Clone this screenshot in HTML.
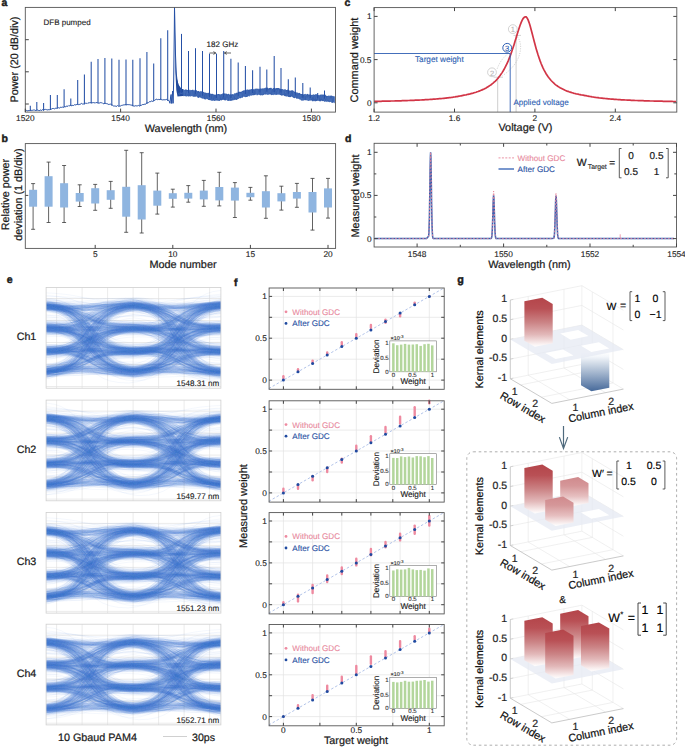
<!DOCTYPE html>
<html><head><meta charset="utf-8"><style>
html,body{margin:0;padding:0;background:#fff;}
svg{display:block;font-family:"Liberation Sans", sans-serif;text-rendering:geometricPrecision;}
</style></head><body>
<svg width="685" height="747" viewBox="0 0 685 747">
<rect width="685" height="747" fill="#fff"/>
<text x="1.5" y="6.3" font-size="10.5" text-anchor="start" fill="#1a1a1a" stroke="#1a1a1a" stroke-width="0.45" font-weight="bold">a</text>
<polyline points="25.6,110.7 26.4,110.4 27.2,111 28,110.3 28.8,110.7 29.6,110.5 30.4,110.1 31.2,110.6 32,110 32.8,110.4 33.6,110 34.4,110 35.2,110.3 36,110.7 36.8,109.9 37.6,110 38.4,110.4 39.2,110.7 40,110.2 40.8,110 41.6,110.6 42.4,109.5 43.2,110.4 44,109.7 44.8,109.5 45.6,109.4 46.4,109.6 47.2,110.1 48,109.4 48.8,109.8 49.6,109.7 50.4,109.3 51.2,109.3 52,108.6 52.8,108.5 53.6,108.5 54.4,108.9 55.2,108.4 56,108.1 56.8,108.3 57.6,108 58.4,107.7 59.2,108.1 60,107.8 60.8,107.1 61.6,107.4 62.4,107.1 63.2,107.4 64,107.1 64.8,106.4 65.6,107 66.4,106 67.2,106.1 68,106.4 68.8,105.5 69.6,105.8 70.4,105.1 71.2,105.7 72,105.6 72.8,105.3 73.6,105.5 74.4,104.7 75.2,105 76,104.7 76.8,104.5 77.6,104.3 78.4,104.6 79.2,104.6 80,104 80.8,104.1 81.6,103.4 82.4,104 83.2,103.9 84,104.2 84.8,103.9 85.6,103.2 86.4,103.3 87.2,103.5 88,102.7 88.8,103.1 89.6,102.7 90.4,102.6 91.2,102.5 92,103.2 92.8,102.5 93.6,102.6 94.4,102.7 95.2,103.2 96,102.3 96.8,102.7 97.6,102.8 98.4,103.1 99.2,103 100,103 100.8,102.5 101.6,102.8 102.4,102.9 103.2,103.7 104,103.9 104.8,103.2 105.6,103.4 106.4,103.6 107.2,103.7 108,104.2 108.8,104.5 109.6,104.3 110.4,104.1 111.2,104.8 112,104.9 112.8,105.4 113.6,106 114.4,106 115.2,106 116,106.3 116.8,106.3 117.6,105.5 118.4,106.3 119.2,106.1 120,106.1 120.8,105.9 121.6,105.4 122.4,105.3 123.2,104.8 124,105.3 124.8,104.6 125.6,104.5 126.4,104.6 127.2,104.5 128,104.8 128.8,104.6 129.6,104.7 130.4,104.9 131.2,105 132,105.4 132.8,105.2 133.6,106.2 134.4,106.1 135.2,105.7 136,105.9 136.8,105.9 137.6,105.8 138.4,105.4 139.2,106 140,106 140.8,105.3 141.6,105.2 142.4,104.6 143.2,104.5 144,104.6 144.8,104.1 145.6,104.3 146.4,103.2 147.2,102.6 148,103.2 148.8,102.3 149.6,101.6 150.4,101.8 151.2,100.9 152,101.2 152.8,101.4 153.6,101 154.4,100.5 155.2,99.8 156,99.6 156.8,99.1 157.6,99.7 158.4,99.4 159.2,99.7 160,99.2 160.8,99.1 161.6,99.7 162.4,99.9 163.2,99.8 164,99.7 164.8,99.8 165.6,99.7 166.4,99.3 167.2,100.1 168,100.3 168.8,100.4 169.2,101 170,103.3 170.6,97 171.1,94.5 171.7,103.5 172.6,91 173.1,103.3 173.7,80 174.3,30 174.5,7.6 174.8,20 175.5,55 176.3,74 177,80 178,85 179,88 180,90.5" fill="none" stroke="#2550a6" stroke-width="1" stroke-linejoin="round"/>
<polygon points="178,87.9 178.8,88.3 179.6,89.3 180.4,89.5 181.2,89.7 182,89 182.8,89.1 183.6,89.6 184.4,89.9 185.2,89.7 186,89.1 186.8,90.1 187.6,90 188.4,89.4 189.2,89.6 190,90.4 190.8,89.8 191.6,90.2 192.4,89.5 193.2,90.5 194,89.6 194.8,90.7 195.6,90.1 196.4,90 197.2,91.2 198,90.9 198.8,91 199.6,91.7 200.4,91.2 201.2,91.3 202,91.6 202.8,91.6 203.6,92.1 204.4,92.5 205.2,92.5 206,92.8 206.8,93 207.6,93.1 208.4,92.8 209.2,93.1 210,94 210.8,93.6 211.6,94.1 212.4,93.7 213.2,94.1 214,94.7 214.8,94.4 215.6,94.8 216.4,94.3 217.2,94.2 218,94 218.8,94 219.6,94.2 220.4,94.5 221.2,94 222,94.3 222.8,93.3 223.6,93.2 224.4,93.2 225.2,94 226,93.2 226.8,94 227.6,94.3 228.4,93.7 229.2,94 230,94.9 230.8,94 231.6,94.6 232.4,94.1 233.2,94.5 234,94 234.8,93.1 235.6,93.5 236.4,92.6 237.2,93.2 238,92.1 238.8,91.7 239.6,91.8 240.4,91.7 241.2,91.9 242,90.8 242.8,91 243.6,90.2 244.4,90.6 245.2,89.8 246,90.3 246.8,89.6 247.6,89.4 248.4,89.8 249.2,89.8 250,89.3 250.8,89.5 251.6,88.9 252.4,88.7 253.2,88.9 254,89.4 254.8,88.9 255.6,88.7 256.4,88.5 257.2,89 258,88.3 258.8,89.2 259.6,89 260.4,88.5 261.2,88.4 262,88.7 262.8,88.2 263.6,88.6 264.4,88.2 265.2,87.7 266,87.7 266.8,87.8 267.6,87.6 268.4,88.6 269.2,87.9 270,88 270.8,87.8 271.6,88 272.4,88.9 273.2,88 274,88.1 274.8,87.8 275.6,88.4 276.4,88.1 277.2,87.9 278,88 278.8,88 279.6,88.4 280.4,88.8 281.2,89.1 282,89.2 282.8,89 283.6,89.8 284.4,89.6 285.2,89 286,90.1 286.8,90.1 287.6,89.5 288.4,90.1 289.2,90.6 290,90.4 290.8,90.7 291.6,90.3 292.4,90.3 293.2,90.6 294,91.4 294.8,91.7 295.6,91.8 296.4,92.5 297.2,92.4 298,92.8 298.8,93.2 299.6,92.7 300.4,93.7 301.2,94 302,94 302.8,94 303.6,94.4 304.4,94.3 305.2,93.7 306,94.5 306.8,94.3 307.6,93.7 308.4,94.5 309.2,94.5 310,94.4 310.8,94.4 311.6,94.9 312.4,95 313.2,93.9 314,94.9 314.8,94.5 315.6,94.2 316.4,94.2 317.2,94.2 318,95.2 318.8,95 319.6,95.2 320.4,94.4 321.2,94.7 322,94.2 322.8,94.7 323.6,94.5 324.4,94.8 325.2,94.5 326,95.6 326.8,95.9 327.6,95.9 328.4,95.4 329.2,96.3 330,95.6 330.8,95.7 331.6,95.6 332.4,95.9 333.2,96 334,96.4 334.8,96.3 334.8,103.4 334,102.4 333.2,102.4 332.4,103.1 331.6,102.8 330.8,101.8 330,102.1 329.2,102.2 328.4,101.8 327.6,101.6 326.8,102 326,101.2 325.2,101.8 324.4,101.8 323.6,101.1 322.8,101 322,101.2 321.2,100.6 320.4,101.6 319.6,101.3 318.8,101.1 318,100.6 317.2,101 316.4,101.1 315.6,101.5 314.8,100.7 314,101.5 313.2,100.8 312.4,101.4 311.6,100.5 310.8,100.3 310,100.7 309.2,100.5 308.4,100.9 307.6,100.4 306.8,100 306,100.3 305.2,100.3 304.4,100 303.6,100.6 302.8,100.7 302,100.3 301.2,100.7 300.4,99.5 299.6,99.3 298.8,99 298,98.5 297.2,98.8 296.4,98.8 295.6,97.6 294.8,98.2 294,97.9 293.2,97.8 292.4,97 291.6,96.4 290.8,97.1 290,97.2 289.2,97 288.4,96.9 287.6,96.3 286.8,96.6 286,96.2 285.2,96.3 284.4,96 283.6,95.2 282.8,95.3 282,95.8 281.2,95.4 280.4,95.1 279.6,94.7 278.8,94.4 278,94.8 277.2,94.6 276.4,94.9 275.6,94.8 274.8,94.7 274,94.6 273.2,95.3 272.4,94.8 271.6,95.2 270.8,94.6 270,94.6 269.2,94.3 268.4,94.7 267.6,94.9 266.8,94.1 266,94.9 265.2,94.2 264.4,94.5 263.6,94.9 262.8,95.2 262,95.4 261.2,94.9 260.4,95.4 259.6,94.9 258.8,94.6 258,95.1 257.2,95.2 256.4,94.6 255.6,94.7 254.8,94.9 254,95.2 253.2,95.3 252.4,95.3 251.6,95.4 250.8,95.6 250,95.6 249.2,96.6 248.4,96 247.6,96.8 246.8,96.9 246,96.9 245.2,97.2 244.4,96.7 243.6,96.5 242.8,97.6 242,98.1 241.2,97.6 240.4,98.6 239.6,98 238.8,99 238,98.7 237.2,99.8 236.4,100.1 235.6,99.8 234.8,99.8 234,100.3 233.2,100 232.4,100.6 231.6,100.7 230.8,100.7 230,101.1 229.2,100.5 228.4,101 227.6,100.9 226.8,99.7 226,100.3 225.2,100.5 224.4,100.3 223.6,99.8 222.8,100.1 222,99.8 221.2,100.8 220.4,100.1 219.6,100.9 218.8,101 218,100.5 217.2,100.8 216.4,100.6 215.6,100.6 214.8,101 214,100.8 213.2,100.5 212.4,100.7 211.6,100.8 210.8,100.3 210,100.2 209.2,99.9 208.4,100.1 207.6,99.2 206.8,98.8 206,99.2 205.2,99.5 204.4,99.3 203.6,98.6 202.8,98.9 202,98.1 201.2,98.2 200.4,97.6 199.6,97.3 198.8,97.9 198,97.8 197.2,97.3 196.4,96.3 195.6,96.8 194.8,96.7 194,96.8 193.2,96.8 192.4,95.9 191.6,95.9 190.8,96.8 190,96.1 189.2,96.5 188.4,96.5 187.6,96.1 186.8,96.4 186,96.2 185.2,96.3 184.4,95.9 183.6,96.3 182.8,95.5 182,95.4 181.2,95.4 180.4,95.9 179.6,95.1 178.8,95.2 178,94.6" fill="#2652a6" opacity="0.92"/>
<polygon points="174.6,10 175.3,48 176.1,70 177,79 178.5,84.5 181,88.2 183,89.5 183,96 177.5,96.5 176.3,90 175.4,72" fill="#214a9c"/>
<polyline points="178,94.4 178.4,94 178.9,92.8 179.3,94.9 179.8,95.2 180.2,92.5 180.7,93.8 181.1,89.1 181.6,94.1 182,92.2 182.5,94.4 182.9,93.7 183.4,91.1 183.8,89.4 184.3,95.8 184.7,90 185.2,92.6 185.6,91.7 186.1,91.4 186.5,94.6 187,96.3 187.4,91.2 187.9,94 188.3,91.5 188.8,93.4 189.2,92.2 189.7,90.6 190.1,90.6 190.6,91 191,96 191.5,93.1 191.9,91.1 192.4,96.1 192.8,96.8 193.3,92.9 193.7,90.6 194.2,91.1 194.6,90.3 195.1,92.2 195.5,90.5 196,91.7 196.4,92 196.9,94.3 197.3,96.7 197.8,95.8 198.2,93.5 198.7,93.6 199.1,94.5 199.6,93.6 200,93.4 200.5,91.5 200.9,93.2 201.4,98.3 201.8,92.3 202.3,95.1 202.7,96.2 203.2,97.9 203.6,93.4 204.1,93.9 204.5,93.8 205,95 205.4,95.5 205.9,99.3 206.3,98.6 206.8,98.9 207.2,92.9 207.7,93 208.1,98 208.6,99.4 209,96.5 209.5,97.4 209.9,93.3 210.4,96.2 210.8,100.1 211.3,99.5 211.7,99.8 212.2,100.7 212.6,95.6 213.1,94.7 213.5,95.1 214,97.7 214.4,98.8 214.9,100.7 215.3,99.1 215.8,98.5 216.2,99.3 216.7,97.1 217.1,97.7 217.6,94 218,99.3 218.5,95.3 218.9,100.3 219.4,98.3 219.8,95.8 220.3,94.5 220.7,95.3 221.2,98.1 221.6,98.5 222.1,94.2 222.5,93.9 223,97.2 223.4,97.5 223.9,96.1 224.3,94.9 224.8,97.6 225.2,93.3 225.7,95.4 226.1,96.6 226.6,100.2 227,98 227.5,99.8 227.9,97 228.4,95.3 228.8,95.5 229.3,100.7 229.7,98.9 230.2,96.1 230.6,94.1 231.1,97.6 231.5,99 232,97.2 232.4,95.9 232.9,98.7 233.3,100.4 233.8,95.2 234.2,93.7 234.7,95.7 235.1,96.2 235.6,97.9 236,94.3 236.5,98.4 236.9,97.8 237.4,96 237.8,93.7 238.3,99 238.7,94.2 239.2,97.7 239.6,93.3 240.1,93.1 240.5,96.8 241,93.3 241.4,97.9 241.9,94.4 242.3,92 242.8,92.1 243.2,93.4 243.7,95 244.1,96.9 244.6,91 245,92.7 245.5,91.4 245.9,96.8 246.4,90.7 246.8,90 247.3,90 247.7,92.4 248.2,95.9 248.6,95.8 249.1,94.6 249.5,96.5 250,95.9 250.4,91.5 250.9,90.4 251.3,95.8 251.8,94.3 252.2,89.1 252.7,93.6 253.1,91.5 253.6,91.4 254,91 254.5,89.8 254.9,88.5 255.4,90.5 255.8,91 256.3,95.3 256.7,89.3 257.2,95.3 257.6,89.8 258.1,90.9 258.5,94.2 259,94.2 259.4,91.3 259.9,88.5 260.3,91.6 260.8,90.8 261.2,94.7 261.7,89.5 262.1,90.7 262.6,94.5 263,88.2 263.5,90.9 263.9,93.8 264.4,93.4 264.8,88.2 265.3,88.1 265.7,88.3 266.2,94.4 266.6,89.6 267.1,93.1 267.5,94.2 268,90.2 268.4,89.7 268.9,94.7 269.3,92.2 269.8,89.7 270.2,93 270.7,90.1 271.1,89.8 271.6,87.9 272,93.3 272.5,94.5 272.9,92.5 273.4,94.7 273.8,88.1 274.3,89.7 274.7,91.4 275.2,94.9 275.6,94.9 276.1,90.8 276.5,89.9 277,91.2 277.4,91.7 277.9,94.8 278.3,89.5 278.8,93.9 279.2,93.5 279.7,94.1 280.1,93.8 280.6,92.7 281,90.8 281.5,90.8 281.9,91.2 282.4,94.3 282.8,89.3 283.3,90.2 283.7,94.3 284.2,90.7 284.6,89.5 285.1,89.3 285.5,93.2 286,91.6 286.4,96.4 286.9,95.8 287.3,96.6 287.8,91.5 288.2,90.2 288.7,90.4 289.1,93.4 289.6,95 290,93.2 290.5,91.7 290.9,93.1 291.4,94.6 291.8,95.1 292.3,95.7 292.7,96.6 293.2,95.4 293.6,91.7 294.1,97 294.5,93.2 295,95.3 295.4,94.1 295.9,96.9 296.3,93.1 296.8,93.6 297.2,93.8 297.7,93.3 298.1,98.7 298.6,96.6 299,95 299.5,95.6 299.9,100.1 300.4,96.7 300.8,94.9 301.3,99.2 301.7,98.2 302.2,100.7 302.6,94.4 303.1,97.1 303.5,99.6 304,99.7 304.4,100.3 304.9,94 305.3,95.9 305.8,94.6 306.2,95.2 306.7,100.8 307.1,98 307.6,100.6 308,96.6 308.5,100.1 308.9,97.1 309.4,95.8 309.8,99.6 310.3,100.8 310.7,94.8 311.2,98.3 311.6,98.5 312.1,95.6 312.5,96.7 313,95.1 313.4,95.6 313.9,95.9 314.3,98.4 314.8,98.8 315.2,95.6 315.7,94.2 316.1,96.5 316.6,99.1 317,95.5 317.5,96.5 317.9,95.7 318.4,100 318.8,98.2 319.3,94.7 319.7,95 320.2,97.2 320.6,98.3 321.1,98.9 321.5,95 322,95.5 322.4,99.4 322.9,97.3 323.3,96.5 323.8,96.7 324.2,101.4 324.7,96.9 325.1,98.8 325.6,97.3 326,97.8 326.5,101.1 326.9,102.1 327.4,97.7 327.8,96.5 328.3,100.4 328.7,96.7 329.2,95.3 329.6,101.8 330.1,98.5 330.5,101.4 331,98.5 331.4,102 331.9,99 332.3,96.9 332.8,95.9 333.2,99.8 333.7,100.6 334.1,102.6 334.6,96.7 335,100.6 335.5,98.9" fill="none" stroke="#5a85c8" stroke-width="0.35" opacity="0.7"/>
<path d="M30.3,111.1 L30.3,105.8" fill="none" stroke="#2550a6" stroke-width="1.05"/>
<path d="M36.8,110.8 L36.8,102" fill="none" stroke="#2550a6" stroke-width="1.05"/>
<path d="M43.6,110.5 L43.6,103" fill="none" stroke="#2550a6" stroke-width="1.05"/>
<path d="M50.4,109.9 L50.4,94.9" fill="none" stroke="#2550a6" stroke-width="1.05"/>
<path d="M57.3,108.6 L57.3,95.1" fill="none" stroke="#2550a6" stroke-width="1.05"/>
<path d="M64.1,107.3 L64.1,89.2" fill="none" stroke="#2550a6" stroke-width="1.05"/>
<path d="M70.8,106.1 L70.8,98.4" fill="none" stroke="#2550a6" stroke-width="1.05"/>
<path d="M77.7,104.8 L77.7,80" fill="none" stroke="#2550a6" stroke-width="1.05"/>
<path d="M84.4,104.1 L84.4,74.6" fill="none" stroke="#2550a6" stroke-width="1.05"/>
<path d="M91.2,103.5 L91.2,61.8" fill="none" stroke="#2550a6" stroke-width="1.05"/>
<path d="M98,103.2 L98,59" fill="none" stroke="#2550a6" stroke-width="1.05"/>
<path d="M104.9,104.1 L104.9,58" fill="none" stroke="#2550a6" stroke-width="1.05"/>
<path d="M111.8,105.5 L111.8,58.5" fill="none" stroke="#2550a6" stroke-width="1.05"/>
<path d="M119,106.3 L119,59.8" fill="none" stroke="#2550a6" stroke-width="1.05"/>
<path d="M126,105.4 L126,59.6" fill="none" stroke="#2550a6" stroke-width="1.05"/>
<path d="M132.8,106.2 L132.8,59.8" fill="none" stroke="#2550a6" stroke-width="1.05"/>
<path d="M140,106 L140,58.2" fill="none" stroke="#2550a6" stroke-width="1.05"/>
<path d="M146.9,103.8 L146.9,51.9" fill="none" stroke="#2550a6" stroke-width="1.05"/>
<path d="M153.7,101.1 L153.7,63.5" fill="none" stroke="#2550a6" stroke-width="1.05"/>
<path d="M160.8,99.9 L160.8,38.3" fill="none" stroke="#2550a6" stroke-width="1.05"/>
<path d="M167.7,100.8 L167.7,30.2" fill="none" stroke="#2550a6" stroke-width="1.05"/>
<path d="M181.5,92.9 L181.5,33.9" fill="none" stroke="#2550a6" stroke-width="1.05"/>
<path d="M188.5,93.4 L188.5,51" fill="none" stroke="#2550a6" stroke-width="1.05"/>
<path d="M195.5,94 L195.5,48.2" fill="none" stroke="#2550a6" stroke-width="1.05"/>
<path d="M202.5,95.7 L202.5,51" fill="none" stroke="#2550a6" stroke-width="1.05"/>
<path d="M209.5,97.3 L209.5,53.6" fill="none" stroke="#2550a6" stroke-width="1.05"/>
<path d="M216.5,97.9 L216.5,53.6" fill="none" stroke="#2550a6" stroke-width="1.05"/>
<path d="M223.7,97.4 L223.7,51" fill="none" stroke="#2550a6" stroke-width="1.05"/>
<path d="M230.9,98.1 L230.9,58.7" fill="none" stroke="#2550a6" stroke-width="1.05"/>
<path d="M238.2,96.2 L238.2,62.4" fill="none" stroke="#2550a6" stroke-width="1.05"/>
<path d="M245.4,94 L245.4,66" fill="none" stroke="#2550a6" stroke-width="1.05"/>
<path d="M252.6,92.9 L252.6,70.2" fill="none" stroke="#2550a6" stroke-width="1.05"/>
<path d="M260,92.3 L260,66.7" fill="none" stroke="#2550a6" stroke-width="1.05"/>
<path d="M266.8,91.8 L266.8,69.6" fill="none" stroke="#2550a6" stroke-width="1.05"/>
<path d="M274.2,92.1 L274.2,56.1" fill="none" stroke="#2550a6" stroke-width="1.05"/>
<path d="M281,92.5 L281,67.9" fill="none" stroke="#2550a6" stroke-width="1.05"/>
<path d="M288.3,93.7 L288.3,79.3" fill="none" stroke="#2550a6" stroke-width="1.05"/>
<path d="M295.3,95.4 L295.3,77.5" fill="none" stroke="#2550a6" stroke-width="1.05"/>
<path d="M302.8,97.7 L302.8,83" fill="none" stroke="#2550a6" stroke-width="1.05"/>
<path d="M310.2,98.1 L310.2,87.4" fill="none" stroke="#2550a6" stroke-width="1.05"/>
<path d="M317.7,98.3 L317.7,93" fill="none" stroke="#2550a6" stroke-width="1.05"/>
<path d="M324.5,98.7 L324.5,90.5" fill="none" stroke="#2550a6" stroke-width="1.05"/>
<rect x="25.3" y="7.4" width="310.2" height="104.7" fill="none" stroke="#555" stroke-width="0.9"/>
<line x1="25.3" y1="39.7" x2="28.8" y2="39.7" stroke="#444" stroke-width="1.0"/>
<line x1="25.3" y1="71.8" x2="28.8" y2="71.8" stroke="#444" stroke-width="1.0"/>
<line x1="25.3" y1="104" x2="28.8" y2="104" stroke="#444" stroke-width="1.0"/>
<line x1="25.3" y1="112.1" x2="25.3" y2="108.6" stroke="#444" stroke-width="1.0"/>
<text x="25.3" y="120.9" font-size="8.3" text-anchor="middle" fill="#1a1a1a" stroke="#1a1a1a" stroke-width="0.12">1520</text>
<line x1="120.6" y1="112.1" x2="120.6" y2="108.6" stroke="#444" stroke-width="1.0"/>
<text x="120.6" y="120.9" font-size="8.3" text-anchor="middle" fill="#1a1a1a" stroke="#1a1a1a" stroke-width="0.12">1540</text>
<line x1="216" y1="112.1" x2="216" y2="108.6" stroke="#444" stroke-width="1.0"/>
<text x="216" y="120.9" font-size="8.3" text-anchor="middle" fill="#1a1a1a" stroke="#1a1a1a" stroke-width="0.12">1560</text>
<line x1="311.4" y1="112.1" x2="311.4" y2="108.6" stroke="#444" stroke-width="1.0"/>
<text x="311.4" y="120.9" font-size="8.3" text-anchor="middle" fill="#1a1a1a" stroke="#1a1a1a" stroke-width="0.12">1580</text>
<text x="186" y="132" font-size="10.9" text-anchor="middle" fill="#1a1a1a" stroke="#1a1a1a" stroke-width="0.22">Wavelength (nm)</text>
<text x="17.8" y="59.5" font-size="10.8" text-anchor="middle" fill="#1a1a1a" stroke="#1a1a1a" stroke-width="0.22" transform="rotate(-90 17.8 59.5)">Power (20 dB/div)</text>
<text x="43.5" y="25.2" font-size="8" text-anchor="start" fill="#1a1a1a" stroke="#1a1a1a" stroke-width="0.12">DFB pumped</text>
<text x="206.6" y="46.8" font-size="8" text-anchor="start" fill="#1a1a1a" stroke="#1a1a1a" stroke-width="0.12">182 GHz</text>
<path d="M209.5,53 H215.6 M213.4,51.6 L215.8,53 L213.4,54.4" fill="none" stroke="#222" stroke-width="0.7"/>
<path d="M231,53 H224.6 M226.8,51.6 L224.4,53 L226.8,54.4" fill="none" stroke="#222" stroke-width="0.7"/>
<text x="1.5" y="142" font-size="10.5" text-anchor="start" fill="#1a1a1a" stroke="#1a1a1a" stroke-width="0.45" font-weight="bold">b</text>
<line x1="33.1" y1="183.6" x2="33.1" y2="229.3" stroke="#3a3a3a" stroke-width="0.8"/>
<line x1="31.1" y1="183.6" x2="35.1" y2="183.6" stroke="#3a3a3a" stroke-width="0.8"/>
<line x1="31.1" y1="229.3" x2="35.1" y2="229.3" stroke="#3a3a3a" stroke-width="0.8"/>
<rect x="29.1" y="189.8" width="8" height="16.9" fill="#8fb5e0"/>
<line x1="48.6" y1="162.1" x2="48.6" y2="222.5" stroke="#3a3a3a" stroke-width="0.8"/>
<line x1="46.6" y1="162.1" x2="50.6" y2="162.1" stroke="#3a3a3a" stroke-width="0.8"/>
<line x1="46.6" y1="222.5" x2="50.6" y2="222.5" stroke="#3a3a3a" stroke-width="0.8"/>
<rect x="44.6" y="176.2" width="8" height="30.5" fill="#8fb5e0"/>
<line x1="64.1" y1="165.5" x2="64.1" y2="222.5" stroke="#3a3a3a" stroke-width="0.8"/>
<line x1="62.1" y1="165.5" x2="66.1" y2="165.5" stroke="#3a3a3a" stroke-width="0.8"/>
<line x1="62.1" y1="222.5" x2="66.1" y2="222.5" stroke="#3a3a3a" stroke-width="0.8"/>
<rect x="60.1" y="183.2" width="8" height="24.3" fill="#8fb5e0"/>
<line x1="79.7" y1="184.8" x2="79.7" y2="206.5" stroke="#3a3a3a" stroke-width="0.8"/>
<line x1="77.7" y1="184.8" x2="81.7" y2="184.8" stroke="#3a3a3a" stroke-width="0.8"/>
<line x1="77.7" y1="206.5" x2="81.7" y2="206.5" stroke="#3a3a3a" stroke-width="0.8"/>
<rect x="75.7" y="193" width="8" height="8.6" fill="#8fb5e0"/>
<line x1="95.2" y1="184.4" x2="95.2" y2="210.3" stroke="#3a3a3a" stroke-width="0.8"/>
<line x1="93.2" y1="184.4" x2="97.2" y2="184.4" stroke="#3a3a3a" stroke-width="0.8"/>
<line x1="93.2" y1="210.3" x2="97.2" y2="210.3" stroke="#3a3a3a" stroke-width="0.8"/>
<rect x="91.2" y="188.2" width="8" height="15.3" fill="#8fb5e0"/>
<line x1="110.7" y1="181.4" x2="110.7" y2="208.3" stroke="#3a3a3a" stroke-width="0.8"/>
<line x1="108.7" y1="181.4" x2="112.7" y2="181.4" stroke="#3a3a3a" stroke-width="0.8"/>
<line x1="108.7" y1="208.3" x2="112.7" y2="208.3" stroke="#3a3a3a" stroke-width="0.8"/>
<rect x="106.7" y="190.2" width="8" height="9.6" fill="#8fb5e0"/>
<line x1="126.2" y1="150.3" x2="126.2" y2="232.3" stroke="#3a3a3a" stroke-width="0.8"/>
<line x1="124.2" y1="150.3" x2="128.2" y2="150.3" stroke="#3a3a3a" stroke-width="0.8"/>
<line x1="124.2" y1="232.3" x2="128.2" y2="232.3" stroke="#3a3a3a" stroke-width="0.8"/>
<rect x="122.2" y="186.8" width="8" height="29.9" fill="#8fb5e0"/>
<line x1="141.7" y1="152.7" x2="141.7" y2="233" stroke="#3a3a3a" stroke-width="0.8"/>
<line x1="139.7" y1="152.7" x2="143.7" y2="152.7" stroke="#3a3a3a" stroke-width="0.8"/>
<line x1="139.7" y1="233" x2="143.7" y2="233" stroke="#3a3a3a" stroke-width="0.8"/>
<rect x="137.7" y="185.2" width="8" height="34.3" fill="#8fb5e0"/>
<line x1="157.3" y1="173.1" x2="157.3" y2="214.1" stroke="#3a3a3a" stroke-width="0.8"/>
<line x1="155.3" y1="173.1" x2="159.3" y2="173.1" stroke="#3a3a3a" stroke-width="0.8"/>
<line x1="155.3" y1="214.1" x2="159.3" y2="214.1" stroke="#3a3a3a" stroke-width="0.8"/>
<rect x="153.3" y="190.6" width="8" height="15.1" fill="#8fb5e0"/>
<line x1="172.8" y1="189.2" x2="172.8" y2="207.1" stroke="#3a3a3a" stroke-width="0.8"/>
<line x1="170.8" y1="189.2" x2="174.8" y2="189.2" stroke="#3a3a3a" stroke-width="0.8"/>
<line x1="170.8" y1="207.1" x2="174.8" y2="207.1" stroke="#3a3a3a" stroke-width="0.8"/>
<rect x="168.8" y="193.2" width="8" height="5.6" fill="#8fb5e0"/>
<line x1="188.3" y1="185.6" x2="188.3" y2="202.2" stroke="#3a3a3a" stroke-width="0.8"/>
<line x1="186.3" y1="185.6" x2="190.3" y2="185.6" stroke="#3a3a3a" stroke-width="0.8"/>
<line x1="186.3" y1="202.2" x2="190.3" y2="202.2" stroke="#3a3a3a" stroke-width="0.8"/>
<rect x="184.3" y="192.8" width="8" height="5.8" fill="#8fb5e0"/>
<line x1="203.8" y1="180.4" x2="203.8" y2="206.3" stroke="#3a3a3a" stroke-width="0.8"/>
<line x1="201.8" y1="180.4" x2="205.8" y2="180.4" stroke="#3a3a3a" stroke-width="0.8"/>
<line x1="201.8" y1="206.3" x2="205.8" y2="206.3" stroke="#3a3a3a" stroke-width="0.8"/>
<rect x="199.8" y="190.6" width="8" height="8.8" fill="#8fb5e0"/>
<line x1="219.3" y1="172.3" x2="219.3" y2="205.9" stroke="#3a3a3a" stroke-width="0.8"/>
<line x1="217.3" y1="172.3" x2="221.3" y2="172.3" stroke="#3a3a3a" stroke-width="0.8"/>
<line x1="217.3" y1="205.9" x2="221.3" y2="205.9" stroke="#3a3a3a" stroke-width="0.8"/>
<rect x="215.3" y="187" width="8" height="13.4" fill="#8fb5e0"/>
<line x1="234.9" y1="182.6" x2="234.9" y2="217.5" stroke="#3a3a3a" stroke-width="0.8"/>
<line x1="232.9" y1="182.6" x2="236.9" y2="182.6" stroke="#3a3a3a" stroke-width="0.8"/>
<line x1="232.9" y1="217.5" x2="236.9" y2="217.5" stroke="#3a3a3a" stroke-width="0.8"/>
<rect x="230.9" y="187.6" width="8" height="13" fill="#8fb5e0"/>
<line x1="250.4" y1="187.4" x2="250.4" y2="200.2" stroke="#3a3a3a" stroke-width="0.8"/>
<line x1="248.4" y1="187.4" x2="252.4" y2="187.4" stroke="#3a3a3a" stroke-width="0.8"/>
<line x1="248.4" y1="200.2" x2="252.4" y2="200.2" stroke="#3a3a3a" stroke-width="0.8"/>
<rect x="246.4" y="192.8" width="8" height="4.4" fill="#8fb5e0"/>
<line x1="265.9" y1="175.8" x2="265.9" y2="218.3" stroke="#3a3a3a" stroke-width="0.8"/>
<line x1="263.9" y1="175.8" x2="267.9" y2="175.8" stroke="#3a3a3a" stroke-width="0.8"/>
<line x1="263.9" y1="218.3" x2="267.9" y2="218.3" stroke="#3a3a3a" stroke-width="0.8"/>
<rect x="261.9" y="191.2" width="8" height="16.3" fill="#8fb5e0"/>
<line x1="281.4" y1="186.2" x2="281.4" y2="210.1" stroke="#3a3a3a" stroke-width="0.8"/>
<line x1="279.4" y1="186.2" x2="283.4" y2="186.2" stroke="#3a3a3a" stroke-width="0.8"/>
<line x1="279.4" y1="210.1" x2="283.4" y2="210.1" stroke="#3a3a3a" stroke-width="0.8"/>
<rect x="277.4" y="193.2" width="8" height="8.2" fill="#8fb5e0"/>
<line x1="296.9" y1="183.4" x2="296.9" y2="207.3" stroke="#3a3a3a" stroke-width="0.8"/>
<line x1="294.9" y1="183.4" x2="298.9" y2="183.4" stroke="#3a3a3a" stroke-width="0.8"/>
<line x1="294.9" y1="207.3" x2="298.9" y2="207.3" stroke="#3a3a3a" stroke-width="0.8"/>
<rect x="292.9" y="192" width="8" height="6.6" fill="#8fb5e0"/>
<line x1="312.5" y1="178.4" x2="312.5" y2="230.1" stroke="#3a3a3a" stroke-width="0.8"/>
<line x1="310.5" y1="178.4" x2="314.5" y2="178.4" stroke="#3a3a3a" stroke-width="0.8"/>
<line x1="310.5" y1="230.1" x2="314.5" y2="230.1" stroke="#3a3a3a" stroke-width="0.8"/>
<rect x="308.5" y="192" width="8" height="20.5" fill="#8fb5e0"/>
<line x1="328" y1="178.4" x2="328" y2="218.1" stroke="#3a3a3a" stroke-width="0.8"/>
<line x1="326" y1="178.4" x2="330" y2="178.4" stroke="#3a3a3a" stroke-width="0.8"/>
<line x1="326" y1="218.1" x2="330" y2="218.1" stroke="#3a3a3a" stroke-width="0.8"/>
<rect x="324" y="188.4" width="8" height="19.1" fill="#8fb5e0"/>
<rect x="25.3" y="143.6" width="310.3" height="104.8" fill="none" stroke="#555" stroke-width="0.9"/>
<line x1="25.3" y1="195.4" x2="28.3" y2="195.4" stroke="#444" stroke-width="1.0"/>
<line x1="95.2" y1="248.4" x2="95.2" y2="244.9" stroke="#444" stroke-width="1.0"/>
<text x="95.2" y="257" font-size="8.3" text-anchor="middle" fill="#1a1a1a" stroke="#1a1a1a" stroke-width="0.12">5</text>
<line x1="172.8" y1="248.4" x2="172.8" y2="244.9" stroke="#444" stroke-width="1.0"/>
<text x="172.8" y="257" font-size="8.3" text-anchor="middle" fill="#1a1a1a" stroke="#1a1a1a" stroke-width="0.12">10</text>
<line x1="250.4" y1="248.4" x2="250.4" y2="244.9" stroke="#444" stroke-width="1.0"/>
<text x="250.4" y="257" font-size="8.3" text-anchor="middle" fill="#1a1a1a" stroke="#1a1a1a" stroke-width="0.12">15</text>
<line x1="328" y1="248.4" x2="328" y2="244.9" stroke="#444" stroke-width="1.0"/>
<text x="328" y="257" font-size="8.3" text-anchor="middle" fill="#1a1a1a" stroke="#1a1a1a" stroke-width="0.12">20</text>
<text x="183" y="267.8" font-size="10.9" text-anchor="middle" fill="#1a1a1a" stroke="#1a1a1a" stroke-width="0.22">Mode number</text>
<text x="8.9" y="194.5" font-size="10.8" text-anchor="middle" fill="#1a1a1a" stroke="#1a1a1a" stroke-width="0.22" transform="rotate(-90 8.9 194.5)">Relative power</text>
<text x="22" y="194.5" font-size="10.8" text-anchor="middle" fill="#1a1a1a" stroke="#1a1a1a" stroke-width="0.22" transform="rotate(-90 22 194.5)">deviation (1 dB/div)</text>
<text x="344.6" y="6.3" font-size="10.5" text-anchor="start" fill="#1a1a1a" stroke="#1a1a1a" stroke-width="0.45" font-weight="bold">c</text>
<line x1="497.7" y1="77.2" x2="497.7" y2="112.1" stroke="#c8c8c8" stroke-width="0.9"/>
<line x1="516.1" y1="35.4" x2="516.1" y2="112.1" stroke="#c8c8c8" stroke-width="0.9"/>
<line x1="493.5" y1="77.2" x2="503" y2="77.2" stroke="#c8c8c8" stroke-width="0.8"/>
<line x1="513.5" y1="35.4" x2="521" y2="35.4" stroke="#c8c8c8" stroke-width="0.8"/>
<path d="M517.4,37 C522.9,42.6 523.4,62 502.4,75.7 M497.2,68.7 C499.8,61.8 503.6,57 507.2,54.6" fill="none" stroke="#bdbdbd" stroke-width="0.7" stroke-dasharray="1.1,1.3"/>
<polyline points="374.1,101.4 375.1,101.4 376.1,101.3 377.1,101.3 378.1,101.3 379.1,101.3 380.1,101.3 381.1,101.3 382.1,101.2 383.1,101.2 384.1,101.2 385.1,101.2 386.1,101.1 387.1,101.1 388.1,101.1 389.1,101.1 390.1,101.1 391.1,101 392.1,101 393.1,101 394.1,101 395.1,100.9 396.1,100.9 397.1,100.9 398.1,100.8 399.1,100.8 400.1,100.8 401.1,100.8 402.1,100.7 403.1,100.7 404.1,100.7 405.1,100.6 406.1,100.6 407.1,100.6 408.1,100.5 409.1,100.5 410.1,100.4 411.1,100.4 412.1,100.4 413.1,100.3 414.1,100.3 415.1,100.2 416.1,100.2 417.1,100.2 418.1,100.1 419.1,100.1 420.1,100 421.1,100 422.1,99.9 423.1,99.9 424.1,99.8 425.1,99.7 426.1,99.7 427.1,99.6 428.1,99.6 429.1,99.5 430.1,99.4 431.1,99.4 432.1,99.3 433.1,99.2 434.1,99.2 435.1,99.1 436.1,99 437.1,98.9 438.1,98.8 439.1,98.7 440.1,98.7 441.1,98.6 442.1,98.5 443.1,98.4 444.1,98.3 445.1,98.2 446.1,98.1 447.1,97.9 448.1,97.8 449.1,97.7 450.1,97.6 451.1,97.5 452.1,97.3 453.1,97.2 454.1,97 455.1,96.9 456.1,96.7 457.1,96.6 458.1,96.4 459.1,96.2 460.1,96 461.1,95.8 462.1,95.6 463.1,95.4 464.1,95.2 465.1,95 466.1,94.8 467.1,94.5 468.1,94.3 469.1,94.1 470.1,93.9 471.1,93.6 472.1,93.3 473.1,93.1 474.1,92.8 475.1,92.5 476.1,92.2 477.1,91.8 478.1,91.5 479.1,91.1 480.1,90.7 481.1,90.3 482.1,89.9 483.1,89.4 484.1,89 485.1,88.4 486.1,87.9 487.1,87.3 488.1,86.7 489.1,86.1 490.1,85.4 491.1,84.7 492.1,83.9 493.1,83.1 494.1,82.2 495.1,81.3 496.1,80.3 497.1,79.2 498.1,78.1 499.1,76.8 500.1,75.5 501.1,74.1 502.1,72.6 503.1,71 504.1,69.3 505.1,67.4 506.1,65.4 507.1,63.3 508.1,61.1 509.1,58.6 510.1,56.1 511.1,53.4 512.1,50.5 513.1,47.5 514.1,44.4 515.1,41.1 516.1,37.9 517.1,34.6 518.1,31.3 519.1,28.2 520.1,25.3 521.1,22.6 522.1,20.4 523.1,18.6 524.1,17.4 525.1,16.8 526.1,16.9 527.1,18 528.1,19.9 529.1,22.6 530.1,25.8 531.1,29.4 532.1,33.2 533.1,37.1 534.1,41 535.1,44.8 536.1,48.4 537.1,51.8 538.1,55.1 539.1,58.1 540.1,60.9 541.1,63.5 542.1,65.8 543.1,68.1 544.1,70.1 545.1,71.9 546.1,73.7 547.1,75.2 548.1,76.7 549.1,78.1 550.1,79.3 551.1,80.5 552.1,81.5 553.1,82.5 554.1,83.4 555.1,84.3 556.1,85.1 557.1,85.8 558.1,86.5 559.1,87.1 560.1,87.8 561.1,88.3 562.1,88.8 563.1,89.3 564.1,89.8 565.1,90.3 566.1,90.7 567.1,91.1 568.1,91.4 569.1,91.8 570.1,92.1 571.1,92.4 572.1,92.7 573.1,93 574.1,93.3 575.1,93.5 576.1,93.8 577.1,94 578.1,94.2 579.1,94.5 580.1,94.7 581.1,94.9 582.1,95 583.1,95.2 584.1,95.4 585.1,95.6 586.1,95.7 587.1,96 588.1,96.1 589.1,96.3 590.1,96.5 591.1,96.7 592.1,96.9 593.1,97 594.1,97.2 595.1,97.3 596.1,97.5 597.1,97.6 598.1,97.7 599.1,97.9 600.1,98 601.1,98.1 602.1,98.2 603.1,98.3 604.1,98.4 605.1,98.5 606.1,98.6 607.1,98.7 608.1,98.8 609.1,98.9 610.1,99 611.1,99.1 612.1,99.2 613.1,99.2 614.1,99.3 615.1,99.4 616.1,99.4 617.1,99.5 618.1,99.6 619.1,99.6 620.1,99.7 621.1,99.8 622.1,99.8 623.1,99.9 624.1,99.9 625.1,100 626.1,100 627.1,100.1 628.1,100.1 629.1,100.2 630.1,100.2 631.1,100.3 632.1,100.3 633.1,100.4 634.1,100.4 635.1,100.5 636.1,100.5 637.1,100.5 638.1,100.6 639.1,100.6 640.1,100.6 641.1,100.7 642.1,100.7 643.1,100.7 644.1,100.8 645.1,100.8 646.1,100.8 647.1,100.9 648.1,100.9 649.1,100.9 650.1,101 651.1,101 652.1,101 653.1,101 654.1,101.1 655.1,101.1 656.1,101.1 657.1,101.1 658.1,101.2 659.1,101.2 660.1,101.2 661.1,101.2 662.1,101.2 663.1,101.3 664.1,101.3 665.1,101.3 666.1,101.3 667.1,101.3 668.1,101.4 669.1,101.4 670.1,101.4 671.1,101.4 672.1,101.4 673.1,101.5 674.1,101.5 675.1,101.5 676.1,101.5" fill="none" stroke="#d23546" stroke-width="1.7"/>
<path d="M374.1,53.5 H510.2 V112.1" fill="none" stroke="#2f5fb3" stroke-width="0.9"/>
<circle cx="492" cy="72.3" r="4.4" fill="#fff" stroke="#c8c8c8" stroke-width="0.8"/>
<text x="492.2" y="75.6" font-size="7.6" text-anchor="middle" fill="#b5b5b5" stroke="#b5b5b5" stroke-width="0.12">2</text>
<circle cx="512.8" cy="29.1" r="4.4" fill="#fff" stroke="#c8c8c8" stroke-width="0.8"/>
<text x="512.8" y="32.3" font-size="7.6" text-anchor="middle" fill="#b5b5b5" stroke="#b5b5b5" stroke-width="0.12">1</text>
<circle cx="507.2" cy="47.8" r="4.4" fill="#fff" stroke="#2f5fb3" stroke-width="1"/>
<text x="507.2" y="50.7" font-size="7.6" text-anchor="middle" fill="#2f5fb3" stroke="#2f5fb3" stroke-width="0.12">3</text>
<text x="415" y="62" font-size="8.2" text-anchor="start" fill="#2f5fb3" stroke="#2f5fb3" stroke-width="0.12">Target weight</text>
<text x="513.4" y="105.2" font-size="8.1" text-anchor="start" fill="#2f5fb3" stroke="#2f5fb3" stroke-width="0.12">Applied voltage</text>
<rect x="374.1" y="7.6" width="302.7" height="104.5" fill="none" stroke="#555" stroke-width="0.9"/>
<line x1="374.1" y1="16.4" x2="377.6" y2="16.4" stroke="#444" stroke-width="1.0"/>
<line x1="676.8" y1="16.4" x2="673.3" y2="16.4" stroke="#444" stroke-width="1.0"/>
<text x="371.5" y="19.3" font-size="8.3" text-anchor="end" fill="#1a1a1a" stroke="#1a1a1a" stroke-width="0.12">1</text>
<line x1="374.1" y1="59.6" x2="377.6" y2="59.6" stroke="#444" stroke-width="1.0"/>
<line x1="676.8" y1="59.6" x2="673.3" y2="59.6" stroke="#444" stroke-width="1.0"/>
<text x="371.5" y="62.5" font-size="8.3" text-anchor="end" fill="#1a1a1a" stroke="#1a1a1a" stroke-width="0.12">0.5</text>
<line x1="374.1" y1="102.8" x2="377.6" y2="102.8" stroke="#444" stroke-width="1.0"/>
<line x1="676.8" y1="102.8" x2="673.3" y2="102.8" stroke="#444" stroke-width="1.0"/>
<text x="371.5" y="105.7" font-size="8.3" text-anchor="end" fill="#1a1a1a" stroke="#1a1a1a" stroke-width="0.12">0</text>
<line x1="374.1" y1="112.1" x2="374.1" y2="108.6" stroke="#444" stroke-width="1.0"/>
<line x1="374.1" y1="7.6" x2="374.1" y2="11.1" stroke="#444" stroke-width="1.0"/>
<text x="374.1" y="121" font-size="8.3" text-anchor="middle" fill="#1a1a1a" stroke="#1a1a1a" stroke-width="0.12">1.2</text>
<line x1="454.5" y1="112.1" x2="454.5" y2="108.6" stroke="#444" stroke-width="1.0"/>
<line x1="454.5" y1="7.6" x2="454.5" y2="11.1" stroke="#444" stroke-width="1.0"/>
<text x="454.5" y="121" font-size="8.3" text-anchor="middle" fill="#1a1a1a" stroke="#1a1a1a" stroke-width="0.12">1.6</text>
<line x1="534.9" y1="112.1" x2="534.9" y2="108.6" stroke="#444" stroke-width="1.0"/>
<line x1="534.9" y1="7.6" x2="534.9" y2="11.1" stroke="#444" stroke-width="1.0"/>
<text x="534.9" y="121" font-size="8.3" text-anchor="middle" fill="#1a1a1a" stroke="#1a1a1a" stroke-width="0.12">2</text>
<line x1="615.3" y1="112.1" x2="615.3" y2="108.6" stroke="#444" stroke-width="1.0"/>
<line x1="615.3" y1="7.6" x2="615.3" y2="11.1" stroke="#444" stroke-width="1.0"/>
<text x="615.3" y="121" font-size="8.3" text-anchor="middle" fill="#1a1a1a" stroke="#1a1a1a" stroke-width="0.12">2.4</text>
<text x="525.4" y="131" font-size="10.9" text-anchor="middle" fill="#1a1a1a" stroke="#1a1a1a" stroke-width="0.22">Voltage (V)</text>
<text x="358.4" y="60" font-size="10.9" text-anchor="middle" fill="#1a1a1a" stroke="#1a1a1a" stroke-width="0.22" transform="rotate(-90 358.4 60)">Command weight</text>
<text x="345" y="142" font-size="10.5" text-anchor="start" fill="#1a1a1a" stroke="#1a1a1a" stroke-width="0.45" font-weight="bold">d</text>
<polyline points="374.6,238.6 376.6,238.6 378.6,238.6 380.6,238.6 382.6,238.6 384.6,238.6 386.6,238.6 388.6,238.6 390.6,238.6 392.6,238.6 394.6,238.6 396.6,238.6 398.6,238.6 400.6,238.6 402.6,238.6 404.6,238.6 406.6,238.6 408.6,238.6 410.6,238.6 412.6,238.6 414.6,238.6 416.6,238.6 418.6,238.6 420.6,238.6 422.6,238.6 424.6,238.6 426.6,238.6 428.6,236.3 428.9,233.2 429.1,227.4 429.4,217.7 429.6,203.8 429.9,186.8 430.1,169.8 430.4,157.1 430.6,152.3 430.9,157.1 431.1,169.8 431.4,186.8 431.6,203.8 431.9,217.7 432.1,227.4 432.4,233.2 432.6,236.3 432.9,237.7 433.1,238.3 433.4,238.5 433.6,238.6 433.9,238.6 434.1,238.6 434.4,238.6 434.6,238.6 436.6,238.6 438.6,238.6 440.6,238.6 442.6,238.6 444.6,238.6 446.6,238.6 448.6,238.6 450.6,238.6 452.6,238.6 454.6,238.6 456.6,238.6 458.6,238.6 460.6,238.6 462.6,238.6 464.6,238.6 466.6,238.6 468.6,238.6 470.6,238.6 472.6,238.6 474.6,238.6 476.6,238.6 478.6,238.6 480.6,238.6 482.6,238.6 484.6,238.6 486.6,238.6 488.6,238.6 490.6,238.6 490.9,238.6 491.1,238.5 491.4,238.2 491.6,237.5 491.9,235.9 492.1,233 492.4,228.1 492.6,221.2 492.9,212.7 493.1,204.2 493.4,197.8 493.6,195.4 493.9,197.8 494.1,204.2 494.4,212.7 494.6,221.2 494.9,228.1 495.1,233 495.4,235.9 495.6,237.5 495.9,238.2 496.1,238.5 496.4,238.6 496.6,238.6 496.9,238.6 497.1,238.6 497.4,238.6 497.6,238.6 499.6,238.6 501.6,238.6 503.6,238.6 505.6,238.6 507.6,238.6 509.6,238.6 511.6,238.6 513.6,238.6 515.6,238.6 517.6,238.6 519.6,238.6 521.6,238.6 523.6,238.6 525.6,238.6 527.6,238.6 529.6,238.6 531.6,238.6 533.6,238.6 535.6,238.6 537.6,238.6 539.6,238.6 541.6,238.6 543.6,238.6 545.6,238.6 547.6,238.6 549.6,238.6 551.6,238.6 553.6,238.4 553.9,237.9 554.1,237 554.4,234.9 554.6,231.3 554.9,225.6 555.1,217.9 555.4,209.2 555.6,201.3 555.9,196.3 556.1,195.8 556.4,200 556.6,207.5 556.9,216.2 557.1,224.2 557.4,230.3 557.6,234.4 557.9,236.7 558.1,237.8 558.4,238.3 558.6,238.5 558.9,238.6 559.1,238.6 559.4,238.6 559.6,238.6 559.9,238.6 560.1,238.6 562.1,238.6 564.1,238.6 566.1,238.6 568.1,238.6 570.1,238.6 572.1,238.6 574.1,238.6 576.1,238.6 578.1,238.6 580.1,238.6 582.1,238.6 584.1,238.6 586.1,238.6 588.1,238.6 590.1,238.6 592.1,238.6 594.1,238.6 596.1,238.6 598.1,238.6 600.1,238.6 602.1,238.6 604.1,238.6 606.1,238.6 608.1,238.6 610.1,238.6 612.1,238.6 614.1,238.6 616.1,238.6 618.1,238.6 620.1,238.6 622.1,238.6 624.1,238.6 626.1,238.6 628.1,238.6 630.1,238.6 632.1,238.6 634.1,238.6 636.1,238.6 638.1,238.6 640.1,238.6 642.1,238.6 644.1,238.6 646.1,238.6 648.1,238.6 650.1,238.6 652.1,238.6 654.1,238.6 656.1,238.6 658.1,238.6 660.1,238.6 662.1,238.6 664.1,238.6 666.1,238.6 668.1,238.6 670.1,238.6 672.1,238.6 674.1,238.6" fill="none" stroke="#2f5fb3" stroke-width="1.5"/>
<polyline points="374.6,238.6 376.6,238.6 378.6,238.6 380.6,238.6 382.6,238.6 384.6,238.6 386.6,238.6 388.6,238.6 390.6,238.6 392.6,238.6 394.6,238.6 396.6,238.6 398.6,238.6 400.6,238.6 402.6,238.6 404.6,238.6 406.6,238.6 408.6,238.6 410.6,238.6 412.6,238.6 414.6,238.6 416.6,238.6 418.6,238.6 420.6,238.6 422.6,238.6 424.6,238.6 426.6,238.6 428.6,236.3 428.9,233.2 429.1,227.4 429.4,217.7 429.6,203.8 429.9,186.8 430.1,169.8 430.4,157.1 430.6,152.3 430.9,157.1 431.1,169.8 431.4,186.8 431.6,203.8 431.9,217.7 432.1,227.4 432.4,233.2 432.6,236.3 432.9,237.7 433.1,238.3 433.4,238.5 433.6,238.6 433.9,238.6 434.1,238.6 434.4,238.6 434.6,238.6 436.6,238.6 438.6,238.6 440.6,238.6 442.6,238.6 444.6,238.6 446.6,238.6 448.6,238.6 450.6,238.6 452.6,238.6 454.6,238.6 456.6,238.6 458.6,238.6 460.6,238.6 462.6,238.6 464.6,238.6 466.6,238.6 468.6,238.6 470.6,238.6 472.6,238.6 474.6,238.6 476.6,238.6 478.6,238.6 480.6,238.6 482.6,238.6 484.6,238.6 486.6,238.6 488.6,238.6 490.6,238.6 490.9,238.6 491.1,238.4 491.4,238.1 491.6,237.3 491.9,235.6 492.1,232.4 492.4,227.1 492.6,219.4 492.9,210.1 493.1,200.8 493.4,193.8 493.6,191.1 493.9,193.8 494.1,200.8 494.4,210.1 494.6,219.4 494.9,227.1 495.1,232.4 495.4,235.6 495.6,237.3 495.9,238.1 496.1,238.4 496.4,238.6 496.6,238.6 496.9,238.6 497.1,238.6 497.4,238.6 497.6,238.6 499.6,238.6 501.6,238.6 503.6,238.6 505.6,238.6 507.6,238.6 509.6,238.6 511.6,238.6 513.6,238.6 515.6,238.6 517.6,238.6 519.6,238.6 521.6,238.6 523.6,238.6 525.6,238.6 527.6,238.6 529.6,238.6 531.6,238.6 533.6,238.6 535.6,238.6 537.6,238.6 539.6,238.6 541.6,238.6 543.6,238.6 545.6,238.6 547.6,238.6 549.6,238.6 551.6,238.6 553.6,238.4 553.9,237.9 554.1,236.9 554.4,234.7 554.6,230.9 554.9,224.8 555.1,216.7 555.4,207.4 555.6,199 555.9,193.8 556.1,193.3 556.4,197.7 556.6,205.6 556.9,214.8 557.1,223.3 557.4,229.8 557.6,234.1 557.9,236.5 558.1,237.8 558.4,238.3 558.6,238.5 558.9,238.6 559.1,238.6 559.4,238.6 559.6,238.6 559.9,238.6 560.1,238.6 562.1,238.6 564.1,238.6 566.1,238.6 568.1,238.6 570.1,238.6 572.1,238.6 574.1,238.6 576.1,238.6 578.1,238.6 580.1,238.6 582.1,238.6 584.1,238.6 586.1,238.6 588.1,238.6 590.1,238.6 592.1,238.6 594.1,238.6 596.1,238.6 598.1,238.6 600.1,238.6 602.1,238.6 604.1,238.6 606.1,238.6 608.1,238.6 610.1,238.6 612.1,238.6 614.1,238.6 616.1,238.6 618.1,238.6 620.1,238.6 622.1,238.6 624.1,238.6 626.1,238.6 628.1,238.6 630.1,238.6 632.1,238.6 634.1,238.6 636.1,238.6 638.1,238.6 640.1,238.6 642.1,238.6 644.1,238.6 646.1,238.6 648.1,238.6 650.1,238.6 652.1,238.6 654.1,238.6 656.1,238.6 658.1,238.6 660.1,238.6 662.1,238.6 664.1,238.6 666.1,238.6 668.1,238.6 670.1,238.6 672.1,238.6 674.1,238.6" fill="none" stroke="#e8879a" stroke-width="0.9" stroke-dasharray="2,1.4"/>
<line x1="620.2" y1="234.3" x2="620.2" y2="238.6" stroke="#e8879a" stroke-width="0.8"/>
<rect x="374.1" y="143.3" width="302.4" height="103.7" fill="none" stroke="#555" stroke-width="0.9"/>
<line x1="374.1" y1="238.6" x2="377.6" y2="238.6" stroke="#444" stroke-width="1.0"/>
<line x1="676.5" y1="238.6" x2="673" y2="238.6" stroke="#444" stroke-width="1.0"/>
<line x1="374.1" y1="217" x2="376.3" y2="217" stroke="#444" stroke-width="1.0"/>
<line x1="676.5" y1="217" x2="674.3" y2="217" stroke="#444" stroke-width="1.0"/>
<line x1="374.1" y1="195.4" x2="377.6" y2="195.4" stroke="#444" stroke-width="1.0"/>
<line x1="676.5" y1="195.4" x2="673" y2="195.4" stroke="#444" stroke-width="1.0"/>
<line x1="374.1" y1="173.9" x2="376.3" y2="173.9" stroke="#444" stroke-width="1.0"/>
<line x1="676.5" y1="173.9" x2="674.3" y2="173.9" stroke="#444" stroke-width="1.0"/>
<line x1="374.1" y1="152.3" x2="377.6" y2="152.3" stroke="#444" stroke-width="1.0"/>
<line x1="676.5" y1="152.3" x2="673" y2="152.3" stroke="#444" stroke-width="1.0"/>
<text x="371.5" y="155.2" font-size="8.3" text-anchor="end" fill="#1a1a1a" stroke="#1a1a1a" stroke-width="0.12">1</text>
<text x="371.5" y="198.3" font-size="8.3" text-anchor="end" fill="#1a1a1a" stroke="#1a1a1a" stroke-width="0.12">0.5</text>
<text x="371.5" y="241.5" font-size="8.3" text-anchor="end" fill="#1a1a1a" stroke="#1a1a1a" stroke-width="0.12">0</text>
<line x1="417.1" y1="247" x2="417.1" y2="243.5" stroke="#444" stroke-width="1.0"/>
<line x1="417.1" y1="143.3" x2="417.1" y2="146.8" stroke="#444" stroke-width="1.0"/>
<text x="417.1" y="257.2" font-size="8.3" text-anchor="middle" fill="#1a1a1a" stroke="#1a1a1a" stroke-width="0.12">1548</text>
<line x1="460.3" y1="247" x2="460.3" y2="244.8" stroke="#444" stroke-width="1.0"/>
<line x1="460.3" y1="143.3" x2="460.3" y2="145.5" stroke="#444" stroke-width="1.0"/>
<line x1="503.6" y1="247" x2="503.6" y2="243.5" stroke="#444" stroke-width="1.0"/>
<line x1="503.6" y1="143.3" x2="503.6" y2="146.8" stroke="#444" stroke-width="1.0"/>
<text x="503.6" y="257.2" font-size="8.3" text-anchor="middle" fill="#1a1a1a" stroke="#1a1a1a" stroke-width="0.12">1550</text>
<line x1="546.8" y1="247" x2="546.8" y2="244.8" stroke="#444" stroke-width="1.0"/>
<line x1="546.8" y1="143.3" x2="546.8" y2="145.5" stroke="#444" stroke-width="1.0"/>
<line x1="590" y1="247" x2="590" y2="243.5" stroke="#444" stroke-width="1.0"/>
<line x1="590" y1="143.3" x2="590" y2="146.8" stroke="#444" stroke-width="1.0"/>
<text x="590" y="257.2" font-size="8.3" text-anchor="middle" fill="#1a1a1a" stroke="#1a1a1a" stroke-width="0.12">1552</text>
<line x1="633.2" y1="247" x2="633.2" y2="244.8" stroke="#444" stroke-width="1.0"/>
<line x1="633.2" y1="143.3" x2="633.2" y2="145.5" stroke="#444" stroke-width="1.0"/>
<line x1="676.5" y1="247" x2="676.5" y2="243.5" stroke="#444" stroke-width="1.0"/>
<line x1="676.5" y1="143.3" x2="676.5" y2="146.8" stroke="#444" stroke-width="1.0"/>
<text x="676.5" y="257.2" font-size="8.3" text-anchor="middle" fill="#1a1a1a" stroke="#1a1a1a" stroke-width="0.12">1554</text>
<text x="529.5" y="267.5" font-size="10.9" text-anchor="middle" fill="#1a1a1a" stroke="#1a1a1a" stroke-width="0.22">Wavelength (nm)</text>
<text x="359" y="196" font-size="10.9" text-anchor="middle" fill="#1a1a1a" stroke="#1a1a1a" stroke-width="0.22" transform="rotate(-90 359 196)">Measured weight</text>
<line x1="498.5" y1="157.9" x2="514" y2="157.9" stroke="#e8879a" stroke-width="0.9" stroke-dasharray="2,1.4"/>
<text x="517.6" y="160.8" font-size="8.1" text-anchor="start" fill="#e8899d" stroke="#e8899d" stroke-width="0.12">Without GDC</text>
<line x1="498.5" y1="169" x2="514" y2="169" stroke="#2f5fb3" stroke-width="1.3"/>
<text x="517.6" y="171.9" font-size="8.1" text-anchor="start" fill="#2a52a3" stroke="#2a52a3" stroke-width="0.12">After GDC</text>
<text x="576.8" y="165.8" font-size="10.5" text-anchor="start" fill="#1a1a1a" stroke="#1a1a1a" stroke-width="0.22">W</text>
<text x="587.8" y="169.4" font-size="6.8" text-anchor="start" fill="#1a1a1a" stroke="#1a1a1a" stroke-width="0.12">Target</text>
<text x="609.3" y="166" font-size="10" text-anchor="start" fill="#1a1a1a" stroke="#1a1a1a" stroke-width="0.22">=</text>
<path d="M621.5,148.5 H619.3 V177.8 H621.5 M666,148.5 H668.2 V177.8 H666" fill="none" stroke="#333" stroke-width="0.8"/>
<text x="631" y="158.8" font-size="10" text-anchor="middle" fill="#1a1a1a" stroke="#1a1a1a" stroke-width="0.22">0</text>
<text x="656.5" y="158.8" font-size="10" text-anchor="middle" fill="#1a1a1a" stroke="#1a1a1a" stroke-width="0.22">0.5</text>
<text x="631" y="175" font-size="10" text-anchor="middle" fill="#1a1a1a" stroke="#1a1a1a" stroke-width="0.22">0.5</text>
<text x="656.5" y="175" font-size="10" text-anchor="middle" fill="#1a1a1a" stroke="#1a1a1a" stroke-width="0.22">1</text>
<text x="6.8" y="283.3" font-size="10.5" text-anchor="start" fill="#1a1a1a" stroke="#1a1a1a" stroke-width="0.45" font-weight="bold">e</text>
<defs>
<symbol id="eyeA" viewBox="0 0 174.8 100.7" overflow="hidden">
<g fill="none" stroke="#5590e0" stroke-width="0.55" stroke-opacity="0.115">
<path d="M-7,86.4L3.3,86.4C47.6,77 44,80.1 88.4,86C141.8,84.4 123.7,45.2 177,43.5L182,43.5M-7,14.7L0.6,14.7C44.4,14.7 43.2,37.2 87,37.9C139.3,41.4 122.9,43.6 175.3,41.1L182,41.1M-7,62.7L-1.8,62.7C42.7,64.4 41.9,23.3 86.4,21.2C139,21.3 120.9,17.8 173.5,16.8L182,16.8M-7,65.7L-1.9,65.7C50.6,65 32.6,24.4 85.1,19.5C130.8,24.9 126.6,77 172.3,80.3L182,80.3M-7,19.5L0.7,19.5C44.5,24.7 44.2,60.2 88,61C132.9,59.5 130.4,64.5 175.3,65.3L182,65.3M-7,65L-2.4,65C54.2,64.9 31,82.6 87.6,82.5C146.1,83.5 117.7,50.9 176.2,51.7L182,51.7M-7,81.9L4.3,81.9C62.6,75.3 30.7,25.5 89.1,17.4C143,22.9 125.5,19.9 179.5,14.2L182,14.2M-7,17.9L1.1,17.9C46.9,20.2 42.2,22.8 88.1,17.8C140,22.4 124.6,57.7 176.5,61.3L182,61.3M-7,65.5L5.1,65.5C62.9,62.5 33,62 90.9,64.9C149,61.8 121.5,18.2 179.6,16.5L182,16.5M-7,21.5L-8.2,21.5C49.4,24.8 22.7,78 80.2,81.6C133.1,78.9 112.2,19.5 165,16.6L182,16.6M-7,61.8L9,61.8C62.3,61.1 40.4,19.8 93.7,15.7C152,18.5 125.2,78.2 183.5,81.4L182,81.4M-7,43.8L2,43.8C59,45.9 33.5,79.2 90.5,84.8C136.9,81.3 129,44.4 175.4,42.8L182,42.8M-7,85L-4.2,85C45.1,79.3 39.3,79.3 88.6,85.8C138.6,83.7 125.4,64.6 175.4,65.1L182,65.1M-7,17L-4.7,17C43,22.4 36.6,20.4 84.3,16.4C128.6,18.4 128.8,81.5 173,84.6L182,84.6M-7,82.5L-4.4,82.5C47.2,76.3 30,43.7 81.6,42.8C140.8,43.9 109.5,17.6 168.6,15.4L182,15.4M-7,37.6L-2.7,37.6C46.5,36.4 34,36.5 83.2,35.6C139,39.4 117,75.6 172.8,78.1L182,78.1M-7,70.5L-5.5,70.5C52,66.9 25.9,25.8 83.5,23C134.1,24.5 118.1,39.6 168.7,37.1L182,37.1M-7,57.8L-2.4,57.8C49.1,57.3 31.8,65.5 83.3,66.9C132.9,67.6 120.2,80.6 169.8,83.8L182,83.8M-7,85.3L4.6,85.3C61.2,79.4 33.8,25.1 90.4,20C137.1,24.4 133.6,41.7 180.4,39.6L182,39.6M-7,14.8L-1.3,14.8C44.3,18.8 39.7,42.1 85.3,40.1C137.4,40.3 123.9,43.2 175.9,41.4L182,41.4M-7,40.4L1.1,40.4C59.3,41.9 34.4,45.1 92.6,42.1C138.4,42.6 128.8,39.4 174.6,38.9L182,38.9M-7,80.1L-4.5,80.1C44.9,74.8 37,80.9 86.4,87.3C145.8,81.1 111,44.7 170.5,44.8L182,44.8M-7,16.7L1.3,16.7C46.2,18.8 44.1,79.4 89,81.1C138.3,80.5 124.4,43.3 173.7,44.2L182,44.2M-7,36.9L3.3,36.9C61.1,38.8 33.4,40.3 91.2,40.7C144.8,40.5 124.4,79.7 178,83.4L182,83.4M-7,59.4L-2.8,59.4C47.3,56 38.9,65.8 89,67.4C140.1,67.9 121.9,18.4 173,19.4L182,19.4M-7,36.8L2.8,36.8C57.5,39.5 35,60.6 89.8,62.5C143.1,60.6 127.4,63.4 180.8,64.3L182,64.3M-7,35.3L2.8,35.3C59.2,35.5 32.5,84.7 89,87C133.4,78.4 132.1,30.4 176.5,24.2L182,24.2M-7,86.3L1.6,86.3C54.2,83.9 37,18.6 89.5,17.5C133.4,19.9 133.6,87.2 177.6,89.1L182,89.1M-7,29.9L11.1,29.9C63,34.1 46.6,54.9 98.5,56.3C157.6,54 126.1,81.3 185.2,88.6L182,88.6M-7,87.5L-1.6,87.5C52.2,80.7 32.1,27.3 85.8,21.4C142.4,22.1 115.5,41.3 172,40.4L182,40.4M-7,19.9L1.3,19.9C55.3,20.8 31.8,60.1 85.8,61.2C129.6,59.1 131.3,65.5 175.2,66L182,66M-7,64.6L0.7,64.6C52.2,65.6 37.8,17.9 89.3,18.5C140,25.5 123.4,22.2 174.1,18L182,18M-7,87.5L-0.1,87.5C49.4,86.1 39,63.3 88.5,63.2C133.5,61.4 130.2,80.1 175.3,86.3L182,86.3M-7,18.4L0.2,18.4C46.1,20.8 41.1,19.7 87.1,18.3C132.6,20.9 129.3,57.7 174.9,60.3L182,60.3M-7,87.9L-0,87.9C49.8,87.2 35.5,60.1 85.3,62.5C137.5,59.6 122.3,75.3 174.5,81.6L182,81.6M-7,65.1L-2.7,65.1C49.6,63.1 36.4,24.3 88.7,18.4C144,26.3 118.9,41.4 174.2,38L182,38M-7,15.8L-2.6,15.8C48.8,22.6 36.5,75.5 87.9,79C132.3,75.1 131.6,44.5 176.1,41.9L182,41.9M-7,77.3L-1.4,77.3C44.6,74.2 40.4,17.9 86.4,11.5C132.8,12.4 126.8,83.4 173.1,84.5L182,84.5M-7,86L0.2,86C47,82.2 38.6,66 85.4,68.8C136.6,66 123.2,20.8 174.3,19.7L182,19.7M-7,42.9L1.1,42.9C58.3,43.8 34.8,61.4 92.1,61.7C148.3,60 121.2,74.7 177.5,83.7L182,83.7M-7,35.8L2.2,35.8C58.6,38.3 35.5,16.2 91.9,15.2C143.7,14 127.4,82.9 179.2,84L182,84M-7,38.7L-2.3,38.7C49.9,40.8 36,39.9 88.2,38.4C135,40.6 129.3,22.3 176,18.7L182,18.7M-7,80.4L7,80.4C52.9,76.3 50.8,82 96.7,88.4C152.8,85.6 127,41.2 183,43.2L182,43.2M-7,43L6.9,43C56.5,43.6 40.4,61.6 90,61.9C139.9,60.2 126.3,23.7 176.2,18.1L182,18.1M-7,61.7L-6,61.7C40.6,59.1 35.3,64.3 81.8,64.7C126.9,62.7 125.2,63 170.3,63.3L182,63.3M-7,21.7L2.1,21.7C55.6,25.6 36.7,61.9 90.2,64.8C146.3,65.6 116.8,83.6 172.9,85.6L182,85.6M-7,64.7L0.2,64.7C52.4,62.9 35.2,42 87.4,41.2C139.2,44.1 122.4,62 174.2,62.6L182,62.6M-7,17.6L6,17.6C63.5,20.9 37,39.3 94.6,39C147.2,42.9 130.5,21.8 183.1,16.6L182,16.6M-7,61.2L0.2,61.2C51.1,59 38.7,42.2 89.6,40.8C149,38.4 116.3,16.4 175.8,15.2L182,15.2M-7,20.6L-4.8,20.6C42.8,28.8 34.4,42.6 81.9,39.5C137,40.3 112.7,43.2 167.8,40.6L182,40.6M-7,81L4,81C60.7,79.2 37.4,68.6 94.1,66.9C143,66.9 130.8,82.5 179.7,86.8L182,86.8M-7,60.1L0.4,60.1C52,61.1 35.7,82.2 87.3,84.6C139.3,82.4 124.3,86.6 176.3,87.4L182,87.4M-7,16.8L-2.2,16.8C50.5,22 33.1,61.3 85.9,63C130,64.4 129.6,84.4 173.7,87L182,87M-7,43.3L4.5,43.3C55.6,42.9 37,66.5 88.1,64.5C145.9,64.5 122.1,39.2 179.9,39.7L182,39.7M-7,27.4L-2.7,27.4C47.6,31.7 34.3,36.8 84.6,35.3C140.6,39.3 119,45.6 175,43.8L182,43.8M-7,38.5L4.7,38.5C56.5,41.8 41.1,61.9 92.9,65.5C140.2,64.4 132.7,40.4 180,41.3L182,41.3M-7,80.3L4.6,80.3C59.9,80.8 37.6,22.9 92.8,22.5C150.6,25.7 125.3,22.5 183.2,16.3L182,16.3M-7,78.7L-1.7,78.7C55,76.8 27.7,25.6 84.4,21.8C136.5,25.7 121.7,39.7 173.8,38.7L182,38.7M-7,41.6L-1.2,41.6C53.7,43.2 33.9,78.5 88.8,81.9C134.9,81.2 129.2,66.2 175.3,67.6L182,67.6M-7,67.5L1,67.5C51.4,65.8 35,21.1 85.4,17.7C141.4,21.6 118.5,21.6 174.5,15.7L182,15.7"/>
<path d="M-7,83.6L4.7,83.6C49.1,83.2 45.3,62.3 89.7,63.4C135.7,58.6 132.4,43.7 178.4,42.9L182,42.9M-7,84.9L-1.4,84.9C53.8,83.2 31.5,44.8 86.8,42.9C134.3,44.7 128.9,20.3 176.4,17.4L182,17.4M-7,40.1L-2.8,40.1C47.1,41.2 35.4,23.2 85.3,18.8C132.4,22.6 122.2,41.2 169.3,39.7L182,39.7M-7,83.7L2.7,83.7C49.6,82.6 39.9,45.6 86.8,44.2C136.2,45.4 128,79 177.4,80.7L182,80.7M-7,85L1.2,85C58.1,84.5 30.6,44.4 87.5,42.8C135.3,43.5 130.9,63.2 178.6,66.7L182,66.7M-7,83.2L-2.8,83.2C52,81.1 29.5,21.6 84.3,21.7C130.3,22.6 125.5,40.7 171.5,38.2L182,38.2M-7,42.8L1.7,42.8C60.7,42.4 29.2,82 88.2,85.5C135.3,77.9 128.4,59.8 175.5,63.1L182,63.1M-7,43.6L-6.1,43.6C41.1,45.7 29.4,62.7 76.6,63.2C125.8,59.4 117.7,27.3 167,23.2L182,23.2M-7,44.2L-3.1,44.2C48.4,45.3 34.8,77.9 86.3,83.1C134,83.1 126.2,63.7 173.9,65.2L182,65.2M-7,67L4.1,67C48.6,64.7 51.1,42.6 95.6,41.8C140.4,39.8 136,81.6 180.8,84L182,84M-7,22.1L0.2,22.1C52.4,24.7 34.8,40.6 87,39.5C141,42.3 122,60.3 175.9,62.9L182,62.9M-7,68.4L-4,68.4C42.2,64.5 37.4,59.1 83.6,60.3C133.1,59.7 124.9,18.3 174.5,17.7L182,17.7M-7,43.1L-5.3,43.1C46.5,46.5 30.4,63.8 82.2,64.1C132.4,63.2 119.7,61.3 169.9,63.2L182,63.2M-7,66.8L2.2,66.8C52.5,62.7 40.1,58.2 90.4,61.4C146.7,59.9 122.2,63.5 178.6,62.6L182,62.6M-7,45L-8.8,45C50.5,46.7 22.9,11.5 82.2,11.3C126.5,13.2 124.5,70.9 168.9,72.7L182,72.7M-7,80.6L-10.2,80.6C37,75.4 30.9,64.7 78.1,66.9C130.9,64.7 112.8,22.1 165.5,15.9L182,15.9M-7,82L-7.9,82C42.1,79.4 31,45.5 81,44.3C133.3,45.6 114.8,19.9 167.2,15.4L182,15.4M-7,20.9L2,20.9C54.5,25 36.8,21.8 89.3,15.9C146,18.2 119.8,40.3 176.5,38.7L182,38.7M-7,82.9L2.3,82.9C59.9,83 33.8,21.2 91.4,22.1C139.3,25.2 132.3,41.9 180.2,40L182,40M-7,22.2L-4.5,22.2C50.6,24.7 30.3,82 85.4,81.7C139,78.5 120.3,84.9 173.8,88.1L182,88.1M-7,19.8L1.4,19.8C48,20.9 42.3,61.4 88.8,61.8C134,59.8 131.4,63.2 176.6,65.1L182,65.1M-7,43.7L-1.4,43.7C53.4,43.7 24.2,67.1 79.1,65.9C137.7,65.3 111.6,24.8 170.2,21.7L182,21.7M-7,40.9L3.1,40.9C57.7,43.4 32.3,76.3 86.8,79.8C136.6,77.3 126.1,24.3 175.8,24.2L182,24.2M-7,80L-5.5,80C43.1,76.5 37.1,81.6 85.8,87.6C143.1,87.9 117.3,65 174.6,65.5L182,65.5M-7,49.2L-0.5,49.2C51.6,48.3 37.7,41.6 89.8,39C143.6,40.1 121.1,17.9 174.9,19.4L182,19.4M-7,39.2L-1.8,39.2C43.5,37.9 42.3,16.9 87.6,14.6C144.4,16.1 116.8,84.4 173.6,84.2L182,84.2M-7,87.9L2.2,87.9C51.3,85.5 39,22.4 88,20.9C141.2,24.8 126,21.4 179.2,15.8L182,15.8M-7,19.5L3.5,19.5C58.8,21.5 33.1,41.3 88.4,39.2C134.4,38.9 132.7,62.1 178.7,62.8L182,62.8M-7,65.3L-8.2,65.3C48.9,62.5 21.1,76.2 78.2,83.8C128,79.2 116.3,43.7 166.1,43.5L182,43.5M-7,62.8L-5.7,62.8C44.5,63.1 34.4,85.5 84.6,87.1C134.9,85.4 121.8,61.5 172.1,64.6L182,64.6M-7,15.6L3.5,15.6C57.2,19.2 34.3,76.3 87.9,80.2C136.6,76.9 131.5,41.7 180.2,43L182,43M-7,77L-7.1,77C40,71.6 36.2,80.2 83.4,86.9C129.3,83.7 121.5,44.1 167.5,44L182,44M-7,60.9L-1.5,60.9C57.6,60 28.7,83.2 87.7,85.4C140.3,87.4 119.9,19.2 172.5,18.6L182,18.6M-7,64.6L4.6,64.6C61.7,64.7 35.6,65 92.7,65.9C151.7,62.8 119.3,42.9 178.2,40.8L182,40.8M-7,81.8L5.9,81.8C64.8,78.1 31.2,24.5 90.1,19.9C140.4,20.1 128.1,39.6 178.3,39.4L182,39.4M-7,63.2L4.4,63.2C52.8,61.2 39,79.9 87.4,84.2C137.9,79.9 127.2,43.8 177.7,41.8L182,41.8M-7,18.8L0.2,18.8C51.5,21.1 36.3,17.9 87.6,16.1C131.4,17.9 132.3,59.8 176.1,60.5L182,60.5M-7,46L0.6,46C49.7,47.3 39.1,62.7 88.2,63.5C144.6,60.2 120.2,63.1 176.6,67.5L182,67.5M-7,62.2L-1.3,62.2C50.1,66 34.2,22.9 85.6,19.6C134.7,24.9 124.8,19.1 173.9,14.8L182,14.8M-7,15.1L-5.8,15.1C40.1,20.1 38.4,74.2 84.3,81.2C135,74.9 122.6,77.9 173.3,87.3L182,87.3M-7,19.8L0.4,19.8C57.8,22.5 26.4,19.5 83.8,14.4C133.4,20.1 123,79 172.6,82.4L182,82.4M-7,86.6L-1.8,86.6C52.6,81.9 32.2,19.3 86.6,16.6C142.5,17.3 115.3,41.1 171.1,42L182,42M-7,84.4L-0.8,84.4C43.9,85.6 39.3,41.7 84.1,42.6C133.8,43.6 124.1,63.9 173.8,63.6L182,63.6M-7,40.9L3.1,40.9C48.3,42.8 48.7,26.5 93.9,20.4C146,26 127.3,59.1 179.4,58.7L182,58.7M-7,58.7L6.3,58.7C64,58.2 32.6,63.1 90.3,65.6C138.1,66.9 131.5,65.1 179.4,63.2L182,63.2M-7,82.8L-1.3,82.8C46.5,83.4 38.6,41.9 86.3,42.2C142.4,41.6 122.1,39.6 178.2,38.6L182,38.6M-7,65L4.7,65C51.5,62.7 43.4,62.8 90.1,64.3C148.8,62.9 120.1,46.5 178.7,44.9L182,44.9M-7,15.5L2,15.5C48.7,23.7 46.1,76.6 92.9,80.6C150.7,80.8 120.3,42.8 178.2,43.2L182,43.2M-7,60.8L2.3,60.8C47.4,57.9 47.5,42 92.5,40.6C138,42.5 132.5,40.1 177.9,37.3L182,37.3M-7,39.6L2.2,39.6C51.4,39.7 40.9,38.6 90,39.5C142.9,39.9 120.6,23.5 173.5,18.2L182,18.2M-7,43.3L1.7,43.3C54.4,43.2 38.7,81.1 91.4,84.3C136.2,80.7 132.8,42.2 177.6,41.1L182,41.1M-7,38.4L-3.9,38.4C40.9,41.5 42.1,13.7 86.9,18C137.2,23.3 123.7,26.3 174,17.7L182,17.7M-7,82L-5.8,82C51.7,76.1 23.7,65.9 81.2,68.7C139.5,67.7 111.6,19.9 169.9,19.5L182,19.5M-7,33.1L-8.5,33.1C49.9,33.9 19.5,41.9 78,40.7C122.5,41.6 123.2,42.6 167.7,41.4L182,41.4M-7,72.1L-0.6,72.1C44.8,69.5 41.2,22.9 86.5,18.1C135.7,24.3 124.4,26.4 173.6,19.9L182,19.9M-7,84L-0.3,84C43.7,82.8 43.9,21.8 88,21.7C141.9,24.8 120.8,77.3 174.8,80.1L182,80.1M-7,18.9L0.9,18.9C51.4,22.2 41.9,60.3 92.4,61.8C143.8,63.1 126.6,59 178,62.5L182,62.5M-7,89.3L-5.7,89.3C48,88.7 26.8,70.1 80.5,70C135.9,65.6 113.3,46.5 168.7,47.4L182,47.4M-7,87.7L-5.2,87.7C45.4,86.8 33.4,63.5 84,63.5C140.8,60.5 114,79.8 170.8,86.1L182,86.1M-7,82.4L5.6,82.4C52.4,82 47.2,71.9 94,74.9C153.1,69.2 121.7,23.3 180.8,18.8L182,18.8"/>
<path d="M-7,64.6L-0,64.6C58,60.2 30.4,42 88.4,40C142.6,39.9 121.6,21.2 175.8,18L182,18M-7,62.5L-1.3,62.5C54.7,57.7 30.5,40.6 86.6,39.6C140.3,40 122,56.7 175.8,56.5L182,56.5M-7,39.4L2.6,39.4C58.5,39.8 33.4,80.3 89.3,81.2C133.4,78 131.7,43.8 175.8,43.8L182,43.8M-7,20L-3.1,20C52.3,22.2 33.5,63 88.9,62.1C136.4,61.6 124.2,21 171.7,18.5L182,18.5M-7,65L-1.5,65C52.3,60.6 31.3,77 85.1,82.8C137.3,75.3 121.4,43.9 173.7,42.8L182,42.8M-7,35.1L-3.4,35.1C41.3,39.3 42.1,46 86.7,44.9C134.4,46 127.2,60.7 174.9,63.1L182,63.1M-7,86.6L-5.9,86.6C41.6,83 32.9,43.6 80.4,43.7C135.8,45.5 112.3,79 167.7,85.1L182,85.1M-7,83.8L1.2,83.8C48,84.4 38.8,64.1 85.5,63.7C132.4,62.2 126.1,22.2 173,15.9L182,15.9M-7,16.1L-1.5,16.1C56.8,22.8 26.7,75.7 85,80.8C132.3,77.2 124.5,58 171.8,62.9L182,62.9M-7,84.3L-6.4,84.3C43.9,78.6 31.9,45.6 82.1,42.5C129.3,44 120.9,61.5 168.1,62.6L182,62.6M-7,18.2L0.2,18.2C55,21.8 34.1,74.9 88.9,82.2C134.8,75.8 129.3,23.8 175.1,19.2L182,19.2M-7,60.2L7.2,60.2C61.6,61.2 36.2,64.5 90.5,64.4C143,64.1 130.5,79.8 182.9,82.7L182,82.7M-7,20.9L0.6,20.9C50.2,25.2 34.9,21.5 84.5,15.8C141.9,23.9 117.1,22.9 174.6,15.7L182,15.7M-7,16.2L-0.2,16.2C54.6,20.2 37.5,23.9 92.3,16.5C139.4,19.6 130.4,40.3 177.6,37.7L182,37.7M-7,66.6L-3.2,66.6C52.5,66.5 28,42.1 83.8,42.1C139.6,42 116,42.3 171.8,40.7L182,40.7M-7,33.7L-3.2,33.7C49.9,35.1 29.8,73 82.8,77.4C132.6,70.5 123.2,27.2 173,20.6L182,20.6M-7,62.4L-2.3,62.4C45.6,63.3 40.5,17.5 88.3,18C136.2,20.3 127,39.6 174.9,38.5L182,38.5M-7,64L-4.5,64C53.2,64.3 24.7,83.7 82.4,85.2C126.6,78.5 124.9,43 169.1,42.1L182,42.1M-7,59.9L-1.8,59.9C45.8,57.6 38.7,78.9 86.3,88.2C134.8,80.8 125.9,59.5 174.5,65.9L182,65.9M-7,11.4L-1.6,11.4C50.7,11.8 29.7,18.7 82,18.7C137.4,17.6 119.9,37 175.3,36.2L182,36.2M-7,19L-4.7,19C41.9,19.8 40.7,19 87.3,17.4C133.6,19.1 130,35.4 176.3,34.4L182,34.4M-7,17.2L-2.6,17.2C41.2,22.9 40.3,38.4 84.1,37C141.6,37.7 111.6,80.4 169.2,84.1L182,84.1M-7,87.2L-2.9,87.2C42.7,81.4 40.1,23 85.7,19.7C144.1,20.4 112.7,42.5 171.1,40.5L182,40.5M-7,21.8L-1.2,21.8C52.1,24.9 32.9,60.6 86.2,60.9C140,58.2 123.1,23.1 177,18.1L182,18.1M-7,12.6L3,12.6C49,14.7 41.1,17.8 87.1,16.3C144.6,19.3 116.3,44.4 173.8,43.4L182,43.4M-7,19.6L0.8,19.6C52.9,23.1 36.5,22 88.6,18C140.3,20.5 124.1,40.3 175.8,39.3L182,39.3M-7,37.9L-4.1,37.9C54.2,35.9 25,61.2 83.3,62C131.7,60.6 120.4,22.9 168.7,20.7L182,20.7M-7,83.1L2.4,83.1C60.2,82.5 30.5,60 88.3,64.6C145.2,63.2 114.9,60.2 171.8,62L182,62M-7,85.3L-1.3,85.3C55.9,86.8 30.5,22.4 87.8,21.6C141,26.5 122,39.6 175.2,38.2L182,38.2M-7,17.4L1.8,17.4C60,23.9 30.8,23.7 89,16.3C140.1,21.3 128.5,22.9 179.7,16.3L182,16.3M-7,67.6L3.2,67.6C49.9,63.9 46.3,77 93.1,82.8C142.6,77.6 128.1,48.3 177.6,46.2L182,46.2M-7,66.8L5.9,66.8C52.2,67.2 44.4,83.6 90.6,85.2C147.9,77.1 119,59.9 176.2,60.6L182,60.6M-7,85.2L-7.7,85.2C45.4,81.5 28.1,43 81.2,42.5C127,43.6 125,19.4 170.8,16.3L182,16.3M-7,22.8L-12.1,22.8C47.3,22.7 17,82.2 76.4,82.3C130.8,82 109.6,86.4 164,86.5L182,86.5M-7,39.9L0.1,39.9C57.6,42.2 28.5,78.2 86,84.2C135,82.6 125.3,66.7 174.3,66.3L182,66.3M-7,61.9L-0,61.9C46.9,60.7 39.1,38.1 86.1,38.8C134.5,41.7 128.2,76.2 176.6,80.5L182,80.5M-7,84.2L-3.1,84.2C55.6,79 25,45.7 83.7,44.4C132.4,46.2 124.4,83.3 173,84.6L182,84.6M-7,84.8L-6.8,84.8C40,84.5 34.9,46 81.7,44.2C129.3,42.9 122.5,81.3 170.1,82L182,82M-7,86.2L3.6,86.2C51.9,80.3 45.9,44.1 94.1,41.6C146.8,43.9 126.7,61.3 179.4,62.5L182,62.5M-7,18.5L6.9,18.5C63.2,25.5 38.2,40.3 94.5,38.8C145.7,37.5 129.1,14.8 180.3,14L182,14M-7,40.7L-0.9,40.7C49.7,42.6 35.2,17.5 85.8,14.3C141.4,21 118.3,20.9 173.9,14.6L182,14.6M-7,37.6L1.2,37.6C52.1,38.4 38.2,19.6 89.1,18.6C134.6,23.8 131.2,18.9 176.8,16.6L182,16.6M-7,21.4L2.7,21.4C48,22.4 48.2,39.8 93.6,40.2C143.2,43.1 132.5,22.3 182.1,14.8L182,14.8M-7,83.6L3.6,83.6C55.7,80.9 36.4,64.2 88.6,66C142.6,62.2 122.3,42 176.3,40.3L182,40.3M-7,43.2L-3.1,43.2C45.1,44.4 36.9,78.6 85.1,86.3C143.9,85.8 114.1,43.6 172.9,43.2L182,43.2M-7,40L-9.1,40C40.1,40.3 29.2,39.7 78.4,38.9C134.5,38.4 112.3,15.4 168.3,16.5L182,16.5M-7,43.4L-0.6,43.4C44.5,45.7 42.8,44.7 88,41.6C133.1,42.2 127.3,18.7 172.4,15.2L182,15.2M-7,61.3L-0.5,61.3C56.4,60.5 29.2,64.2 86.1,63.6C143.4,63.1 115.4,24.2 172.7,20.4L182,20.4M-7,85L-6.8,85C43.4,81 34.4,80.2 84.6,85.6C132.9,86.4 122.2,20.3 170.5,20.7L182,20.7M-7,86.3L-0.2,86.3C55,87.6 30,21.4 85.3,21.1C131.5,22 126.5,60 172.7,59.5L182,59.5M-7,23.3L-1.7,23.3C51.1,26.8 31.9,60.6 84.7,60.8C129.2,57 128.1,75.3 172.6,81.5L182,81.5M-7,80.4L-5.9,80.4C47.8,74.2 30.3,47.2 83.9,45.8C141.7,45.5 114,78.1 171.8,82.7L182,82.7M-7,80.9L-5.7,80.9C50.7,81 26.9,84.8 83.3,87.1C129.9,83.6 125.5,20.2 172.1,19L182,19M-7,66L0.7,66C54.6,68.9 30.7,18.6 84.7,19.2C143.4,25.5 115,39.8 173.7,37.4L182,37.4M-7,14.7L-2.2,14.7C51,17.3 31.3,56.7 84.4,57.8C132.2,55.7 127.1,27 174.9,19.5L182,19.5M-7,17.1L7.2,17.1C62.4,23.6 38.7,74.2 93.9,79.5C144.6,74.4 129.6,62 180.3,65.8L182,65.8M-7,19.4L-3.7,19.4C46.3,21.1 38,17.3 88,15.2C138.2,21.5 121.8,78.9 172.1,82.1L182,82.1M-7,39L-3,39C51.2,41.6 30.3,58 84.5,62.4C141,59.7 114.3,41.2 170.8,38.4L182,38.4M-7,64.8L6.5,64.8C64.3,63.6 35.8,65.6 93.6,65.9C142.8,62.7 129.9,26.5 179.1,20.6L182,20.6M-7,61.3L0.3,61.3C48.7,59.3 42.6,82.8 91.1,85.5C145.6,83.9 121.2,19.5 175.7,18.4L182,18.4"/>
<path d="M-7,21.9L4.3,21.9C51.9,23.3 41.7,83.6 89.3,83.6C142.7,76.4 128.9,62.4 182.3,63.8L182,63.8M-7,46.9L1.8,46.9C48.9,46.3 42.1,81 89.3,83.8C143.4,79.8 122.4,61.7 176.5,64.6L182,64.6M-7,64.7L-3.9,64.7C52,64.2 29.9,22.9 85.7,16.5C136.5,17.4 118.6,19.9 169.3,18L182,18M-7,22.5L-1.5,22.5C46.7,26.8 37.6,60.4 85.8,60.7C135.3,63.3 123.9,41.6 173.4,41.2L182,41.2M-7,16.4L3.1,16.4C49.3,21.1 48.8,76.7 95,81.9C152.6,80.6 122.3,46.4 179.8,45.6L182,45.6M-7,21.2L4.3,21.2C55.9,25.1 40.7,58.8 92.4,59.2C143.8,58.2 127.1,25 178.5,20.1L182,20.1M-7,62.2L1.4,62.2C53.5,61.6 38.4,15.4 90.5,17C138.3,23.9 130.1,22.1 178,15.6L182,15.6M-7,18.2L5.6,18.2C58,18.4 38.6,81.2 91,83C135.4,84.3 132.5,42.1 177,42.8L182,42.8M-7,43.5L-4.8,43.5C40.7,43.7 40.7,43.9 86.2,42.2C139.2,44 121.9,21.7 174.9,16.1L182,16.1M-7,62.5L-8.1,62.5C38.5,61 36.4,81.3 83,87.5C131.7,84.7 118.4,40.9 167.1,40L182,40M-7,43.1L-4.9,43.1C49.4,44.5 23.8,62.5 78.1,66.4C130.8,66.1 115.4,62.3 168.1,63L182,63M-7,87L-1.2,87C44.8,83.9 44.2,45.3 90.2,44.4C135.2,46.4 128.8,21.2 173.7,16.2L182,16.2M-7,76.3L3,76.3C48.9,77.1 44.8,47.8 90.7,47.2C139.8,48.7 129.9,64.9 179.1,69.7L182,69.7M-7,16.1L0.4,16.1C47.3,21.7 39.4,74.1 86.3,80.9C138.8,79.8 121.4,24.6 174,21L182,21M-7,63.2L1.9,63.2C47.9,62.4 41.5,42.1 87.5,40.5C145.8,43.5 115.5,27 173.9,19.5L182,19.5M-7,39.4L-9.2,39.4C34.9,38.2 33.2,60.7 77.3,60.5C129.6,58.2 114.1,20.7 166.4,17.8L182,17.8M-7,40.2L-3.2,40.2C50.1,42.4 31.3,57.8 84.7,60.1C128.5,56.7 130.4,21.2 174.3,15.2L182,15.2M-7,85.9L3.1,85.9C51,80.4 44.2,45.6 92.2,43.4C147.9,45.4 125.1,60.1 180.8,62.3L182,62.3M-7,43.4L-3.4,43.4C51.9,43.1 29.8,77.8 85.2,83C139.4,77.9 116.1,65.6 170.3,65.9L182,65.9M-7,84.4L1.1,84.4C47.7,80.4 43.5,83.3 90,86.8C144,82.5 125.2,86.2 179.1,90.4L182,90.4M-7,20.7L0.9,20.7C51.3,22 37,85.2 87.4,84.7C136.5,80.8 127.4,43.1 176.5,44.6L182,44.6M-7,83.8L-5,83.8C48.7,79.9 29.8,64.5 83.5,67C136.9,64.3 118.6,60.3 172,63.2L182,63.2M-7,87.7L-5,87.7C42.4,85.8 36.3,84.7 83.7,85.5C129.3,82.5 125.8,67 171.5,67L182,67M-7,38.7L-4.4,38.7C54.5,41.4 23.7,77.6 82.6,83.5C140.6,78.8 110.8,28.5 168.8,23.2L182,23.2M-7,20.6L-2.2,20.6C49.5,26 32.4,77.1 84,81.4C136.9,78.2 119.3,81.5 172.2,86.3L182,86.3M-7,81.6L-0.3,81.6C57.5,75.3 30,43.1 87.8,42.1C138.7,43 124.1,41.8 175.1,40L182,40M-7,82.5L-0.4,82.5C56.1,75.5 31.1,41.5 87.7,41.5C139.1,43 123.2,23 174.6,18.9L182,18.9M-7,86.1L2.6,86.1C48.6,80.4 44.9,64.3 90.9,65.4C138.5,61.9 128.9,24.1 176.5,19.1L182,19.1M-7,67.2L-2.5,67.2C44.6,66.3 37.1,22.3 84.3,18.8C143.1,21.8 112.5,81 171.3,81.5L182,81.5M-7,17.7L2.2,17.7C48.8,21.8 41.8,79.1 88.4,80.4C136.7,74.1 129,25.8 177.2,20.4L182,20.4M-7,86.8L4.3,86.8C51.9,83 44.8,78.2 92.4,84.2C142.8,82 131.2,67.4 181.7,68.9L182,68.9M-7,63.6L6.7,63.6C59.6,61.9 39.7,80.4 92.6,84.7C140.8,83.1 128.6,64.8 176.8,64.6L182,64.6M-7,65.7L-0.2,65.7C53.8,63.3 34.6,65.5 88.6,64.9C142.4,62.9 122.8,19.4 176.6,17.8L182,17.8M-7,79.8L-5.9,79.8C47.3,74.5 30,42.6 83.2,42C132.8,39.5 119.9,77.5 169.5,79.1L182,79.1M-7,19.6L8.9,19.6C60,22.5 46.6,57.6 97.7,59.4C143.7,60.2 134.5,82.2 180.5,83.8L182,83.8M-7,89.3L-0.2,89.3C54.3,87.7 31.8,44.6 86.3,45C136,45 125.7,66.2 175.5,66.5L182,66.5M-7,41.4L1.1,41.4C50.8,42.4 39.2,81 89,83.6C133.1,80.7 129.9,22.1 174,19L182,19M-7,18.4L3,18.4C53.2,24.4 40.4,77.2 90.6,83.8C139.2,76.3 128.3,29.1 176.9,22.3L182,22.3M-7,61.6L-4.9,61.6C53.2,58.2 27.4,80.7 85.5,84.4C137.6,78.8 117.9,24.5 170,19.1L182,19.1M-7,64.5L4,64.5C58.9,63.7 37.7,61.7 92.6,63.8C143.2,63.3 124.3,20 174.9,18.4L182,18.4M-7,36L4.2,36C59.7,38.2 34.9,78.9 90.5,82.4C145.2,80 125.1,83.5 179.8,86.3L182,86.3M-7,15.1L-1.5,15.1C55.4,20.5 26.4,73.4 83.3,79.5C142.4,73.5 111.8,77.7 170.9,86.3L182,86.3M-7,83.9L4,83.9C58.1,76.7 36.2,78.9 90.3,87.3C142.1,83.1 125.5,83.2 177.2,86L182,86M-7,22.1L4.4,22.1C61.8,24.5 32.5,80.4 89.9,82.9C136.9,76.4 128.1,42 175.1,43.1L182,43.1M-7,17.2L2.4,17.2C48.9,23.2 43.1,79.2 89.6,82.5C142.2,78 126,65.1 178.6,67.8L182,67.8M-7,65.2L1.8,65.2C46.1,64.5 45.2,18.1 89.5,19C137.4,21.4 126.5,82.3 174.4,85.4L182,85.4M-7,14.3L3.5,14.3C61,19.6 31.6,78.4 89.1,78.9C142.6,73.3 123.2,76.6 176.7,85.8L182,85.8M-7,38.8L1.3,38.8C55.5,42.7 31.1,79.4 85.3,84.5C139.2,78.8 122.2,43 176.1,40.6L182,40.6M-7,16L-1.8,16C44,20.5 38.3,60.8 84,63.1C135.3,60.1 121.3,77.8 172.5,84.3L182,84.3M-7,65.4L-1.7,65.4C47,65 37,59.8 85.7,59.3C144.7,56.2 115.7,37.3 174.7,37.2L182,37.2M-7,64.7L2.5,64.7C59.5,61.7 34.7,60.6 91.7,63.1C139.9,61 129.7,61.3 177.9,63.3L182,63.3M-7,13.8L3,13.8C59,18.3 30.6,20.4 86.7,15.8C132.6,15.5 129.1,78.6 175,78.7L182,78.7M-7,82.2L4.2,82.2C62.7,80.6 34.3,18.5 92.8,20.4C137.9,24.9 134.1,22.7 179.1,16.4L182,16.4M-7,41.3L1.5,41.3C52.9,40.9 36.9,80.7 88.4,84.8C139.7,81.1 124.5,80.9 175.8,84.3L182,84.3M-7,16.9L-6.2,16.9C46.5,18.6 33.8,79.2 86.5,78.7C138.8,79.4 120.2,42.3 172.4,42.6L182,42.6M-7,62.9L3.9,62.9C52,60.2 44,64.4 92,65.9C142.4,65.4 128.9,43.5 179.3,40.7L182,40.7M-7,86.2L-3.1,86.2C52.8,85.1 26.3,20 82.3,17.5C128.7,19.5 124.7,19.3 171.1,14.5L182,14.5M-7,83.6L5.6,83.6C58.6,77.4 37,78.7 90.1,83.9C148.6,82.2 118.6,20.6 177.1,17.1L182,17.1M-7,39.6L2.3,39.6C47.5,38.1 46,59.4 91.1,62.1C142.8,59.8 125.6,82.2 177.3,83.4L182,83.4M-7,66.7L1,66.7C47.2,67.2 38.5,77.5 84.8,80.1C138.3,80.3 118.1,15 171.7,14.3L182,14.3"/>
<path d="M-7,79.1L0.1,79.1C48.6,73 37.9,61.8 86.3,65.2C139.7,65.8 121.9,62 175.3,61.8L182,61.8M-7,47.4L0,47.4C55.3,44.8 33.5,19.2 88.8,16.4C133.4,15.2 133.2,8.3 177.8,9.8L182,9.8M-7,40.8L-0.8,40.8C47.8,42.1 40.1,78.2 88.8,81.4C133.6,77.7 129.8,26.7 174.6,20.8L182,20.8M-7,66.9L-0.3,66.9C49,67.4 38.4,44.2 87.7,44.6C135.6,47.3 125.9,48.7 173.8,47.5L182,47.5M-7,80.2L-1.6,80.2C45.4,76.4 39.5,41.8 86.5,40.7C133.2,42.3 123.8,20.6 170.5,16.7L182,16.7M-7,84.1L-4.2,84.1C39.9,81 39.9,42.1 84.1,40.8C141.2,42.4 114.8,60.7 171.9,63.3L182,63.3M-7,39.8L4.5,39.8C53.3,40.3 45.8,20.1 94.6,17.9C147.3,20.8 126.8,41.9 179.4,39.3L182,39.3M-7,18.2L1.7,18.2C60.5,22.5 31.2,59.4 90,62.3C140.1,61.9 126.5,84.3 176.6,84.3L182,84.3M-7,19.8L2.5,19.8C58.3,23.1 31.5,18.2 87.3,15.4C145.4,22.1 118.6,23.7 176.8,19.9L182,19.9M-7,59.5L2.5,59.5C58.2,58.8 33.3,62.8 89.1,66.5C147.9,62.1 122.8,28.1 181.6,24.5L182,24.5M-7,84.2L-3.2,84.2C51,78.9 36.5,76 90.7,83.9C149.1,79.7 116.4,64.3 174.9,66.7L182,66.7M-7,41.7L-3,41.7C47.6,44.9 35.8,23.2 86.4,15.8C141.3,21 116.6,38.1 171.5,37.2L182,37.2M-7,41L5.3,41C64.2,43.7 32.2,44.3 91,40.8C149.1,41.9 125.1,83.8 183.2,82.8L182,82.8M-7,34.5L3,34.5C54.5,34.1 40.2,64.1 91.7,64.2C136.3,63.8 133.5,56.6 178,57.9L182,57.9M-7,22L-7,22C40.4,21.6 34.3,78.9 81.6,81.5C135.5,80.2 113,66.7 166.9,65.3L182,65.3M-7,37.7L-3.2,37.7C44.7,41.7 38.8,18 86.7,15.4C140.5,20.1 122.1,19.5 175.9,13.9L182,13.9M-7,19.1L-7.5,19.1C39,22 36.4,37.7 82.9,36.2C138.1,37.2 116.9,58.8 172.1,60.2L182,60.2M-7,16.2L-1.3,16.2C55.6,23.9 31.1,75.9 88,83.3C139.5,73.5 121.9,63.5 173.3,66.4L182,66.4M-7,84L4.3,84C49.9,77.6 46.4,46.3 92,41.7C137.8,41.9 134.5,19.2 180.3,17.6L182,17.6M-7,82.9L-1.7,82.9C42.6,78.9 45.1,80.7 89.3,86.7C133.6,83.8 128.3,62.1 172.6,64.4L182,64.4M-7,85L-1,85C47.8,82.6 38.6,85.6 87.4,87.7C143.6,84.2 118.1,81.8 174.3,86.3L182,86.3M-7,84L-3.3,84C53.5,84.7 30.5,82.4 87.3,83.1C143.8,83 116.1,15.1 172.6,15.3L182,15.3M-7,39.7L-8.4,39.7C45.4,41.9 24.4,59.9 78.2,61.2C131.6,59.5 113.3,42.4 166.7,40.8L182,40.8M-7,19.2L-1.5,19.2C44.8,20.9 41,59.2 87.3,59.9C131.3,57.4 129.8,83.2 173.9,84.5L182,84.5M-7,38.4L-1.7,38.4C50.2,39.5 36.3,58.8 88.2,61C134.1,59.7 129.9,83.5 175.8,84.3L182,84.3M-7,86.1L-4.7,86.1C41.8,80.1 37.7,64.5 84.3,65.6C140.1,64.3 117.1,39 172.9,37.7L182,37.7M-7,64.2L5.2,64.2C56.5,62.1 41.9,76.2 93.2,84.1C139.7,79 134.5,60.1 181,63.1L182,63.1M-7,86.2L-1.5,86.2C53.9,80.9 30.2,62.9 85.6,64.8C140.8,63 119.5,17.7 174.7,15L182,15M-7,17.7L-2.6,17.7C49.8,21.1 30.4,20.2 82.9,17.5C127.7,21.1 126.4,60.7 171.3,59.7L182,59.7M-7,64L-2.6,64C47.7,61.7 36.2,42.4 86.5,41.1C144.4,41.3 111.4,23.5 169.3,16.9L182,16.9M-7,85.7L1.9,85.7C48.2,85.1 41.9,85.3 88.2,87.7C140.8,81.7 126.2,61.4 178.8,65.2L182,65.2M-7,83.6L-3.6,83.6C48.3,78 31.3,79.2 83.3,85.6C131.6,85.3 122.6,80.7 170.8,82.2L182,82.2M-7,83.9L0.3,83.9C59.4,79.2 27.6,84.7 86.8,88.6C143.1,85.1 118.9,81.4 175.3,84.8L182,84.8M-7,67.9L2.5,67.9C59.3,65.7 33.4,20.9 90.2,18.7C141.5,21.7 126.7,41.6 178.1,39.6L182,39.6M-7,63.6L0.3,63.6C47.4,59.7 40.7,77.2 87.8,83.2C138,80.9 122.3,43.9 172.6,42.6L182,42.6M-7,20.3L7.8,20.3C58.7,22.8 42.7,39.9 93.6,35.5C145.1,39.6 130.6,24.1 182,17.2L182,17.2M-7,16.7L-1.3,16.7C54.6,16.4 31.6,83 87.5,84.3C139.2,81.5 121.7,63.9 173.3,66.5L182,66.5M-7,59.6L-1.7,59.6C47.1,58.9 37.4,61.1 86.2,65C138.8,63 118.7,42.1 171.2,40.8L182,40.8M-7,42.5L1.7,42.5C54.4,44.2 33.9,60 86.6,60.9C144.4,58.6 121,62.4 178.9,64.9L182,64.9M-7,85.9L-4.5,85.9C39.4,80.8 41.6,64.4 85.5,65.5C143.5,64.4 113.5,24.1 171.5,20.8L182,20.8M-7,83.6L-1.3,83.6C51.8,81.4 38.7,84.8 91.8,85.8C148.6,83.1 118.1,64.4 174.8,64L182,64M-7,85.2L0.3,85.2C56.5,81.5 30.4,20.8 86.6,18.7C143.8,23.3 114.7,60.9 171.8,63.6L182,63.6M-7,61.7L3.4,61.7C52.2,62.1 41.8,84.9 90.7,85.2C135.7,84.1 128.6,24.5 173.7,21.5L182,21.5M-7,19.2L1.4,19.2C56.6,26 34,74.9 89.2,82.1C138,77.7 127.5,78.4 176.3,83.5L182,83.5M-7,38.4L1.1,38.4C45.8,37.1 46.1,89.3 90.7,91.3C137.5,89.4 128.5,22.8 175.3,20.1L182,20.1M-7,19.2L7.3,19.2C64,19.2 35.2,82.5 91.9,84.1C137.6,76.6 133.4,65.8 179,67.7L182,67.7M-7,60.4L0,60.4C55.5,60.3 31.3,44.5 86.8,43.5C138.7,42.8 124.5,41.4 176.3,38.4L182,38.4M-7,14.9L-1.6,14.9C52.9,15 31.6,17.8 86.1,16.7C135.6,21.3 122.7,37.1 172.1,36.9L182,36.9M-7,58.6L-0.7,58.6C55.7,57 30.4,79.8 86.9,84.9C140.9,83.6 120.2,85 174.1,87.6L182,87.6M-7,87.1L1.1,87.1C49.8,85.7 38,80.8 86.8,83.1C139.7,78.2 122,28.1 174.9,20.9L182,20.9M-7,65L-4.9,65C41.6,65.6 39,67.1 85.5,65.5C143.9,61.9 114.3,60.8 172.6,66.1L182,66.1M-7,16.3L-7.3,16.3C42.2,19.5 28,82.3 77.4,82.9C134.4,83.3 110.2,84 167.2,86.5L182,86.5M-7,18.2L2.1,18.2C46.6,24.7 44.8,76.5 89.3,82.8C145.8,80.7 123.1,41.7 179.5,40.2L182,40.2M-7,62.8L-1.6,62.8C44.6,62 41.3,39.6 87.5,38.9C133.7,40.3 131.2,24.9 177.4,18.9L182,18.9M-7,17L-6.5,17C48.3,20.3 24.6,75.5 79.4,79.2C137.4,73.4 108.1,78.7 166.1,86.7L182,86.7M-7,62.2L-3.1,62.2C55.5,60.9 23.3,65 82,65.5C131.4,64.8 121.7,65 171.2,64.6L182,64.6M-7,40.8L-0.5,40.8C46,41.9 37.9,22.4 84.4,20.2C139.3,27.8 119.7,23.8 174.6,17.7L182,17.7M-7,17.1L0.5,17.1C56.6,18.1 33,19.7 89.1,18.4C140.4,24.1 122.3,41.7 173.7,39.8L182,39.8M-7,82.8L8,82.8C52.1,76.5 49.5,45.2 93.5,43.3C151.7,44.4 126.1,84.1 184.3,85.1L182,85.1M-7,83.9L-2.6,83.9C43.5,82.1 38.5,64.6 84.6,64.8C131.1,65 126.1,65.5 172.5,66.9L182,66.9"/>
<path d="M-7,62.6L-4.8,62.6C45,59.7 32.6,84.7 82.4,86.9C137.9,83.4 112.4,20.4 167.9,17.6L182,17.6M-7,61.3L7.6,61.3C51.4,59.4 50.2,25 94,22C153.2,26.9 124,84.3 183.3,87.2L182,87.2M-7,81.2L7,81.2C55.8,79.7 47.9,22.5 96.7,20.7C141.1,28.5 135.6,24.2 180,16.3L182,16.3M-7,21.2L7,21.2C52.8,22.7 46,16.4 91.8,13.6C149.7,20.5 124.4,74.8 182.3,81.5L182,81.5M-7,62.3L-0.8,62.3C55.9,59.3 31.1,79.7 87.9,84.9C142.3,84.1 119.9,82 174.3,84.3L182,84.3M-7,81.9L2.4,81.9C61.7,77.9 29.8,39.5 89.2,39.9C136.1,40.3 132,37.9 178.9,37.7L182,37.7M-7,63.9L-1.7,63.9C57.2,64.4 27,62.7 85.9,64.4C130.3,63.5 128,24.2 172.4,19.3L182,19.3M-7,20.1L2.2,20.1C58.1,20.3 31.4,80.7 87.2,82.6C135.1,82 126.6,64.7 174.5,65.9L182,65.9M-7,16.6L-3.2,16.6C51.6,20.1 31.7,35.6 86.5,36.2C130.4,39.8 126.5,60.7 170.5,62.2L182,62.2M-7,16.9L-5.6,16.9C53.7,21.6 20.9,58.6 80.3,57.9C124.1,57.7 126.1,60.7 169.9,63L182,63M-7,20.5L0.9,20.5C57.5,27.7 37.1,26.8 93.7,16.5C149,17.3 121.4,17.3 176.7,16L182,16M-7,59L1.3,59C60.1,57.6 28.7,18.4 87.5,18.5C144.9,19.6 119.9,63.3 177.3,63.3L182,63.3M-7,63.7L-3.5,63.7C49.9,61.5 27.5,43.8 81,42.6C128.9,42.4 124.8,41.5 172.7,42L182,42M-7,66.9L-0.3,66.9C48.7,66.9 37.7,36.7 86.7,35.7C137.5,36.9 123.7,62.3 174.5,65.5L182,65.5M-7,41.5L-0.2,41.5C46.8,44 43.2,61.3 90.2,64C134,62.2 129.9,80.6 173.8,86.4L182,86.4M-7,40.1L0.4,40.1C48.1,41.1 40.9,63.3 88.7,63.8C146.7,62 117.6,44.1 175.7,43.2L182,43.2M-7,83.4L0.9,83.4C57.3,81.9 31.6,65.2 88,64.7C145.6,62.2 119.5,22.7 177.1,19.8L182,19.8M-7,41.4L-4.4,41.4C48.2,42.6 32.5,81.3 85.1,81.9C130.9,83 124.9,83.4 170.7,84.4L182,84.4M-7,79.3L3.4,79.3C49.2,76.9 42.1,22.8 87.8,20.7C133.2,19 130.8,16.9 176.1,16.7L182,16.7M-7,80L1.9,80C56.3,78.6 36.3,23.3 90.7,22.7C136.2,26.8 132.1,77.1 177.6,84L182,84M-7,64.9L-3.5,64.9C43.6,64 37.7,80 84.8,82.9C143.2,76.3 113.7,80.3 172.1,86.5L182,86.5M-7,63.6L2.6,63.6C56.3,65.6 34.4,85.1 88,84.6C132.8,80.9 131.8,66.4 176.7,66.3L182,66.3M-7,82.1L-0.8,82.1C48,82.2 36,43.9 84.7,42.2C130.5,40.1 126.4,40.9 172.2,39.3L182,39.3M-7,80L-0.1,80C45.5,78.9 42.6,22.3 88.2,20.1C135.6,25.9 127.5,39.1 174.9,38.1L182,38.1M-7,19.9L-0.2,19.9C55.5,23.6 29,17.2 84.8,15.3C139,15.6 116.1,78.8 170.4,80.6L182,80.6M-7,16.7L-2.7,16.7C56.1,24.4 25.2,77.2 84.1,83C133.4,74.7 124.4,48.2 173.8,43.2L182,43.2M-7,19L-2.9,19C51.7,19.2 29.2,16.9 83.8,16.6C140.3,13.7 114,83.9 170.5,84.3L182,84.3M-7,64.8L0.5,64.8C58.6,64.3 27.4,82.7 85.5,85.3C143.2,76.9 119.1,43.9 176.8,43.5L182,43.5M-7,84.5L-0.9,84.5C46.6,82.8 37.4,42.3 84.9,42C136.6,42.5 117.2,16.9 168.9,18.4L182,18.4M-7,42.9L-0.6,42.9C58.1,42.8 27.3,82.8 86,82.7C137.4,76.9 125.6,61.9 176.9,64.6L182,64.6M-7,63.4L0.1,63.4C45.2,59.8 41.7,39.5 86.7,37.2C141.4,38.2 120.5,40 175.2,40.7L182,40.7M-7,34.4L-4,34.4C52.5,36.2 28.8,22.3 85.3,15.7C144.3,18.9 113.1,41.7 172.2,40.1L182,40.1M-7,14.9L0.2,14.9C48.4,15.3 39.4,38.2 87.7,38.2C140.1,37.5 123.1,61.5 175.5,62.5L182,62.5M-7,41.1L0.4,41.1C44.5,40.9 40.7,64.2 84.9,63C132.7,59.7 126.6,27.2 174.4,21.8L182,21.8M-7,42.1L-6.6,42.1C49.9,42.6 25.4,39.8 81.9,36.7C127.7,36.3 123.2,22.6 169.1,14.8L182,14.8M-7,20.3L-0.3,20.3C54,23.8 34.1,40.6 88.3,38.6C143.8,40 120,79.5 175.5,86.1L182,86.1M-7,59.9L-4.6,59.9C51.8,59.7 30.9,65.3 87.4,65.4C145.7,62.2 114.9,44.8 173.3,41.8L182,41.8M-7,82.2L-5,82.2C42.4,82.7 34.9,20.2 82.3,19.8C140.9,27.6 109.3,75.5 167.9,82.8L182,82.8M-7,18.2L1.4,18.2C59.4,23.8 28,77.9 86,83.8C140.2,77.5 120.7,41.4 175,40.7L182,40.7M-7,67.3L-0.7,67.3C44.1,65.7 37.9,79.5 82.8,84.3C138.6,77.7 119.2,42.8 175,43.1L182,43.1M-7,85.1L1.5,85.1C57.1,82 34.2,85.4 89.7,89.3C136.4,85.6 129.2,82.7 175.9,85.9L182,85.9M-7,81.6L-3.3,81.6C52.2,73.7 27.7,64.7 83.3,66.4C131.2,64 125.4,62 173.3,65.2L182,65.2M-7,79.3L2.4,79.3C54.6,76.1 35.3,89.2 87.5,89.4C132.4,87.4 128.7,84.1 173.6,86.4L182,86.4M-7,61.8L-4,61.8C42.6,59.4 34.7,43.1 81.4,41.4C134,38.4 118.2,81.2 170.7,84.3L182,84.3M-7,19.3L1.9,19.3C47.2,22.7 44.3,82.9 89.5,83.3C137.3,82.1 127.9,45.1 175.6,42.4L182,42.4M-7,19.8L2.1,19.8C47.2,25.3 44.9,16.6 90,10.9C146.6,18.7 121.3,55.4 177.8,57L182,57M-7,82.7L6.3,82.7C61.5,80.6 36.6,22.6 91.8,20.2C150.4,23.9 121.7,38.8 180.3,36.4L182,36.4M-7,66.1L-5.7,66.1C48.9,63.5 30.8,60.8 85.3,64.5C131.4,62.8 123.5,42.1 169.6,40.8L182,40.8M-7,85.6L-1,85.6C56.1,78.7 29.5,41.5 86.6,41.7C135.3,43.8 128.5,24.9 177.2,15.7L182,15.7M-7,84.6L7,84.6C63,79.6 39.2,81.4 95.2,85.7C139.9,80.2 139.6,60.6 184.2,63.5L182,63.5M-7,77.6L2.4,77.6C57.4,75.4 34.9,26.9 89.9,22.9C142.2,26.6 126.4,19.5 178.7,15.2L182,15.2M-7,87.5L0.8,87.5C53.5,88.2 32.8,20 85.5,17.7C136.5,19.2 122.3,21.5 173.3,15.7L182,15.7M-7,86.5L-1,86.5C46.7,78.8 41,81.4 88.8,88.7C134,82.2 131.8,82.4 177,86.5L182,86.5M-7,86.4L-5.5,86.4C53.8,79.4 25.8,28.5 85.1,21.5C137,25.5 117.7,58.8 169.7,59L182,59M-7,83.8L2,83.8C48.1,78.5 44.5,73.2 90.5,80.3C143.6,73.9 122.9,42 176,41.7L182,41.7M-7,20.2L-1.1,20.2C48.8,21.9 36.8,61.8 86.7,61.1C132.2,60.4 127.7,63.2 173.3,64.5L182,64.5M-7,42.9L0.6,42.9C55.4,44.3 33.5,58.7 88.3,63C142.4,61.4 123.2,81.7 177.4,84.8L182,84.8M-7,40.7L-0.8,40.7C53.5,42.7 31.4,62.1 85.8,63.4C136.8,59.8 124.6,43.2 175.7,43L182,43M-7,62.7L-0.5,62.7C55.7,61.8 28.8,83.9 85.1,84.9C129.1,76.5 127.9,77.2 172,84.8L182,84.8M-7,61L-2,61C42.5,59.7 43.3,22.1 87.8,17.9C145.7,17.2 116.4,18.4 174.4,16.2L182,16.2"/>
<path d="M-7,39.8L-4.1,39.8C45.5,39.9 36.1,81.1 85.8,82.8C131.5,81.1 130.1,83.3 175.8,84.7L182,84.7M-7,64L3.1,64C57.7,62.3 33.9,85.9 88.5,89C138.7,86.7 124.9,67.6 175.1,66.9L182,66.9M-7,39.3L-4.4,39.3C43.2,40.6 38.8,67.3 86.4,67.5C140.9,66.5 120.1,60 174.6,61.5L182,61.5M-7,39L2.1,39C60.5,39 30.5,38.7 89,37.7C145.3,39.3 122.2,50 178.5,50.4L182,50.4M-7,40.3L7.9,40.3C60.9,41.5 38,41.7 91,39.2C136.8,40.9 133.1,42.1 178.8,42.1L182,42.1M-7,85.6L-1.3,85.6C50.3,81.5 30.1,78.9 81.7,82.9C135.7,82.6 116.8,29.2 170.8,28.4L182,28.4M-7,61.4L-0.8,61.4C46.2,60.5 40,61.3 87.1,62.4C145.4,61.8 117.3,61.8 175.6,64.3L182,64.3M-7,18.6L2.7,18.6C48,22.2 43.4,40.2 88.7,40.1C147.9,40.9 116.9,23.8 176,18.5L182,18.5M-7,66.3L-2.8,66.3C54.8,61.8 25.1,28.9 82.7,18.2C139.3,17.8 116,81.6 172.6,81L182,81M-7,40.4L0.9,40.4C55.7,43.9 37.6,81.1 92.4,86.6C149.1,82.6 119.7,63 176.4,66.1L182,66.1M-7,16.7L-2.4,16.7C47.6,21.2 37.2,34.8 87.2,34.3C142.5,37.1 119.3,39.2 174.5,36.9L182,36.9M-7,39.5L-0.2,39.5C55.9,43.4 29,43.5 85.1,41.9C137.3,43.1 119.5,43 171.7,41.7L182,41.7M-7,44L-4.4,44C44.6,43.3 32.8,42.3 81.8,38.7C135.1,37.6 118.7,64.4 172.1,64.3L182,64.3M-7,44L7.2,44C52.8,46 49.5,63.5 95.1,63.4C154.1,62.1 124.7,63.2 183.7,65L182,65M-7,16.4L-2.5,16.4C45.5,18.3 34.9,19.1 82.8,15.6C127.3,21.3 125.7,39.1 170.1,39.6L182,39.6M-7,14.9L2.1,14.9C51.8,19.6 38.3,38.5 88.1,35.2C135.4,35.4 129.4,58.9 176.7,59.2L182,59.2M-7,36.5L3.8,36.5C55.2,40.2 42.5,41.5 94,40.6C142.1,44.1 131.5,41.3 179.6,42.1L182,42.1M-7,81.1L2.8,81.1C57,75.9 34,45.7 88.2,44.7C133.3,45.9 130.4,22.4 175.5,17.6L182,17.6M-7,19.4L4,19.4C51.9,23.9 43.4,59.2 91.4,65.1C147.1,66.5 121.8,18.5 177.6,17.2L182,17.2M-7,86.6L-0.7,86.6C54,85.9 33.1,64.1 87.9,66.2C131.7,62.3 129.6,60.4 173.5,63.5L182,63.5M-7,12.3L-3.8,12.3C44,18.6 35,64.3 82.8,65.6C138.4,65.6 115.7,42 171.2,39.5L182,39.5M-7,36.6L-0.2,36.6C52.5,36.2 34.7,41.7 87.3,40C145.8,38.5 116.4,80.6 174.9,80.1L182,80.1M-7,67.5L0.8,67.5C44.9,64 40.9,41.3 85.1,39.3C129.7,37.8 127.6,18.6 172.2,17.6L182,17.6M-7,46.9L-4.1,46.9C54.2,46.7 25.1,40.1 83.3,40.3C140.3,39.9 116.5,63.9 173.6,64.8L182,64.8M-7,43.6L-2.2,43.6C51.9,43.3 28.3,43.3 82.3,42.1C131.5,42.2 125,59.3 174.2,59.3L182,59.3M-7,63.9L0.2,63.9C55.1,63.8 33.2,43 88.1,42.5C142.4,44.2 118.8,43.8 173.1,41.6L182,41.6M-7,58.6L2.9,58.6C54.3,58 37.8,43.7 89.2,43.6C136.7,42.6 130.8,81.3 178.3,82.7L182,82.7M-7,41.1L-3.8,41.1C41.4,44.9 37.2,81.5 82.4,87.1C131.1,85.6 123.1,45.3 171.8,43.8L182,43.8M-7,15.6L3.4,15.6C58.3,17.1 34.9,79.7 89.8,82C143.8,78.5 125.1,64.5 179.1,67.2L182,67.2M-7,82L1.2,82C49.6,78.1 40.2,67.9 88.6,66.4C138.7,64.5 124.1,83.8 174.2,84.2L182,84.2M-7,41.5L-1.7,41.5C44.3,42 39.2,79.7 85.2,83.4C136.8,81.6 117.6,20.8 169.2,19.4L182,19.4M-7,41.9L-2.9,41.9C53.2,42 27.7,64.7 83.9,66.1C131.2,63.1 122.5,79.3 169.8,85.9L182,85.9M-7,56.9L-8.7,56.9C49.3,55.8 23,78 81,82.1C134.8,77.9 116.1,23.1 169.9,16.3L182,16.3M-7,81.5L3.1,81.5C56.4,76.4 39.9,60.5 93.2,63.8C146.9,63.9 122.6,63.1 176.4,64.6L182,64.6M-7,12.1L1,12.1C47.6,11.9 39.2,59.2 85.8,60.4C132.1,56.5 129.8,76.5 176.1,85L182,85M-7,61.5L3,61.5C56.7,58.2 37.1,63.7 90.8,65.4C140.1,62.9 129.9,38.5 179.2,38.9L182,38.9M-7,84.4L0.2,84.4C57.8,79 28.8,80.1 86.4,87C144.8,85.8 117.8,65.2 176.2,66.7L182,66.7M-7,16.8L-0.2,16.8C45.3,22.1 43.8,16.4 89.3,12.4C133.9,17.7 132.8,62.4 177.3,63.3L182,63.3M-7,63.4L-0.5,63.4C46.8,59.9 36.7,80 83.9,85C131.2,81.1 124.2,22.9 171.4,17.8L182,17.8M-7,86.1L-1.7,86.1C55.1,82.2 28.7,65.2 85.5,67.4C144.1,66.3 112.8,23.3 171.4,19.7L182,19.7M-7,83.7L0,83.7C57.3,85.1 30.4,43.7 87.7,42.2C132.5,45.2 129.2,24.4 174.1,18L182,18M-7,80.3L2.1,80.3C51.2,75.1 42.3,22.6 91.5,17.2C139.1,19.6 130.9,38.8 178.5,37.3L182,37.3M-7,40.7L6.7,40.7C65,41.5 34.8,18.9 93.1,17.1C140.6,24.5 131.4,39.7 178.9,38.8L182,38.8M-7,18.8L-1.7,18.8C47,21.7 39,59.4 87.7,60.8C137,59.6 123.9,42.9 173.1,42.3L182,42.3M-7,36.8L0.9,36.8C44.8,37.9 47.8,36.3 91.7,35.1C149.8,36.1 120.9,21.5 179,19.4L182,19.4M-7,17.9L-1.6,17.9C56.6,24 26.4,20.9 84.7,15.6C139.7,18.2 118.9,61.8 173.9,62.8L182,62.8M-7,14.8L-0.3,14.8C56.5,14.7 34.1,10.9 91,10.5C146.9,16.6 119.4,58.2 175.3,61.7L182,61.7M-7,18L-0.2,18C53.1,21.7 37.3,79.8 90.6,82.7C148.8,82.8 117.3,42.3 175.5,42.7L182,42.7M-7,19.3L1.1,19.3C49.9,22.3 38.4,77.4 87.2,81C144.3,72.5 113.7,43 170.8,43L182,43M-7,42.9L-4.2,42.9C41.1,43.4 39.6,81.7 84.9,83.2C130.6,78 125.8,43.4 171.4,39.8L182,39.8M-7,83.7L3.5,83.7C52.9,77.9 43.7,43.4 93.1,41.5C145.8,40.2 126.6,42.5 179.3,43.6L182,43.6M-7,86.2L-0.5,86.2C52,79.3 34.4,25.1 86.9,19.6C135,21.3 123.5,84.1 171.6,84.7L182,84.7M-7,42L3.2,42C58.4,42.8 35.6,41 90.8,40.8C137.7,39.5 130.8,16.4 177.7,15L182,15M-7,20.5L-1.2,20.5C47.5,26.3 36.1,78.8 84.8,84C132.8,84.4 127,43.8 175,44.9L182,44.9M-7,87.9L2.9,87.9C59.2,80.5 34.5,78.7 90.8,87.8C137.3,83.2 131.7,65.1 178.2,66.2L182,66.2M-7,44.7L0.6,44.7C50,48.9 34.8,46.1 84.3,43.6C131.9,44.7 125.3,24.9 172.9,19.6L182,19.6M-7,37.8L-2.6,37.8C54,41.3 31,44.9 87.7,43.3C133.8,43.7 126.2,19.4 172.4,18.3L182,18.3M-7,83.1L4.9,83.1C58.5,77.2 40.8,79.2 94.5,85.5C141.4,81.2 136.3,63.1 183.3,63.9L182,63.9M-7,66L2.5,66C51,62.6 41.3,23.3 89.8,19.1C141.7,23 124.9,39.6 176.8,37.9L182,37.9M-7,17.3L-2.2,17.3C42.3,21.8 42.5,77.8 87.1,80.9C138.6,77.5 125,44.3 176.5,42.2L182,42.2"/>
<path d="M-7,21.7L1.2,21.7C52.2,25.1 36.3,21.7 87.3,20.2C136.7,23.2 124.6,39.7 174.1,39.9L182,39.9M-7,44.1L4,44.1C54.4,46.7 38.6,40.9 88.9,40.5C143,41.9 124,34.9 178,34.3L182,34.3M-7,84.5L2.6,84.5C54.4,82.7 37.4,64.2 89.2,66.8C138.6,64 124.6,21.7 174,18.3L182,18.3M-7,65.4L-3.5,65.4C41.7,64.6 37.1,41.6 82.3,41.7C140.6,43.7 111.6,21.7 169.9,14.1L182,14.1M-7,39.3L2.8,39.3C46.9,42.8 48.3,26 92.4,20.2C139.6,24.8 132.3,22 179.5,17.8L182,17.8M-7,81.1L0.8,81.1C46.2,77.1 44,65 89.4,66.2C144.2,65.6 120.4,21 175.1,19.3L182,19.3M-7,82.5L-8.7,82.5C43.4,77.8 26.5,63 78.6,66C128.5,61.7 112.7,60.9 162.6,63.8L182,63.8M-7,64.1L2,64.1C54.8,62.6 38.1,22.5 90.8,17.9C137.6,22.4 130,39.3 176.8,38L182,38M-7,24.6L3,24.6C49,27.4 46.2,60.5 92.2,59.8C138,58.3 135.5,25.2 181.3,20.4L182,20.4M-7,20.6L-0.9,20.6C46.5,23.3 39.7,79.6 87.1,82.9C139.1,76.9 123.8,78.7 175.7,85.6L182,85.6M-7,37.6L-2.6,37.6C51.3,40.1 32.5,60.9 86.4,63.3C135,62.9 124.4,41.1 173,39.3L182,39.3M-7,42.2L-2.7,42.2C56.5,43.3 27.8,61 87,61.4C137.9,60.3 124.9,22.7 175.8,23.2L182,23.2M-7,83.9L6,83.9C55.1,80 45.2,79.7 94.2,83.7C146.4,80.1 126.9,45.4 179.1,45.4L182,45.4M-7,68.5L0.6,68.5C57.5,63.5 32,25.7 88.9,19.9C138.2,25.4 127.9,23.7 177.2,18.2L182,18.2M-7,90.4L-2.3,90.4C51.3,85.2 32.1,27 85.8,23.2C139.5,24.1 119.3,57.5 173,59.5L182,59.5M-7,86.6L-7.9,86.6C48.2,85.2 20.8,41.7 77,41.4C124.8,44 120,22.2 167.8,17.1L182,17.1M-7,17.9L-2.8,17.9C45.3,25.1 37.7,18.4 85.8,12.3C131.7,14.8 127.6,77.7 173.5,82.1L182,82.1M-7,22.8L3.5,22.8C50.1,24 42.6,85.8 89.3,89.2C136.3,83.9 129.9,25.8 177,21.7L182,21.7M-7,47.6L-0.9,47.6C49.2,47.2 38.4,84 88.5,88C141.3,85.9 121.7,62 174.5,63.8L182,63.8M-7,12.6L-6,12.6C38.2,17.3 36.8,82.2 81,84.4C137.1,77.3 110.6,85 166.8,89.4L182,89.4M-7,59.7L-1.2,59.7C45.9,58.8 42.1,25.9 89.3,19.3C136.8,24.9 131.1,38.5 178.7,38.7L182,38.7M-7,15.7L-6.1,15.7C48.8,18.7 22.8,61.5 77.8,61.4C130.5,59.5 115.3,85.5 168,85.1L182,85.1M-7,82L2.5,82C56.7,81.4 35.8,63.1 90,64.3C148.3,60.6 119.4,78.6 177.7,85.2L182,85.2M-7,85.6L-2.6,85.6C46.2,82 35.1,84.2 83.8,89C135.3,84.1 115.5,81 166.9,85L182,85M-7,63.8L7,63.8C52.3,65 44.8,39.3 90.1,40.9C149.3,41.8 120.5,82.9 179.7,85.6L182,85.6M-7,44.1L-0.9,44.1C55.5,43.6 30.2,21.3 86.7,17.3C140.6,24.1 123.1,78.8 177,83.8L182,83.8M-7,45.6L-0,45.6C54.1,44.6 30.2,20.3 84.3,19.8C129.8,19.3 128.5,81.1 173.9,82L182,82M-7,39.7L2.4,39.7C54.1,39.4 40.9,40.3 92.6,40C137.5,44.5 131.5,76.6 176.3,84.6L182,84.6M-7,37.4L1.1,37.4C48.5,41.1 39.4,64.8 86.8,66.4C134.4,66.2 125.4,85.5 173,84.2L182,84.2M-7,81.3L-4.9,81.3C43.4,80.4 36.5,67.2 84.7,67C128.8,63.3 128,43.1 172.1,40.9L182,40.9M-7,39.8L1.2,39.8C57.7,39.9 35.6,85.1 92.2,83.4C148.1,85.2 122.6,65.5 178.5,65.4L182,65.4M-7,41L5.6,41C63.9,43.4 33.1,69 91.3,69.6C139.9,68.4 132.2,63.5 180.7,64.9L182,64.9M-7,62.1L1.2,62.1C48.5,60.6 43,61.6 90.3,62.9C140.9,61.9 127.4,63.8 178.1,64.4L182,64.4M-7,12.1L-4.4,12.1C40,22.1 39.9,42.7 84.3,38.8C133.3,40 117.1,40.2 166.1,42L182,42M-7,40.2L1,40.2C49.7,41.8 41.9,13.4 90.5,15.6C144.7,18.7 121.4,39.7 175.6,38.2L182,38.2M-7,64.4L-1.4,64.4C50.4,63.2 36.4,81.8 88.2,82.8C145.1,81.8 116.2,21.9 173,20.2L182,20.2M-7,22.1L-0.3,22.1C43.4,27.2 43.3,62.2 87.1,62.6C136.7,62.2 126,45.3 175.6,44.7L182,44.7M-7,69.9L-3.4,69.9C41.6,68.9 38.7,47.7 83.7,46.8C134.5,46.9 121.8,62.1 172.5,62.1L182,62.1M-7,42L6.7,42C59.9,41.5 36.3,58.8 89.5,61.4C148.1,59.5 123.2,24.8 181.8,19.8L182,19.8M-7,40.1L5.1,40.1C57.5,41.4 37.2,61.1 89.6,63.8C147.3,61.7 123.7,82.2 181.4,86.6L182,86.6M-7,18.1L0.3,18.1C46.5,22.8 41,19.3 87.2,16.1C134.5,22.4 127.7,59.4 175,61.1L182,61.1M-7,18L3,18C61.2,21.4 29.8,13.4 88,14C138.7,17.9 126.5,64.4 177.2,62.5L182,62.5M-7,85.6L5.1,85.6C56.8,81.8 39,85.9 90.7,87.6C139.7,81.1 130.1,28.6 179,20.9L182,20.9M-7,18.8L-1.8,18.8C45.3,17.7 40.1,41.2 87.2,39.6C143.8,40.1 121.4,19.6 178,16.4L182,16.4M-7,63.4L-1.9,63.4C53.9,60.8 29,43.8 84.9,42.3C137.4,45.2 119.7,40.1 172.2,38.3L182,38.3M-7,64.9L1.3,64.9C54,64.9 37.3,44.1 90,41.8C142,45.2 123.2,64.4 175.2,65.2L182,65.2M-7,42L-0.5,42C54.6,42.9 30.9,60.8 86,61.4C135,59.3 122.8,42.8 171.8,40.4L182,40.4M-7,61.6L4,61.6C49.3,61 47,40.5 92.3,41.7C149.6,42 121.4,22.9 178.7,16.3L182,16.3M-7,60.7L4.8,60.7C59.7,56.9 34.5,62.6 89.3,64.8C145.1,63.4 124.8,65.5 180.6,64.5L182,64.5M-7,17.3L1.6,17.3C48.8,22.9 43,25.9 90.2,19C134.7,25.2 134.2,75.6 178.7,79.9L182,79.9M-7,45.7L0.4,45.7C53.5,46.6 34.5,46.7 87.6,44.1C138.7,44.7 124.1,84.4 175.3,86.6L182,86.6M-7,39.2L-3,39.2C41.3,38.1 37.1,24.1 81.4,17.6C134.1,23.5 117.9,40.2 170.6,36.8L182,36.8M-7,37L-6.5,37C40.5,38.9 36.9,75.5 83.9,82.5C132.2,79.7 121.4,63.9 169.7,64.5L182,64.5M-7,39L-3.3,39C53.7,41.9 26.3,76.6 83.2,81.7C134.1,80.5 120.6,65.4 171.5,64.8L182,64.8M-7,42.3L2.7,42.3C49.4,45 43.8,62.6 90.4,63.2C146.9,61.9 117.3,41 173.8,42.1L182,42.1M-7,61.9L-1.2,61.9C47.8,59.6 39.2,45.2 88.2,42.4C145.7,44.3 117.4,22.4 174.9,19.3L182,19.3M-7,39.1L6.9,39.1C54.6,40.7 44.4,56.2 92.1,56.3C138.1,54.2 136.8,28.5 182.7,21.3L182,21.3M-7,16.1L-3.2,16.1C40.6,24.8 41.3,22.2 85.1,14C129.6,21.6 128.3,73.8 172.8,81.2L182,81.2M-7,20.5L-2.7,20.5C54.6,27.1 28.8,70.2 86.1,76.6C136.6,77.2 117.6,40.9 168.1,41.6L182,41.6M-7,39.4L-1.1,39.4C56.5,41.1 27.8,63.4 85.4,63.3C143.3,60.4 120.5,22.1 178.5,16.8L182,16.8"/>
<path d="M-7,40.8L2.5,40.8C53.6,44.7 41.4,41.6 92.5,37.3C137.8,40.6 135.7,83.7 181.1,92L182,92M-7,84.1L0.5,84.1C45.2,82 39.2,44.7 83.8,44.6C138.9,46.4 119.8,84.4 174.9,84.6L182,84.6M-7,20.6L-7.6,20.6C40.8,19.8 33.4,37.2 81.9,38.8C127.4,38.3 123.6,82.5 169.2,83.6L182,83.6M-7,37.7L6.8,37.7C65.4,42.1 33.7,19.1 92.4,14.2C144,19.2 128.5,25 180.1,18L182,18M-7,41.2L-2.9,41.2C54.7,42.3 27.1,62.5 84.8,64C135.4,61.5 124.4,80.5 175,86.1L182,86.1M-7,21.2L-2.2,21.2C52.5,21.6 32,60.2 86.7,62.2C142.3,62.2 120.3,42.4 175.9,43.1L182,43.1M-7,38.9L1.9,38.9C49,41.9 42.5,60 89.5,63.4C143.4,59.4 122.7,44 176.6,44.5L182,44.5M-7,20.5L-4.6,20.5C46.6,24.3 33.3,38.8 84.4,37.4C130.3,36.5 124.6,37.4 170.6,39.5L182,39.5M-7,18.5L3,18.5C54.9,19.1 36.4,58.3 88.3,60.1C146.7,59.8 115.6,42.9 174,42L182,42M-7,41L-8.4,41C40.5,41.8 27.1,78.6 76.1,83.6C123.7,85.2 118.8,65.4 166.4,64L182,64M-7,42.6L4.3,42.6C61.4,44.5 34.2,24.2 91.3,20.1C139.5,21.5 131.7,13.4 179.8,11.3L182,11.3M-7,39.1L-0.2,39.1C45.3,38.7 45.2,41.6 90.8,41.1C135.5,44.1 131.8,85.9 176.5,89.6L182,89.6M-7,85.2L-2,85.2C46.8,80.5 41.5,44.6 90.4,42.8C139.2,43.9 127.4,40.4 176.2,41L182,41M-7,60.8L-1.6,60.8C56.7,61.9 27.1,65.1 85.4,66.4C137.8,63.4 124.2,78.4 176.6,84.4L182,84.4M-7,37.1L2.9,37.1C60.6,40.8 33,77.8 90.6,85C142.7,84.7 125.7,84.5 177.8,82.8L182,82.8M-7,82L8.6,82C60.3,78.9 40.5,83.6 92.2,88.9C139.3,85.9 132,65.8 179.1,65L182,65M-7,41.6L11.4,41.6C55.8,41.9 54.8,24.4 99.2,20.8C150.3,21.2 133.2,17.2 184.3,15.5L182,15.5M-7,20.2L-2.8,20.2C46.9,23.1 36.2,42.8 85.9,42.3C138.7,44.9 119.3,22.7 172.2,16.1L182,16.1M-7,43.7L-5,43.7C48.2,41.6 26.8,60.1 80,61.2C131,59.5 117.8,44.6 168.8,41.4L182,41.4M-7,21.1L6.1,21.1C52.3,25.7 49.2,61 95.4,61C148.1,59.7 130.6,41.9 183.3,40.8L182,40.8M-7,66.1L-1.1,66.1C48,64.7 37.2,40.1 86.4,39.3C135.8,41.6 121.9,80.9 171.3,83.9L182,83.9M-7,38.8L-1.9,38.8C57,40.4 28.6,82.3 87.5,84.1C132.9,80.4 129.6,23.6 174.9,18.9L182,18.9M-7,16.2L-4.6,16.2C46.4,24.7 31.6,23.2 82.6,17.9C136.8,25.5 119,61.1 173.2,62.9L182,62.9M-7,16.2L-1.1,16.2C50,23.6 30.8,26 81.9,19.6C136,19.1 117.1,35.7 171.2,36L182,36M-7,35.3L-5.3,35.3C47.7,36.8 30.2,19.5 83.2,16.5C141.5,20.7 111,73.6 169.3,75.6L182,75.6M-7,35.2L-4.7,35.2C45,36.4 34.9,83.8 84.7,83.9C135.9,79.8 121.8,78.5 173,82.4L182,82.4M-7,21.9L2.7,21.9C46.8,25.6 46.1,76.2 90.2,82.4C144,78.7 124.1,67.2 177.8,66.3L182,66.3M-7,18.5L-0.2,18.5C50.9,19.9 38.1,16.2 89.3,16C133.3,19.1 132.8,42 176.8,39.6L182,39.6M-7,83.8L0.9,83.8C47.4,77.8 41,42 87.5,41.5C145.2,41.1 116.9,82.1 174.6,83L182,83M-7,42.9L3.4,42.9C54.7,44.2 36,22.1 87.4,19.3C133.3,20.3 130.5,82.9 176.4,83.7L182,83.7M-7,35.8L-4.8,35.8C50.4,36.8 28.2,41.9 83.3,41.8C132.3,41.8 121.3,61.7 170.3,62.7L182,62.7M-7,40.4L1.6,40.4C58.9,41.9 29.3,78.2 86.6,81.7C139.5,76 121.6,24.1 174.6,18.3L182,18.3M-7,60.8L-1.7,60.8C51.3,59.1 34.9,63.1 87.8,63.4C139.3,63.2 123.3,80.1 174.7,83L182,83M-7,36.7L2.1,36.7C45.8,39.4 46.4,41.7 90.1,41.4C148.7,40.4 117.4,42.2 176,37.9L182,37.9M-7,85.1L1.1,85.1C49,83.1 41.2,85.4 89.1,87.9C138.2,80.1 126.5,26.9 175.6,22.7L182,22.7M-7,39.4L1.2,39.4C50.6,39.3 38.5,39.3 87.9,39.4C134.4,43.2 131.6,62.9 178.1,61.5L182,61.5M-7,38.3L0.9,38.3C50.3,39.6 36.7,78.1 86.1,82.9C131.3,78 130.2,82.9 175.4,86.9L182,86.9M-7,38L0.4,38C59.5,39.4 22.7,17.8 81.8,15.4C130.1,20.5 123.4,78.7 171.7,83.3L182,83.3M-7,15.8L-1.6,15.8C53.3,19.9 29.9,18.5 84.8,16.4C139,21.7 119,41.7 173.3,38.8L182,38.8M-7,22.1L-4.5,22.1C49.2,28.2 27.4,77.1 81.1,81.8C125.6,79.5 127.4,23.5 171.9,21.6L182,21.6M-7,61.8L0.6,61.8C48.9,59.5 37.1,21.3 85.5,17.8C142.4,21.3 117.6,81 174.6,84.6L182,84.6M-7,8.1L2.7,8.1C57.9,11 33.3,40.2 88.5,40.1C141.2,41.2 120.8,59.5 173.4,59L182,59M-7,80.7L-0.9,80.7C54.5,81.4 30,39.9 85.4,40.1C133.6,41.3 124.4,77.9 172.6,83.5L182,83.5M-7,39.6L-4.6,39.6C48,41.4 33,45.3 85.6,46C142.8,46.4 115.1,21.9 172.3,18.8L182,18.8M-7,84.5L2.2,84.5C54.8,80.6 34.8,65.4 87.4,66.3C144.1,64 120,42.4 176.6,39L182,39M-7,77.3L-0.5,77.3C54.4,74.6 32.1,41.9 86.9,42.6C135.8,43.5 127.1,31.3 176,28.8L182,28.8M-7,64.1L-6.3,64.1C49.1,61.8 25.8,78.8 81.2,86.4C133.1,84.2 114.5,67.6 166.4,67.1L182,67.1M-7,85.8L-1.3,85.8C52.7,84.7 30.7,84.7 84.7,87.8C143.7,80.3 114.8,79.2 173.8,85.5L182,85.5M-7,84L11,84C69.1,83.2 36.9,67.6 95,68.8C153.6,67.3 123.9,20.4 182.5,17.5L182,17.5M-7,61L-2,61C46.7,60.2 37.1,45.6 85.9,42.8C137.9,43.5 122.5,77.6 174.6,81.6L182,81.6M-7,15.3L0.7,15.3C54,18.6 36,74.8 89.3,79.3C135.2,74.9 127.8,25.1 173.7,19.2L182,19.2M-7,42L1.1,42C45.5,44 41.2,43.4 85.7,39.8C141,42.9 118.3,79.9 173.6,84.9L182,84.9M-7,81.1L4.3,81.1C48.3,77.5 49,23.1 93,20.9C141.7,24.4 129.2,60.9 177.9,61.5L182,61.5M-7,83.5L-0.8,83.5C44.6,77.6 40.9,62.8 86.3,64.4C133.5,60.1 124.3,62.7 171.6,65.5L182,65.5M-7,39.7L0.1,39.7C53.9,40 37.9,63.6 91.6,64.8C146.5,64.2 123.7,20.4 178.6,17.8L182,17.8M-7,84.3L-2.2,84.3C51.2,80.1 32.5,46.8 85.9,44.9C144.3,45 115.2,37.8 173.6,39.2L182,39.2M-7,21.1L-0.1,21.1C58.4,23.9 27.9,39.7 86.5,39.3C138.5,39.7 123.3,82.4 175.3,85.6L182,85.6M-7,19.9L-0.4,19.9C58.6,25.6 24.5,22.9 83.5,16.6C128.9,23.6 127.3,42.2 172.8,40.6L182,40.6M-7,84.4L-3.4,84.4C52,81.1 28.5,43.5 84,43.2C138.4,43.1 115.6,78.9 170,83.8L182,83.8M-7,84.8L-0,84.8C57.1,84.5 28.4,21 85.5,19.7C133.1,24.1 130.3,61.5 177.9,62.9L182,62.9"/>
<path d="M-7,86.3L-5.4,86.3C45.9,83.8 29.9,64.8 81.2,65.2C131,61.8 120.8,26.4 170.6,19.2L182,19.2M-7,82.5L-1.6,82.5C47.9,79.2 35.1,23.9 84.6,20C135.4,23.1 121.3,76.4 172.1,80.9L182,80.9M-7,42.5L2.1,42.5C49.9,45.2 45,74.6 92.7,81.5C143,75.7 128.1,23.2 178.4,18.8L182,18.8M-7,85.1L0.4,85.1C47.3,82.2 43,43.5 89.9,42.8C147.9,43.4 117.1,16.9 175.1,17L182,17M-7,65.8L-2.4,65.8C52.2,65.5 31.6,80.5 86.2,80C132.9,75.7 126.9,60.7 173.5,62.3L182,62.3M-7,40.7L1.5,40.7C55.1,41.9 32.4,38.7 86.1,38.4C137.6,41.1 125,61 176.6,64L182,64M-7,35L2.4,35C52.5,37.4 38.6,41.3 88.7,38.4C143.1,39.2 119.4,64 173.8,63.6L182,63.6M-7,85.8L-3.8,85.8C50.1,78 31.6,30.2 85.5,23.9C139.2,26.1 118.6,42.6 172.3,41L182,41M-7,67.9L0.3,67.9C48.4,65.8 39.6,22.2 87.6,20.7C141.2,26.7 121.4,42.9 174.9,39.2L182,39.2M-7,61.6L1.6,61.6C46.3,61.3 46.4,24.3 91.1,19.7C145.7,24.1 125.8,40.1 180.4,38.7L182,38.7M-7,40.5L0.7,40.5C48.4,41.6 37.4,17.1 85,18C136.9,19.1 121.8,36.5 173.7,34.5L182,34.5M-7,41.7L-0.5,41.7C50.9,43.7 30.9,62.2 82.3,65.7C137.6,62.2 114.3,67 169.7,70.7L182,70.7M-7,83.9L-11.6,83.9C33.8,80.9 30.7,39.5 76.1,39.5C134.9,40.8 105.5,82.6 164.3,82.6L182,82.6M-7,62.2L3.9,62.2C57.9,59.1 36.5,59.9 90.6,64.5C145.5,60.9 123.8,43.6 178.7,42.6L182,42.6M-7,89L7.6,89C65.5,87 36.9,83.9 94.9,86.4C146,78.6 131.5,63 182.7,65.6L182,65.6M-7,12.4L3.5,12.4C50.3,14.9 44.9,35.4 91.8,35.2C142.5,34.2 126.5,44.1 177.3,42.8L182,42.8M-7,21.1L-0,21.1C47.4,21.9 42.3,39.3 89.7,37.4C134.4,37.7 128,20.5 172.6,15.1L182,15.1M-7,21.3L5.5,21.3C64,23.5 34.9,80.1 93.4,81.9C138.3,80.8 139.8,62.8 184.7,66.6L182,66.6M-7,82L7.9,82C60.3,76.6 40.8,40.7 93.2,39.2C152.2,42.5 118.8,42.4 177.8,39.6L182,39.6M-7,41.6L-2.9,41.6C52.7,43.9 29.6,62.1 85.2,61.8C142.3,60.4 117.7,40.5 174.8,40.7L182,40.7M-7,69.5L-0.3,69.5C53.6,68.9 33.3,62.3 87.3,62.1C135.7,59.9 123.1,76.7 171.5,82.1L182,82.1M-7,64.9L2.6,64.9C60,65.8 29.4,86.2 86.8,87.6C139,87.1 121.1,82.7 173.2,85.1L182,85.1M-7,83.7L-3.3,83.7C50.8,77.3 28.4,44 82.5,43.8C132.5,43.6 119.6,61.2 169.7,63L182,63M-7,39.2L-0.2,39.2C47,40.9 36.1,61.5 83.3,63C138.4,62.7 117.8,22.1 172.9,20.9L182,20.9M-7,17.1L-3.5,17.1C41.5,23.8 38.1,37.8 83,36.6C141.6,40.1 114.6,44.4 173.1,40.2L182,40.2M-7,84.6L-1.4,84.6C44,76.6 39.3,62.6 84.7,65.2C135,62.1 126.1,81.8 176.4,85.5L182,85.5M-7,81.8L-5.5,81.8C44.8,79 32.4,20.7 82.7,20.5C140.3,26.7 110.1,77.4 167.7,82.7L182,82.7M-7,19.4L-5.5,19.4C44.2,22.4 32.5,38 82.2,36.4C136.8,36.4 117.4,78.7 172,83.1L182,83.1M-7,17.3L1.3,17.3C52.4,21.1 35.6,65.1 86.8,66.1C132.9,62.8 126.4,83 172.5,88.5L182,88.5M-7,85.8L1.3,85.8C58.8,79.4 31.6,81.8 89.1,84.8C136.5,79.5 127.2,25.2 174.6,19.3L182,19.3M-7,40.9L-8,40.9C44.6,41.7 29.3,21.3 81.9,16.4C134,20.9 114.5,37.8 166.6,37L182,37M-7,84.5L-2.7,84.5C54.3,77.4 25.7,44.1 82.7,45.4C129.3,43.8 125.2,84.9 171.8,83.8L182,83.8M-7,44.7L1.2,44.7C57,47.2 34,81.2 89.8,83C140.9,76.8 122.9,82.7 174,86.9L182,86.9M-7,38.8L-1.6,38.8C56.7,42.8 25.7,64.7 84,62.2C141.4,61.9 116.5,22.5 173.9,18.2L182,18.2M-7,39.1L5.3,39.1C61.9,43.4 35.6,22.4 92.3,17.6C145.7,25.5 126.4,39.9 179.9,37.6L182,37.6M-7,58L-3.3,58C52.2,59.3 29.6,66 85.1,64.7C135.2,65.2 118.8,79.6 168.9,83.3L182,83.3M-7,64.6L5.4,64.6C51.8,64.8 41.5,25.5 88,20.6C147.4,25.1 117.9,61.3 177.3,62.5L182,62.5M-7,17.8L1.3,17.8C55.3,20.9 34.5,18.9 88.6,16.9C147.1,21.7 117.2,18.3 175.8,14.8L182,14.8M-7,85.1L3.8,85.1C55.6,77.3 35.1,64.1 86.9,65.7C139.6,65.2 123.1,82.8 175.8,87.2L182,87.2M-7,16.5L1.3,16.5C60.3,18.7 31.8,36.1 90.8,37.4C138.6,38.8 129.2,42.6 177,41L182,41M-7,65.7L-0.2,65.7C46.7,61.6 39.4,24 86.3,19.2C136.6,24.9 124.6,57 174.9,58.2L182,58.2M-7,46L-4.1,46C40.4,46 40.2,61.4 84.7,65.2C133.4,64.8 124.3,91 172.9,92.3L182,92.3M-7,82.6L4.2,82.6C61.6,80.4 34.8,20 92.2,20C146.4,21.3 126.2,59.5 180.4,60.6L182,60.6M-7,38.3L-6.3,38.3C40.1,42.9 33.2,17.4 79.6,10.8C138.7,16.3 108.8,54.4 167.8,55.8L182,55.8M-7,34.4L0.4,34.4C50.5,34.6 38.8,92.4 88.9,93.3C144.9,92.9 121.6,24.3 177.6,25.5L182,25.5M-7,81.4L-0.9,81.4C44.3,78.9 42,86.5 87.2,88.9C140.5,87.3 122.1,85.7 175.3,86L182,86M-7,63.2L1.3,63.2C45.8,60.3 43.6,79.9 88.1,86.2C136.8,83.1 126.8,81.7 175.5,84L182,84M-7,16.8L7.3,16.8C59.6,21.4 41.9,80 94.2,82.2C139.9,79.4 137.2,63.8 182.9,64.6L182,64.6M-7,63.3L-0.3,63.3C47.3,60.2 38.8,26.1 86.5,19.9C144.3,22.1 114.2,60.7 172,63.5L182,63.5M-7,20.9L-3.1,20.9C55.9,24.6 25.3,41 84.3,37.5C133.4,40.1 123.9,38.3 173,38.5L182,38.5M-7,35.3L1.3,35.3C60.1,39.4 29.7,40.8 88.5,37.8C135.8,41.2 126.7,40.5 174,38.3L182,38.3M-7,15.8L-4,15.8C45.1,16.8 35.7,40 84.8,37.3C134.2,36 122.9,86.9 172.4,88.3L182,88.3M-7,15.8L-2.6,15.8C45.7,15.7 36.7,86.1 85.1,86.4C143.7,84.7 114.6,25.9 173.2,24.1L182,24.1M-7,18.2L-0.3,18.2C47.4,18.8 38.6,83.4 86.4,81.4C131.5,78 129.7,78.4 174.8,85L182,85M-7,41.7L-2.5,41.7C50.7,42.6 32,58.2 85.2,62.4C129.5,58.7 129,60.9 173.3,62.9L182,62.9M-7,82.9L2.2,82.9C61.5,77.8 30.5,83.7 89.8,87.2C140.6,81.5 127,80.4 177.8,86.7L182,86.7M-7,81.9L-2.6,81.9C52.4,76.7 33,35.5 87.9,30.4C133,33.5 129.5,78.5 174.6,84.3L182,84.3M-7,82.7L3.9,82.7C61.2,79.7 31.4,65.5 88.7,66.1C144.8,67.3 121.9,85.2 178,85.8L182,85.8M-7,19.6L-0.9,19.6C45,23.5 40.9,60.6 86.8,60.5C141.2,58 118.9,63 173.3,65.2L182,65.2M-7,42.8L-2,42.8C50,45.8 32.8,60.6 84.7,63.4C133.3,61.8 122.3,64.5 170.9,64.9L182,64.9"/>
<path d="M-7,85.4L-8.9,85.4C49.6,80.2 25.5,67.7 83.9,69.6C141.6,69 109.2,65 166.9,65.1L182,65.1M-7,87.2L-1.6,87.2C54.7,83.9 30.6,87.1 86.9,87.1C132.5,80.5 128,76.6 173.6,84L182,84M-7,83.5L0.8,83.5C56.4,78.5 30.4,44.7 85.9,42.8C138.7,45.7 125,20 177.8,17.8L182,17.8M-7,38.3L4.6,38.3C63.1,40.2 31.7,59.2 90.2,61.4C146.1,59.1 124.4,27.9 180.3,21.7L182,21.7M-7,79.4L0.2,79.4C47.2,74.7 41.7,17.7 88.7,12.8C135.8,13.7 131.3,37.9 178.3,36.1L182,36.1M-7,16.8L-5,16.8C53.7,16.1 25.5,13.1 84.1,13.7C135.7,18.6 116.9,22.2 168.5,16.9L182,16.9M-7,81.2L-0.6,81.2C48.5,79.9 36.7,64.1 85.8,67.3C130.1,68.9 129.9,20.9 174.2,19.3L182,19.3M-7,79.4L-3,79.4C54.5,76.2 30.7,24.6 88.1,23.1C136.7,25.8 129,44.4 177.5,41.5L182,41.5M-7,85.2L1.8,85.2C58.4,82.3 33.4,44 90,43C148,44.3 116.8,22.2 174.8,19.9L182,19.9M-7,82.8L1.9,82.8C50.8,80.5 39.4,19.9 88.3,19.8C136.7,23.7 127.2,19.8 175.6,17.5L182,17.5M-7,41.1L5.9,41.1C62.4,41.3 36.3,59.7 92.9,60.2C141.7,58 130.1,18.4 178.9,16.3L182,16.3M-7,84.5L6.1,84.5C54.6,79.3 42.9,82 91.4,87.2C137.4,86 133.9,22.7 179.9,21.9L182,21.9M-7,84.8L-8.1,84.8C41.9,76.6 31.6,75.9 81.6,83.6C127.6,79.9 121.4,40.9 167.4,40.6L182,40.6M-7,45.3L-4,45.3C44.8,44.8 36.6,83.4 85.4,84.1C136.3,77.9 125.3,80.8 176.2,85L182,85M-7,38.2L0.9,38.2C56.8,41.4 26,78.9 81.9,82.2C132,81.2 125.6,23.8 175.6,21.4L182,21.4M-7,64.3L-0.6,64.3C49.8,66 33.5,19 83.9,17.4C134.5,24.4 122.1,21.4 172.7,16.3L182,16.3M-7,64.2L1,64.2C46,61.8 43.7,63.3 88.6,64.9C135.2,62.7 126.9,64.9 173.4,66.2L182,66.2M-7,64.1L7.4,64.1C57.4,63.7 47.1,76.8 97,83.9C142.8,77.7 134.8,78.3 180.5,84.1L182,84.1M-7,42.2L-2.5,42.2C49.7,43 34.3,23.6 86.6,19.3C139,22.6 121.6,78.9 174.1,82.5L182,82.5M-7,64.6L0.8,64.6C46.1,63.1 42.4,42 87.7,40.2C142.9,42.2 121.5,76.3 176.7,83.4L182,83.4M-7,20.5L-3.7,20.5C51.6,28.8 22.7,59.1 78,60.1C124.8,59.3 124.7,61.9 171.5,63.5L182,63.5M-7,22.7L5,22.7C61.5,25.9 33.2,85.1 89.7,90.2C142.9,89 127,43.5 180.2,41.6L182,41.6M-7,18.4L7.1,18.4C57.1,19.9 41.2,18.6 91.2,17.2C135.5,19.3 137,40.8 181.3,38.2L182,38.2M-7,36.6L-1.8,36.6C44.7,36.1 40.2,61.7 86.7,62.7C144.9,60.2 117.6,20.5 175.8,14.8L182,14.8M-7,61.9L-1.9,61.9C45.6,60.5 39.4,16.7 86.9,10.6C140.4,13.7 119.5,13 173,6.8L182,6.8M-7,61.9L-3.4,61.9C49.9,58.9 35.6,40.9 88.8,39.8C146.2,42.8 116.5,30.6 174,29.3L182,29.3M-7,40.1L5.4,40.1C62,42.5 33.5,80.8 90.1,87.1C148.4,81.9 119.9,22.2 178.2,18L182,18M-7,17.9L-1.6,17.9C54.2,18 30.6,16.2 86.4,13.7C138.8,22.8 119.2,22.8 171.6,14.1L182,14.1M-7,17.9L2.7,17.9C50.3,23.6 42,21.5 89.6,14.6C143.7,16.2 121.1,61.5 175.3,62.7L182,62.7M-7,23.4L1.2,23.4C47.9,27.9 45.8,42.2 92.4,40.5C139.9,42.6 128.1,32.9 175.6,29.6L182,29.6M-7,63.1L-2.4,63.1C42.5,61.7 40.4,42.8 85.4,40.7C139,43.4 115,40.6 168.7,38.1L182,38.1M-7,18.6L-4.4,18.6C50.7,18.5 28.3,80.8 83.5,83.3C130.8,82.5 123,43.7 170.3,44.9L182,44.9M-7,41.3L-2.3,41.3C56.2,41 31.5,21 90,17.5C139.1,19 125.6,13.6 174.6,14.4L182,14.4M-7,65.1L2.9,65.1C52.1,63.2 40.7,43 89.9,43.5C142.3,42.8 125.4,85.5 177.8,87.8L182,87.8M-7,62.1L3.9,62.1C59.3,60.8 37.5,85.5 92.9,85.1C150.6,81.7 126.4,43.8 184.1,42.1L182,42.1M-7,62.6L1.5,62.6C47.8,61.9 41.9,62.8 88.2,66.6C132.1,66.7 133.8,61.9 177.6,62.1L182,62.1M-7,37.7L2.4,37.7C60.7,39 30.5,18.5 88.8,18.2C144.3,20 120.5,59.2 176,59.2L182,59.2M-7,43.9L-4.4,43.9C48.6,46.6 33.1,41.6 86.1,39.6C137.4,39.9 123.8,61.4 175.1,62.3L182,62.3M-7,16.9L1.9,16.9C58.6,17.8 30.8,61.4 87.5,61.9C144.2,61.9 120.3,41.8 177.1,41.2L182,41.2M-7,57.8L0.8,57.8C49.5,57.1 43.5,46.3 92.2,45.1C143.3,47.1 124.8,61.2 175.9,62.5L182,62.5M-7,87.6L-2.4,87.6C47.1,82.4 39.1,42.5 88.6,43.4C133.6,45.4 128.5,25.3 173.5,17.8L182,17.8M-7,16.8L-1.1,16.8C45.7,21 40.1,61 86.9,63.4C134.6,59.5 127.7,88.4 175.5,95L182,95M-7,64.7L-5.6,64.7C47.1,62.5 33.6,43.7 86.3,40.7C135.4,40.6 119.9,42.6 168.9,41.8L182,41.8M-7,39.4L-7.2,39.4C37.4,40.4 34.8,82.5 79.5,85C123.4,82.3 123.7,82.6 167.7,84.6L182,84.6M-7,63.4L-1.9,63.4C51,62.2 32.4,60.4 85.4,60.9C144,60.1 115.2,44.5 173.9,42.6L182,42.6M-7,37.6L-0.4,37.6C51.7,37 34.6,20.1 86.7,18.4C145.6,22.1 117.4,37.4 176.3,38.5L182,38.5M-7,59.2L-0.7,59.2C53.5,62.1 33.7,65.4 88,64.9C144.4,63.7 117.3,82.3 173.7,85.1L182,85.1M-7,44.9L2.5,44.9C56.3,46.4 38.5,63.7 92.3,64.6C139,62 130.2,19.5 176.9,14L182,14M-7,86.4L1.5,86.4C45.8,79.1 43.5,25.7 87.7,21C132.2,29.2 130.6,59.7 175.1,61.9L182,61.9M-7,18.5L1.6,18.5C51.5,25.3 39.6,58.1 89.5,59.4C144.4,60.2 122.4,41.8 177.3,40.5L182,40.5M-7,83.2L-2.1,83.2C48.2,80.3 37.2,21.2 87.5,18.3C140.4,24.9 120,75.8 172.9,82.1L182,82.1M-7,39.3L6.1,39.3C63.8,40.9 32.7,62.8 90.3,63.8C149,62.7 118.4,82.2 177.1,84.9L182,84.9M-7,84.9L0.4,84.9C46.5,78.3 39.2,36.5 85.3,32.7C129.7,33.7 130.7,84.9 175,88L182,88M-7,16L-5.3,16C52.4,18.4 25.5,67.7 83.2,67.3C134.6,63.9 119.1,24.3 170.5,20.9L182,20.9M-7,62.8L-0.3,62.8C59,59.7 26.8,43.9 86.1,43.2C133.6,43.5 125,37.5 172.5,37.9L182,37.9M-7,66.7L-0.9,66.7C50.1,65.3 34.7,64.4 85.6,64.2C132.5,61.3 125.4,41.9 172.3,41.2L182,41.2M-7,23.1L3.1,23.1C50.4,22.9 42.9,41.7 90.2,41.1C143.1,42.5 126.4,60 179.3,62.1L182,62.1M-7,85.8L-1.9,85.8C54.8,78.2 28.8,27 85.5,21.5C133.5,29 126.6,23.1 174.6,16.3L182,16.3M-7,41.1L-8.6,41.1C35.9,41 34.4,81.4 79,83.8C131.6,76.5 116.3,42.5 168.9,40.6L182,40.6M-7,64.3L0.3,64.3C59.6,63.8 28.2,84.6 87.5,85.2C132.5,81.6 130.1,23.1 175.1,19.4L182,19.4"/>
<path d="M-7,86.5L-6.4,86.5C50,82.7 28.4,81 84.8,86.9C139.4,86.4 115.7,83.1 170.3,84.4L182,84.4M-7,39.5L-3,39.5C50.5,41.6 27.1,78.1 80.6,82.6C139.1,77.8 112.6,24.7 171.1,19.6L182,19.6M-7,62.3L4.8,62.3C48.8,61.8 43.7,20.6 87.8,19.3C143.1,25.3 124.9,44.3 180.2,39.6L182,39.6M-7,83.9L-2,83.9C43.8,77.3 42.1,57.4 88,60.5C147,59.9 116.8,81 175.8,83.9L182,83.9M-7,39.9L-2.9,39.9C47.6,42.2 33.8,17.5 84.3,14.5C134.5,22.4 124.7,75.1 174.8,81.9L182,81.9M-7,84.1L1,84.1C54.9,84.5 34,21.4 88,21.3C136.2,27.3 125.8,21 174,14.8L182,14.8M-7,87.7L1.8,87.7C45.7,79.6 45.4,27.7 89.3,23.1C147.6,28 117.7,41.8 176,37.6L182,37.6M-7,66.2L0.5,66.2C52.8,64.9 35.9,83 88.2,89.7C133.3,83.7 129.6,77 174.7,85.3L182,85.3M-7,85.9L-1.8,85.9C46.2,81 36.9,85.4 84.9,89C131.2,87.1 126.7,41.1 173,41.7L182,41.7M-7,80.7L-2.2,80.7C51.4,79.3 31.1,82.6 84.8,87C143.6,86.5 111.3,22.8 170.1,20.1L182,20.1M-7,35.5L-0.1,35.5C58.8,37.8 30.7,21.6 89.6,16.1C134.7,16.1 132.9,60 178,59.7L182,59.7M-7,19.4L-0.5,19.4C55.9,20.7 28.6,16 85,16.2C138.4,19.7 120.4,55.8 173.8,56L182,56M-7,89.7L4.8,89.7C53.4,86.5 40.4,63 89.1,64.6C132.8,66.7 133.7,61.5 177.4,62L182,62M-7,38.1L0.7,38.1C57.5,40.1 30.9,82.5 87.7,84.4C146.4,78.7 117.2,24 175.9,19.5L182,19.5M-7,61.9L-1.6,61.9C53.1,61.5 31.1,42.1 85.8,41C139.3,41.2 121.6,82 175.1,85.5L182,85.5M-7,41.1L0.7,41.1C57.7,43.6 30.1,77.8 87.1,83.4C146.3,77.9 114.2,45.2 173.4,45.2L182,45.2M-7,40.2L5.8,40.2C63.1,41.8 34.6,41.3 92,40.5C150.9,40.6 118.6,64.2 177.5,64.3L182,64.3M-7,84.1L-6.9,84.1C52.2,81.5 21.2,43.4 80.4,42.6C135,45.3 115.7,41.8 170.3,38.8L182,38.8M-7,68.1L-4,68.1C48.6,65.2 31.4,39.1 84.1,38.8C134.4,38.7 119.5,45 169.8,43.8L182,43.8M-7,60L-5.2,60C48.4,58.6 31.1,21.2 84.7,19.1C141.3,25.6 113.5,20.2 170.1,14.5L182,14.5M-7,67.4L-3.7,67.4C51.9,62.9 27.8,59.8 83.4,61.6C130.4,58.8 123.4,64.6 170.3,64.1L182,64.1M-7,86.7L-11.1,86.7C38.1,79.7 29.7,25.6 78.9,22.9C123.3,28.3 120.2,38.3 164.6,37.5L182,37.5M-7,38.7L2.9,38.7C58.6,40.9 37.9,22.1 93.5,15.1C150.6,15.6 120.7,81.1 177.7,80.5L182,80.5M-7,17.8L-0.4,17.8C54.1,21.4 32.7,41.3 87.2,39.3C144.6,41.9 119.3,80 176.7,82.3L182,82.3M-7,82.9L-0.8,82.9C50.4,79.5 34.6,22.7 85.7,22.3C131,22.7 124.3,81.7 169.6,84L182,84M-7,63.4L-0.3,63.4C44.1,63.1 43.2,66.7 87.5,67.3C140.8,67 123.9,64.9 177.2,65L182,65M-7,44.6L6.2,44.6C65.3,45.1 32.2,27 91.3,25.6C147.2,28.7 121.5,60.1 177.4,60.8L182,60.8M-7,86.9L-0.5,86.9C46.2,84.1 41,26.1 87.7,22.9C142,25.7 123.9,57.2 178.3,58.9L182,58.9M-7,15.9L1.3,15.9C51.1,19.7 36.4,59.4 86.1,60.9C131.7,60.6 128,81.8 173.6,84L182,84M-7,18.9L-4.1,18.9C47,20.7 30,20.5 81,14.3C127.1,16.1 123.7,60.8 169.7,61.9L182,61.9M-7,61.4L-7.1,61.4C36.7,61.1 39.7,63.5 83.6,63.5C141,62.7 112.8,76.2 170.3,84.2L182,84.2M-7,83.6L-12.3,83.6C44.1,77.6 22.3,41.5 78.6,38.9C136.9,41.5 108.2,83.2 166.5,88.2L182,88.2M-7,64L4.3,64C61.1,62.2 31.7,42.8 88.4,40.6C142.1,43.4 125.7,61.2 179.3,63.7L182,63.7M-7,83.5L2.1,83.5C61.2,78 32.2,59.9 91.4,64.7C150,64.1 123.7,22.6 182.3,19L182,19M-7,21.5L7.6,21.5C59.3,25.6 44.5,61.9 96.2,62.4C148.3,61.2 126.6,60.6 178.7,62.8L182,62.8M-7,18.3L-1.6,18.3C49.8,19.5 38.7,63.9 90.1,65.2C144.7,63.4 121,47.5 175.6,47L182,47M-7,16.4L-0.1,16.4C58.4,20.6 30.8,35 89.3,36.4C143.2,38.8 125.4,59.7 179.3,61L182,61M-7,44.5L2.2,44.5C53.7,44.7 39.1,81.5 90.6,82.9C142.5,80.2 124,46.1 175.8,46.4L182,46.4M-7,62.4L5.3,62.4C62.3,62.2 35.4,43.4 92.4,42.4C144.5,41.1 128.6,61.1 180.7,62.2L182,62.2M-7,83.8L-0.3,83.8C59.1,81.7 26,41.3 85.3,42C138.9,42.9 116.6,76.8 170.1,81.2L182,81.2M-7,42.9L2.3,42.9C54,41.6 35.9,83.4 87.7,83.6C134.8,77.1 130.3,76.3 177.4,83L182,83M-7,66.2L-4.7,66.2C54.2,61.8 24.9,80.1 83.8,84.9C134.1,81.8 120,66.3 170.3,67.4L182,67.4M-7,20.9L-3.7,20.9C48.3,20 30.5,84 82.5,84.3C129.8,80.8 126.8,64.5 174.1,64.9L182,64.9M-7,78.5L5.1,78.5C52.5,77.8 42.4,88.9 89.8,88.8C149.2,85 119.6,77.4 179.1,84.1L182,84.1M-7,84.1L-0.7,84.1C48.3,78.8 35.1,82.1 84.1,87.2C134.5,82 121.7,44 172,42.3L182,42.3M-7,66.6L-5.1,66.6C44.6,63.5 35.2,28.1 84.9,21.3C130.4,24.2 126.7,73.4 172.1,79.6L182,79.6M-7,61.3L-1.4,61.3C57.7,61.1 25.7,43.2 84.8,41.4C133.4,42.3 123.7,61.4 172.3,62.5L182,62.5M-7,83.1L-5.4,83.1C53.7,77.1 19.7,24.1 78.8,17.8C128.4,22.9 118,76.3 167.5,83.2L182,83.2M-7,36.8L1.8,36.8C46.8,38.8 44.2,43.9 89.1,41.4C147.6,41.3 120.6,62.1 179.1,62.8L182,62.8M-7,82.2L-4,82.2C46.5,77.3 31.4,42.7 82,42.7C139.9,42.8 117.7,18.6 175.6,17.1L182,17.1M-7,83.5L8.2,83.5C55.5,84.3 47.3,64.9 94.7,64C140.5,62.9 137.8,81.4 183.6,84.4L182,84.4M-7,83.7L2.9,83.7C49.6,80 43,46 89.6,43.7C139.5,45.5 127.1,62.6 176.9,63.3L182,63.3M-7,40.7L-0.1,40.7C54,43.2 33.6,79.7 87.7,86.2C146.1,81.6 113.3,47.6 171.7,44.8L182,44.8M-7,82.3L-4.1,82.3C43.1,77.9 35.3,24.4 82.5,21C130.3,21.8 122.6,41.7 170.5,40.5L182,40.5M-7,19.7L-3.2,19.7C56,25.9 25.3,74.2 84.6,80.3C144,74.6 115.2,60.8 174.7,64.8L182,64.8M-7,60.4L1.5,60.4C52.3,59.3 39.3,40.2 90.1,40.9C144.2,40.6 122.1,44.2 176.2,43.8L182,43.8M-7,38.1L0.6,38.1C51.4,38.4 38,82.7 88.8,83.1C143.1,83 118.6,38.9 172.9,40.8L182,40.8M-7,44.2L9.8,44.2C54.8,44.9 50.5,18.9 95.5,16.2C150.6,23.2 127.7,40.9 182.9,39L182,39M-7,81.3L2.6,81.3C54.1,76.7 37.9,63 89.5,64.7C136.7,61.3 131.3,75.1 178.6,82.4L182,82.4M-7,42.1L-4.7,42.1C52.8,45.3 26.7,42.1 84.2,39.9C137.3,42.2 118.2,80.1 171.3,86.3L182,86.3"/>
<path d="M-7,21.7L4.1,21.7C48.6,25.4 43.6,58.7 88,61.9C146.5,61.2 119,25.9 177.6,20.1L182,20.1M-7,85.1L3.8,85.1C53.7,81.2 39,24.7 89,20.8C137.2,23.4 126.9,17.4 175.1,15.7L182,15.7M-7,63.3L3.1,63.3C58,61.3 37.6,84 92.5,84.8C148.2,84.3 118.8,85.8 174.6,86.5L182,86.5M-7,59.2L2.5,59.2C55.7,56.7 38.1,22.2 91.4,17C145.2,21 120.7,76.9 174.5,81L182,81M-7,46.6L-1.4,46.6C42.4,44.3 43.8,32 87.5,27.7C146.4,25.7 112.5,80.8 171.4,80.8L182,80.8M-7,40L8.5,40C52.7,40 48.3,20.9 92.4,15.5C146.6,24 126.6,59.9 180.8,63.4L182,63.4M-7,63.9L4.4,63.9C52.7,63.1 39.5,45.9 87.9,46.3C141.4,46.9 122.9,83.1 176.4,85.3L182,85.3M-7,38.5L-1.6,38.5C49.2,41.3 37.9,22.5 88.7,15.9C147.2,22.7 116.6,42.8 175,40.3L182,40.3M-7,62.2L-1.1,62.2C57.9,62.8 25.7,43.2 84.7,40.5C130,41.8 129,63.7 174.3,61.9L182,61.9M-7,15.1L-2.3,15.1C42.5,14.5 40.1,60.9 84.9,61.8C137.7,62.2 119.1,81.3 171.9,83.8L182,83.8M-7,86.6L-6.4,86.6C39.2,84 33.9,63.7 79.5,66.8C125.7,64.2 122.9,62.4 169.1,64.6L182,64.6M-7,66.1L3.7,66.1C54,66.3 41.1,43.5 91.4,42.6C150.6,43.2 120.8,77.5 180,84.7L182,84.7M-7,59.4L-1.2,59.4C53.4,60.5 33.4,40.6 87.9,39.8C146.4,42.8 119.9,24.2 178.3,17.8L182,17.8M-7,45.9L7.3,45.9C58.8,45.4 42.1,75.2 93.5,80.2C138.9,76 134.2,25.4 179.6,19.8L182,19.8M-7,21.3L-3.7,21.3C42.2,19.7 37.3,15.6 83.2,13C135.8,15.2 117.5,17.8 170.2,14.3L182,14.3M-7,39.4L2.6,39.4C54,41.2 35.7,19.3 87.2,15.9C133.1,21.4 126.4,43.6 172.4,41L182,41M-7,17.6L0.1,17.6C54.1,25.4 39.1,40 93,38.5C150.3,39.9 120.3,14.5 177.6,14.7L182,14.7M-7,86.2L-5.7,86.2C43.6,84.1 33.3,72.6 82.6,69.9C134.1,65.6 121.1,80.4 172.6,90L182,90M-7,40.9L0.8,40.9C50,40 39.3,21.4 88.5,16.9C137.9,21.5 126.1,78.6 175.6,81.9L182,81.9M-7,17.5L-0.6,17.5C45.5,21.7 41.7,40.9 87.8,39.3C147,44.1 118.7,35.6 177.9,35L182,35M-7,41.4L-4.6,41.4C53.2,41.4 26.9,81.3 84.6,84.7C137.7,78.3 117.4,45.4 170.5,44L182,44M-7,22.5L-0.7,22.5C47.7,23.3 37.9,82.3 86.2,82.2C135.1,77.2 123.6,65.7 172.5,67.6L182,67.6M-7,59.4L1.8,59.4C52.2,57.3 40,77.9 90.5,83.8C147.2,76.2 123.1,81.3 179.8,83.3L182,83.3M-7,17.3L-8.5,17.3C43.9,23 27.9,41.6 80.3,39.1C130.6,40.8 116.2,79.6 166.5,82.9L182,82.9M-7,64.5L-1,64.5C46.1,62.8 34.9,77.8 82,81.5C135.9,80.7 119.5,85.2 173.4,86.8L182,86.8M-7,16.9L-9,16.9C41.7,22.8 29.3,74.3 80,81.3C137.6,78.2 112.8,43.7 170.4,43.5L182,43.5M-7,20.4L-0.7,20.4C47.8,22.2 37.8,61.4 86.2,61.9C135.4,60.3 126.9,21 176.1,19.7L182,19.7M-7,83.1L-0.6,83.1C55,80.3 34.2,66.6 89.8,66.4C137.8,62.9 128.4,61.1 176.5,62.5L182,62.5M-7,83.8L-3.8,83.8C42.4,79.2 36.4,63.6 82.6,66.4C140.7,66.3 112.1,88.2 170.2,87.6L182,87.6M-7,88L-4.6,88C39.1,81.9 40.5,22.5 84.2,18.5C139.3,17 116.2,38.8 171.3,39.8L182,39.8M-7,17.7L1.1,17.7C47.4,23.9 45.2,59.5 91.5,62.7C146.2,61.6 123.2,60.4 177.8,62.8L182,62.8M-7,62L1.7,62C50.6,61 39.5,25.3 88.3,17.7C132.4,23.4 133.2,22.1 177.3,18.1L182,18.1M-7,19.7L-0.1,19.7C55.5,22.2 31.2,61.2 86.8,61C139.9,58.3 122.5,78.9 175.7,85L182,85M-7,66.7L-1.4,66.7C45,65.3 39.7,21.6 86.1,19.8C131.9,22.7 127.4,39.2 173.2,38.7L182,38.7M-7,65.8L-0.3,65.8C56.5,67 29.8,40.7 86.6,40.6C143.2,40.1 116.8,24.1 173.4,20L182,20M-7,60.4L-1.1,60.4C56.8,60.1 28.8,45 86.7,43.1C133,45.6 129.1,81.4 175.3,83.5L182,83.5M-7,14.9L-3.3,14.9C51,17.9 30.3,16 84.7,14.5C139.9,18 115.7,22.5 170.8,19L182,19M-7,65.1L-0.9,65.1C54.9,64.3 29.9,19 85.7,18.2C141.7,25.8 115,61.3 171.1,62.3L182,62.3M-7,42.6L2.7,42.6C50.2,43.2 43.3,39.3 90.8,39.2C139.5,42.7 128.3,44.7 177,41.3L182,41.3M-7,35.7L-5.8,35.7C44.7,41.3 34.1,21.5 84.6,14.8C131.2,15.7 122.1,63.2 168.8,65L182,65M-7,41.9L-1.8,41.9C46.9,39.6 37.1,80.7 85.8,82.3C134.5,78.7 125.1,25.2 173.8,21.1L182,21.1M-7,87L2.4,87C53,87.1 40.9,20.4 91.5,22.2C140.1,25.2 128.6,56.9 177.2,58.6L182,58.6M-7,85L0.1,85C57.3,82.8 28,65.8 85.3,66.4C130.7,67.4 129.6,14.9 175.1,15.5L182,15.5M-7,38.5L-4.8,38.5C53.9,39.3 25.6,15.3 84.3,17.3C142.5,22.4 111.9,59.7 170.1,61.7L182,61.7M-7,83.4L2.4,83.4C58.6,84.4 36.4,43.2 92.7,43.6C137.5,44.5 133.2,76.4 178,81.7L182,81.7M-7,35L3.4,35C48.2,37.1 45.6,23.1 90.4,14.6C139.7,13.1 130.9,35.2 180.2,36.8L182,36.8M-7,36.7L-0.2,36.7C54.3,39.5 34,78.1 88.6,85C134.8,80 125.5,65.4 171.7,67.1L182,67.1M-7,85.5L-1,85.5C49.5,80.9 35.8,84.9 86.3,88.4C144.6,86.7 114.9,44.1 173.1,42.7L182,42.7M-7,87.1L4.3,87.1C53.7,81.1 42,78.8 91.4,84.1C135.3,79 132.8,83.9 176.8,87.8L182,87.8M-7,61L1.3,61C57.3,60.7 32.7,80 88.7,82.4C144.3,76.9 120.1,47.6 175.7,46.3L182,46.3M-7,83.1L-5.6,83.1C52.9,82.6 25.8,66.2 84.3,67.6C131.3,66.2 124.2,25.1 171.2,20.1L182,20.1M-7,84.7L5.5,84.7C59.7,82.6 37.1,65.2 91.3,67.1C136.7,64.6 135.6,17.4 181,13.8L182,13.8M-7,66.4L0.9,66.4C53,64.4 33.7,61.4 85.8,65.4C134.5,65.6 126.3,88.1 175.1,86.8L182,86.8M-7,41.6L-4.3,41.6C51.9,44.3 27.1,16.2 83.3,16.1C131.1,21.9 122.6,40.6 170.5,38.1L182,38.1M-7,37.7L-2.3,37.7C56,40.6 28.5,21.8 86.9,17.5C132,23.2 128.5,79.8 173.6,84L182,84M-7,18.5L2.4,18.5C46.6,23.9 47.1,19.6 91.3,14C147,20.7 122.8,78.7 178.5,83L182,83M-7,83.3L2.4,83.3C50.6,76.2 41.1,65.3 89.3,67.5C135.5,67.5 131.5,80.7 177.7,82.8L182,82.8M-7,37.1L-3,37.1C49.7,37.3 31.9,24.3 84.7,19.7C141.9,19.8 115.7,79.8 173,81.7L182,81.7M-7,67L-6,67C38.2,64.8 38.1,65.4 82.3,65.3C139.7,65.8 115.4,85.3 172.9,84.8L182,84.8M-7,36.8L1.7,36.8C59,36.2 29.1,20.3 86.4,20C131.1,24.8 131.7,60.2 176.4,61.3L182,61.3"/>
<path d="M-7,22.3L5.4,22.3C55.4,22.1 40.6,82.2 90.6,82.7C135.1,80.4 138.3,65.9 182.8,66.5L182,66.5M-7,42.8L1.1,42.8C46.2,42.4 46.4,24.4 91.5,21.7C147.1,28.4 123.4,38.5 179,35.3L182,35.3M-7,14.2L2.5,14.2C58.6,16.8 30.1,57.3 86.2,60.6C133.6,60.2 128.6,60.5 176,60.3L182,60.3M-7,20.9L4.2,20.9C50.4,25.4 45.4,39.4 91.6,38C144.9,38.2 123.7,59.8 176.9,60.9L182,60.9M-7,16.1L2.4,16.1C60.3,23.4 33.6,20.1 91.6,14.9C139.3,23.5 133,21.7 180.7,14.5L182,14.5M-7,43.1L-3.7,43.1C52.3,42.5 26.2,26.1 82.2,20.1C138.6,20.8 112.2,19.4 168.6,17.3L182,17.3M-7,20.3L2.8,20.3C56.5,21 36,37.8 89.7,37.8C134.6,39.8 131.9,78.1 176.8,84L182,84M-7,22.1L1,22.1C54.3,21.5 37.8,15.8 91.1,14.8C138,20 129.2,41.1 176,38.5L182,38.5M-7,64.9L-5.1,64.9C42.2,62.9 36.3,24.5 83.6,19.9C135.4,24.2 118.2,61.8 170.1,62.8L182,62.8M-7,43.1L-3.9,43.1C41.1,45 41.4,22.9 86.5,16.2C132.6,17.9 128.9,82 175,83.7L182,83.7M-7,36.7L-3.5,36.7C54,38.8 24.8,41.9 82.4,39.1C129.6,40.7 123.1,65.1 170.3,65.6L182,65.6M-7,64.7L1,64.7C59.9,63.3 30.9,18.5 89.8,18.9C141.4,22.4 128.2,79.3 179.7,82.5L182,82.5M-7,18L-3.1,18C41.5,22.5 39.9,63.1 84.5,62.7C132.6,63.1 123.9,64.7 172,66L182,66M-7,15.1L4.5,15.1C55.6,19 38,23.4 89,18.7C140.6,24.9 128.1,43.5 179.7,40.8L182,40.8M-7,84L-0.4,84C51.8,83.6 34,18 86.2,19.3C138.3,24.6 119.5,80.3 171.6,84.5L182,84.5M-7,41.2L-0.3,41.2C47.8,41.8 35.7,20.9 83.9,19.4C142.6,19.8 114.1,15.7 172.8,16.9L182,16.9M-7,84.4L4.6,84.4C61.2,83 31.7,88.6 88.4,89.5C135.1,84.7 128.3,43.4 175,44.1L182,44.1M-7,85.6L-5.7,85.6C41.4,78.8 35.4,41.2 82.5,40.2C129.1,42.1 123.1,40.2 169.6,37.6L182,37.6M-7,64.8L-1.5,64.8C54.2,63.9 31.6,76.8 87.4,80.9C145.7,74.8 119.1,61.8 177.4,64.3L182,64.3M-7,8.9L5.5,8.9C55.4,10.9 44.9,12.5 94.8,10.2C149.5,18.4 127.3,41 182,36.1L182,36.1M-7,44L1.2,44C57,43.7 30.9,38.8 86.7,38.9C142,40.8 121.7,23.3 177,19.4L182,19.4M-7,40.8L0.9,40.8C44.8,42.3 43.7,81.3 87.6,85.2C147.1,85.1 115.3,24.2 174.7,20.5L182,20.5M-7,83.5L-4.6,83.5C52.2,82.9 25.2,65 82,64.1C126.8,62.8 126.2,43.6 171,42.8L182,42.8M-7,38.6L0.9,38.6C46.7,38.1 43.9,60.6 89.8,63.7C139.2,63.4 126.8,83 176.2,84L182,84M-7,43.1L-0.4,43.1C49.5,42 33.2,44.2 83.1,41.4C133.8,43 121.6,43.8 172.3,40.7L182,40.7M-7,64.3L-2.4,64.3C43.9,63.5 41.7,62.7 88,64.1C141.3,67.1 120.2,39.8 173.6,39.1L182,39.1M-7,71.1L-2.5,71.1C52.6,69 27.3,64.2 82.5,64.7C133.1,64.8 123.6,93 174.2,94.4L182,94.4M-7,84.9L0.3,84.9C57.4,76.7 30.4,38.6 87.5,36.6C137.1,38.6 124,38.1 173.6,37.1L182,37.1M-7,84.9L6.9,84.9C60,84.1 41.7,20.3 94.8,19.7C154.3,20.4 120.9,18.5 180.3,15.8L182,15.8M-7,44.1L8,44.1C66.6,45.2 36.7,82 95.3,89.8C151.3,89.6 124.5,87.2 180.5,89.4L182,89.4M-7,45.5L3.3,45.5C59.2,44.5 36.6,77.8 92.5,83.7C149.5,76.1 118.6,62.3 175.5,64.9L182,64.9M-7,81.8L4.6,81.8C59.3,78.9 37.8,60.2 92.4,61.3C143.5,60.1 129.7,45.8 180.8,43.9L182,43.9M-7,38.6L1.4,38.6C60.5,37.2 30.4,62.5 89.5,62.5C137.2,61.3 127,84.6 174.7,86.4L182,86.4M-7,61.7L0.7,61.7C59.8,59.8 30,42.1 89.1,39.4C145.2,39.9 120.7,44.6 176.9,42.1L182,42.1M-7,83.8L6.1,83.8C55.1,79.2 39.4,24.8 88.4,18.9C134.7,20.9 131.3,62.6 177.6,63L182,63M-7,62.9L2.2,62.9C58.7,61.6 32.9,61.2 89.4,62.1C133.1,59.4 136.6,66 180.3,68.2L182,68.2M-7,20L-5.1,20C52.9,23.6 25.5,41.3 83.6,37.3C128.6,35.7 125.6,85.2 170.6,85.5L182,85.5M-7,44.2L-0.1,44.2C51.3,43.1 38.6,61.5 90,62.7C133.9,60.2 133.2,40.4 177.1,39L182,39M-7,43.8L-8.1,43.8C50.7,43.6 23.5,96 82.3,95.5C133.2,91.8 116.1,42.5 166.9,39.5L182,39.5M-7,65.5L-0.4,65.5C50.7,64.2 35,81.9 86.1,86.9C139.2,84.4 124.2,85 177.3,86.9L182,86.9M-7,37.9L-5.2,37.9C45,40.1 32,63.9 82.2,62.3C130.6,62.6 124.1,77.1 172.5,85.2L182,85.2M-7,16L-0.7,16C53.7,22.3 32,62.8 86.4,61.5C141.1,59.7 117.9,79.5 172.6,82.2L182,82.2M-7,64.5L9,64.5C58.3,63.5 45.9,61.1 95.2,61.4C148.2,61.8 128.5,80.8 181.5,86.3L182,86.3M-7,63.2L0.2,63.2C48.9,62.8 39.8,68.5 88.5,67.8C138.7,64.5 125.4,63.6 175.6,65.6L182,65.6M-7,84.1L1.2,84.1C46.2,83.4 42.4,84.3 87.4,86.6C136.5,80.8 125.5,42.1 174.6,41.3L182,41.3M-7,20.6L1.7,20.6C51.5,21.8 40.1,13.7 89.9,11.6C135.4,14.2 133.3,82.1 178.7,84.8L182,84.8M-7,16.2L5.3,16.2C52,23.3 48.5,20.7 95.1,12.5C149.5,14.5 123.2,63.9 177.7,61.8L182,61.8M-7,12.9L-2.8,12.9C53.7,15.3 29.1,37.5 85.6,37.1C138.3,40.3 121.5,77.9 174.2,81.6L182,81.6M-7,64.5L1.5,64.5C47.8,63 43,62.8 89.3,63.8C137.6,63.7 126.7,24.4 175,18.9L182,18.9M-7,64.5L3.5,64.5C47.2,63.5 45.8,23.7 89.5,17.1C133.2,21.4 130,60.3 173.7,63L182,63M-7,81.8L2.4,81.8C60.1,77.3 31.9,78.2 89.5,83C148.9,83.4 119.1,83.9 178.4,86L182,86M-7,13.9L5.1,13.9C51.7,20.6 44.9,43 91.6,41.9C146.4,43.5 126.5,44.3 181.4,45.4L182,45.4M-7,14.5L1.7,14.5C49.6,19.8 42.4,77.6 90.3,82.2C144.7,80.5 122,82.1 176.4,83.7L182,83.7M-7,14.6L-2.6,14.6C51.8,16.7 28.9,79.2 83.3,79.2C139.7,78 116.3,43.1 172.7,41.2L182,41.2M-7,18.8L5.1,18.8C60.1,26.3 34.5,72.8 89.4,81C133.4,79.4 134.4,20.7 178.4,20L182,20M-7,67.4L-4.4,67.4C43.1,64.7 33,20 80.4,20.8C137.5,22.9 110.3,59.1 167.4,60.8L182,60.8M-7,81.1L4.1,81.1C60.8,76.6 34.9,50.8 91.6,49.3C135.7,48.1 138.1,80.3 182.2,83.8L182,83.8M-7,45L1.1,45C51.9,45.8 33,76.6 83.8,79.7C141.7,77.4 113.9,59.6 171.7,62.1L182,62.1M-7,42.3L-0.7,42.3C54.7,42.7 27.7,84.6 83.2,84.3C142.4,81.6 113.9,44.1 173.2,43.4L182,43.4M-7,16.3L-1.5,16.3C51.7,21.8 32.3,13.1 85.4,12.2C139.4,19.4 118.5,25.2 172.6,17.4L182,17.4"/>
<path d="M-7,42.2L0,42.2C58.5,42.8 25.5,77.7 83.9,81.9C128.7,77.5 128.7,42.5 173.5,39.9L182,39.9M-7,21.4L7.1,21.4C66,24.1 32.5,20.9 91.4,16.9C136.3,21.2 137.6,18.9 182.6,13.2L182,13.2M-7,63.8L3.4,63.8C53.2,64 38.7,41.3 88.6,39.1C132.3,39.5 131.4,43.5 175.1,41.9L182,41.9M-7,39.8L3.9,39.8C56.6,39.3 39.6,81.5 92.3,84C150.6,77.2 120.3,26.4 178.6,20.4L182,20.4M-7,19.3L-0.6,19.3C47.8,17.9 39.4,42 87.8,41.2C141.3,41.8 123.3,76.8 176.9,80.9L182,80.9M-7,60.1L0.3,60.1C59.5,56.5 28.1,60.7 87.3,61.6C132.9,59.5 129.2,39.9 174.8,39.6L182,39.6M-7,65.9L-1.7,65.9C42.8,64.7 44.9,42.2 89.4,41.7C137.8,42.2 123.3,19.1 171.7,16.7L182,16.7M-7,85.1L0.3,85.1C48.7,83.1 40.3,19 88.8,19.8C146.1,24.4 116.2,60.1 173.5,62.5L182,62.5M-7,84.2L2.9,84.2C51.3,83.3 42.6,24.3 91,20.8C136.7,24.1 129.4,20.2 175.2,14.1L182,14.1M-7,85.1L3.1,85.1C48.2,84.5 46.3,20 91.4,19.7C141.6,21.4 131.2,60.5 181.5,61.8L182,61.8M-7,16.9L-2,16.9C47.6,24.7 37.2,67.2 86.8,67.1C141.1,68 118,47.7 172.3,46.5L182,46.5M-7,33.6L-1.6,33.6C46.6,34.4 39.2,20.4 87.5,18.4C142,23.5 120.7,73 175.2,76.2L182,76.2M-7,82.1L-2.6,82.1C45.7,81.7 36.9,24 85.2,19C133,19.2 127.2,82.9 175,83.2L182,83.2M-7,82.1L-8.8,82.1C42.8,80.8 30.5,82.7 82.1,86.1C132.4,85.2 119.7,16.6 170,17.4L182,17.4M-7,80.4L9.5,80.4C67.1,78.9 33.9,84.1 91.5,84.7C145.8,82.2 124.7,41.1 179,41.4L182,41.4M-7,63.4L4.5,63.4C50.9,62.8 47.9,42.8 94.4,43.1C143.3,45.2 130.9,18.4 179.8,16L182,16M-7,16.7L-5.8,16.7C42.7,16.3 33.9,81 82.4,82.1C139,76.7 111.3,25.1 167.9,19.3L182,19.3M-7,79.3L3.6,79.3C58.5,79.6 32.7,62.1 87.6,63.7C134.2,62.4 128.4,40.7 175,40L182,40M-7,43.6L-2.6,43.6C54,46.3 30.2,71.5 86.8,78.7C136.9,75.9 123.4,25.7 173.5,21.8L182,21.8M-7,62.8L0.8,62.8C52,63.3 34.6,42.2 85.8,41.7C131,41.7 132.6,62.9 177.8,63.7L182,63.7M-7,88.6L0.5,88.6C58.9,85.7 30,80.8 88.3,86C140.3,86.1 123.6,44.6 175.5,42.6L182,42.6M-7,18.8L-2.3,18.8C48.4,19.1 32.1,15.8 82.8,14.2C131.3,13.6 126.5,38.1 175.1,37.4L182,37.4M-7,15.9L-4.7,15.9C51.3,23.2 26.5,77.6 82.5,83.4C139.3,81.1 113.7,82.6 170.5,86.4L182,86.4M-7,19.2L0.8,19.2C51.6,25.1 35.8,41.2 86.6,39.2C134.8,41.6 122,42.9 170.2,40.1L182,40.1M-7,21.2L1.3,21.2C46.4,26.3 40.5,40.5 85.7,37.4C134.8,40.6 127,39.6 176.1,39L182,39M-7,20.7L-3.5,20.7C44.1,23.7 34.8,38.7 82.4,37.7C136.3,41.6 116.3,60 170.3,62.3L182,62.3M-7,84.4L0.7,84.4C47.5,80.4 42.1,42 88.9,42.3C146.1,43.3 118.4,62.3 175.6,63L182,63M-7,17L3.1,17C59.8,22.1 28.8,19 85.5,15.2C137,18.2 127.9,42 179.3,40.5L182,40.5M-7,17.9L-3.3,17.9C44.7,19.3 36.2,81.1 84.3,82.8C137.9,82.3 118.1,87 171.8,85.1L182,85.1M-7,84.1L-2.6,84.1C55.4,79.6 24.1,66.7 82.1,67.7C127.5,63.5 127.4,60.9 172.9,64.2L182,64.2M-7,38.1L-2.8,38.1C46.1,38.2 32.9,38.7 81.8,37.3C135.2,36.5 120.2,17.6 173.5,16.2L182,16.2M-7,20.5L5.3,20.5C51.4,27.2 47.7,39.7 93.8,39.5C152.9,40.1 116.6,21.2 175.6,22.5L182,22.5M-7,62.6L-2.9,62.6C48.1,65.1 37.1,66.3 88.1,66.2C133.4,64.4 128.5,84.1 173.8,90.3L182,90.3M-7,21.6L-4.1,21.6C41.9,21.9 38.5,19.1 84.5,14.6C143.5,18.3 111.9,60.5 171,61.6L182,61.6M-7,16L0.7,16C59,19.5 27.7,63.1 86,64.5C134.9,65.3 124.7,64.4 173.7,65.1L182,65.1M-7,22.3L0.5,22.3C59.4,28.3 27.1,19.4 86,16.4C131.7,23.5 127.6,58.7 173.3,58.8L182,58.8M-7,66.4L7.1,66.4C53.7,64.2 48.1,25.2 94.6,16.6C151.7,18.9 126.8,17.1 183.9,15.3L182,15.3M-7,83.8L-1,83.8C46,82.6 42,43.9 89,43.6C146.6,44.9 116.3,81.1 173.9,85L182,85M-7,18.7L-5.8,18.7C48,24.6 28.5,23.6 82.4,16.2C133.2,22.1 117.6,78.3 168.5,81.1L182,81.1M-7,84.9L2.9,84.9C48.9,80.7 46,65.2 92,66.5C145.5,65.6 124.6,18.2 178.1,14.4L182,14.4M-7,83.5L-1.4,83.5C48.6,83.2 38.8,85.7 88.8,86.4C138.5,79.1 125.6,80.9 175.3,88.3L182,88.3M-7,21.1L-0.7,21.1C48.9,21.4 31.8,90.9 81.3,91.1C140.2,83.7 110.4,77.4 169.3,84.6L182,84.6M-7,39.8L0.6,39.8C50.7,41.3 37.9,43.1 88,41.2C132.9,41.8 130,62.8 174.9,61.3L182,61.3M-7,87L-7,87C44.8,83 26.3,64.9 78,66.8C125.3,63.4 121,40.6 168.2,39.5L182,39.5M-7,82.9L2,82.9C58.3,81.9 35.1,79.7 91.4,81.6C138.1,77.8 131.8,77.2 178.6,85.5L182,85.5M-7,84.3L1.3,84.3C53.8,82.1 36.4,20.5 88.8,20C146.7,25.5 120.3,22.5 178.2,18L182,18M-7,87.1L1.2,87.1C59.9,84.2 31.7,24.2 90.4,21.6C146.4,26.4 124.5,62.3 180.5,63.7L182,63.7M-7,18.6L-1.8,18.6C46.1,24.7 35.5,24.7 83.4,18.4C142.4,23.4 113.9,39.9 173,36.1L182,36.1M-7,41.9L0.8,41.9C45.6,42.2 44.9,19.6 89.8,19.6C138.6,19.3 124.6,15.7 173.4,15.4L182,15.4M-7,84.1L-4,84.1C40,85.4 38.8,87.9 82.8,85.8C137.9,82.1 114.7,45.6 169.8,43.6L182,43.6M-7,87.3L-1.7,87.3C57.6,82.6 26.1,81.4 85.3,85.4C130.7,82.7 126.3,22.6 171.7,20.3L182,20.3M-7,18.7L5.6,18.7C53.4,22.5 39.8,40.1 87.7,39.3C133.7,40.2 129.3,79.6 175.3,86L182,86M-7,65.3L-3.4,65.3C51.1,64 33,63.6 87.6,63.5C133,59.4 132.1,59.8 177.5,62.1L182,62.1M-7,39.1L1.6,39.1C50,39.2 40,64.4 88.4,64.1C147.8,62.3 114.5,60.8 173.8,62.2L182,62.2M-7,41.4L2.4,41.4C46.9,40.9 43.2,61.9 87.7,61.4C136.3,59.2 126.9,24.5 175.4,18.7L182,18.7M-7,64.6L2.2,64.6C46.6,59.4 44.9,45.4 89.2,42.9C135.5,42.4 134.2,23.8 180.5,19.6L182,19.6M-7,43.8L0.3,43.8C51.5,45.6 36.2,83.9 87.4,85.5C136.7,77.8 124.9,26 174.3,21L182,21M-7,21.4L-0,21.4C46,22.2 42.1,16.8 88.1,15.6C134.4,15.6 130.2,15.9 176.4,15L182,15M-7,84.2L0.8,84.2C53.1,79.6 35.8,84.7 88.1,90.2C134.1,81.5 130,21.4 176.1,14.7L182,14.7M-7,20.1L-0.2,20.1C56.8,28.8 29.2,59 86.2,63.8C133.2,59.5 124.5,42.9 171.5,41.6L182,41.6"/>
<path d="M-7,66.8L0.6,66.8C49.8,64.1 39.5,41.6 88.7,41.5C137.9,45 125.1,38.2 174.3,37.8L182,37.8M-7,63.7L-2.6,63.7C43,64.6 40,40.8 85.7,41C144,43 113.4,57.4 171.8,59L182,59M-7,41.1L-2,41.1C45.6,40.2 36.8,37.9 84.5,37.6C133.3,41 125.9,20.9 174.7,15.5L182,15.5M-7,18L-1.6,18C47.4,20.3 37.3,15.9 86.4,13.1C138.9,16.4 122.7,59.4 175.2,59.4L182,59.4M-7,79.6L7.9,79.6C57.8,75.7 46.5,60.6 96.4,66.3C146.7,65 131.1,21.8 181.4,21.3L182,21.3M-7,85.2L1,85.2C54.2,77.8 35.6,48 88.8,44.7C140.9,43.2 124.6,81.3 176.7,81.5L182,81.5M-7,63.7L-2.4,63.7C50.9,60.8 32.4,25.2 85.7,18.3C134.3,23.3 124.4,20.4 173,15.7L182,15.7M-7,36.6L3.5,36.6C52.8,37.7 42.7,82.5 92,84.7C146.5,78.4 123.5,80.6 178,88.6L182,88.6M-7,28.9L-1.6,28.9C55.2,34 31.3,46.2 88.1,46.2C136.1,45.9 121.4,20.8 169.3,16.1L182,16.1M-7,18.1L-1.6,18.1C45.6,25.9 40.8,77.7 88,82.4C139.7,83 121.7,46.7 173.3,45.8L182,45.8M-7,45.3L2.1,45.3C48.1,45.7 42.2,25.2 88.2,18.8C144.1,26.9 119.1,58.7 175,60.8L182,60.8M-7,83.3L4.8,83.3C63.4,79 28.8,64 87.4,66C139.7,62 123.3,42.6 175.6,40L182,40M-7,43L-1.5,43C50.6,43.9 34.2,54.3 86.4,57.1C136.7,57.1 121.1,54.3 171.5,54.5L182,54.5M-7,40.5L3.1,40.5C54.4,40.1 39.8,40.9 91.1,39.8C144.3,39.1 124.3,38.3 177.4,35.7L182,35.7M-7,18.3L3.3,18.3C54.6,26.6 38.9,40.6 90.2,36.9C137.3,37 131.1,18.5 178.2,16.2L182,16.2M-7,63.2L-5.1,63.2C45.8,61 31.9,78.1 82.8,86.5C128.3,85.2 126.7,40.5 172.2,41.4L182,41.4M-7,69.8L-7.7,69.8C37.5,68.2 35.9,70.2 81.1,67.1C139.2,66.4 112.2,85.1 170.3,85.4L182,85.4M-7,80.1L-1.1,80.1C45.5,81 40.9,41.5 87.6,42C137.3,44.2 122.5,80.8 172.2,82.1L182,82.1M-7,41.8L-1.7,41.8C43.8,43.1 39.5,62 85,64.5C138.5,62.9 115.9,17 169.3,18.2L182,18.2M-7,62.4L5.7,62.4C59.1,59.1 40.6,78.6 94,86C149,78.3 125.9,41.9 181,42.9L182,42.9M-7,40.6L1.3,40.6C50,44.3 36,21.7 84.7,14.9C138,20.9 120.2,78.4 173.5,83.9L182,83.9M-7,84.4L2,84.4C59.1,76.3 30.1,25.2 87.2,19.5C134.4,23.5 131.4,17.3 178.5,13.3L182,13.3M-7,92.3L-5.5,92.3C48.5,89.3 27.3,19 81.3,17.7C129.7,20.8 122.4,10.5 170.7,8.3L182,8.3M-7,42.9L1.5,42.9C56.1,42.4 31.5,20.8 86.1,16.4C137.4,24.3 123.4,76.9 174.7,82.7L182,82.7M-7,39.6L-0.1,39.6C45.3,40.1 39.3,15 84.7,12.7C141.3,17.7 119.6,16.3 176.2,8.8L182,8.8M-7,67.5L-2.9,67.5C53.1,64.2 30,28 86,22.3C129.9,27.7 124.2,42.5 168,38.9L182,38.9M-7,39L1.7,39C52.9,41.4 37.8,25.5 89,19C146,22.6 119.3,22.2 176.3,14.3L182,14.3M-7,62.6L6.7,62.6C62.7,59.5 36.8,41.4 92.8,41.2C148.9,42.2 122.3,44 178.5,43.9L182,43.9M-7,45.9L1.2,45.9C58.8,47.1 28.8,59.9 86.4,63.8C144.8,60.2 120,61.8 178.4,64.7L182,64.7M-7,20.3L-1.9,20.3C49.5,22.3 33,60 84.3,60.3C137.3,59.1 122.5,41.8 175.5,40.5L182,40.5M-7,82L-1,82C49.5,80.3 37,63.9 87.5,66.2C135.3,62.9 125.5,44.6 173.3,44.4L182,44.4M-7,17.1L-10,17.1C49,20.6 21.6,73.8 80.6,79.8C131.6,76.8 116,44.9 167,41.5L182,41.5M-7,19.2L-5.3,19.2C47.6,19 28,58.4 81,59.1C129.3,59.5 118.1,84.1 166.4,84.9L182,84.9M-7,14.8L1.6,14.8C59,17.4 31.7,60.8 89.1,62.1C148.2,62.8 119.1,83.4 178.2,87.7L182,87.7M-7,21.5L-1.5,21.5C46.4,27 37.9,75.4 85.9,80.9C139.2,78.3 117,23.5 170.3,20.8L182,20.8M-7,41.6L2.8,41.6C49,41.2 44.9,15.7 91.1,15.8C141.9,18.1 129.6,79.4 180.4,81L182,81M-7,21.3L-0.9,21.3C49.2,24.8 35.4,38.2 85.6,37.1C136.3,39.4 125.6,40.4 176.3,39.5L182,39.5M-7,65.6L-0.5,65.6C48,65.4 36.6,22.1 85,20.2C139.4,24.3 116.5,61.1 170.9,64.3L182,64.3M-7,85.4L0.2,85.4C53.2,81.9 38.8,44.8 91.8,44.6C140.2,45.8 127.8,20 176.1,16.2L182,16.2M-7,84.9L2.1,84.9C56.3,82.7 38.4,44.3 92.5,41C147.3,43 121.2,77.4 175.9,84.9L182,84.9M-7,64.5L0.3,64.5C49.8,63.2 41.2,83 90.7,83.2C138.5,79.9 127.5,36.9 175.4,35.8L182,35.8M-7,66.5L-0.3,66.5C45.1,65.1 42.2,83.8 87.6,86.9C134,82 126.5,23 172.9,18.2L182,18.2M-7,85.4L1.3,85.4C51.8,79 39.7,23.7 90.2,18.6C147.1,18.4 121.9,78.2 178.8,81.3L182,81.3M-7,89L-2.2,89C41.9,90 43,16.7 87.1,19.1C136.3,21.1 125.9,77.5 175.1,81.1L182,81.1M-7,41.4L2.3,41.4C50.6,45.2 43,23 91.3,20.9C141.2,22.1 129.3,61.5 179.1,62.6L182,62.6M-7,87L-0.8,87C53.6,89.9 32.5,85.1 86.8,86C133.6,83.1 126.9,23.2 173.7,21.1L182,21.1M-7,79.3L-6.8,79.3C41.4,73.5 30.9,47.7 79.1,44.2C134.1,43.2 113.8,83 168.8,89.1L182,89.1M-7,41.4L-1.5,41.4C52.9,43.2 32.4,62.8 86.8,62.4C142.1,62.3 116.3,82.1 171.6,83.4L182,83.4M-7,18.2L-1.2,18.2C49.7,20.2 37.4,59.9 88.3,63.4C145.2,62 119.5,42.6 176.4,41.5L182,41.5M-7,43.7L-5.3,43.7C48.9,44.2 26.1,40.7 80.3,37.7C131.6,36.6 118.2,84.3 169.5,85.1L182,85.1M-7,42.9L9.4,42.9C67.1,41.9 34.9,76.6 92.6,83.4C136.5,82.3 137.4,22.7 181.3,22.8L182,22.8M-7,19.2L5.1,19.2C63.6,21.8 35.3,37.2 93.9,34.5C149.8,35.5 125.9,82.2 181.8,86.3L182,86.3M-7,61L-0.8,61C49.8,60.2 32.8,83.6 83.4,86C135.8,83.1 121,63.7 173.4,66.3L182,66.3M-7,40.1L1,40.1C56.2,43.1 31.2,21.4 86.5,17.6C139.1,20.8 122.8,37.4 175.4,36.9L182,36.9M-7,16.8L0.1,16.8C51.3,24 34.8,62.5 86,64.4C134.3,63.4 127.1,63.3 175.4,63.3L182,63.3M-7,44.3L1.9,44.3C59.6,46.3 29.2,67.8 87,68.9C141.6,66.9 121.9,84.1 176.6,88.7L182,88.7M-7,38L-4.5,38C45.8,41.1 33.7,41.6 84,39.2C129.8,39 125.3,41.9 171,40.3L182,40.3M-7,19.8L-0.1,19.8C46.3,20.8 37.8,39.5 84.3,40.4C130.4,42.4 129.1,87.4 175.3,88.9L182,88.9M-7,85.7L-0.9,85.7C49.4,79.9 34.1,79.3 84.4,85C133.7,83.2 124.6,86 173.9,88L182,88M-7,19.2L3.4,19.2C55.8,20.9 39.9,40.4 92.3,40.7C137.3,41.1 131.8,83.9 176.8,83.4L182,83.4"/>
<path d="M-7,62.7L-9.8,62.7C36.5,59 33.2,79.6 79.5,85.6C132.6,77.9 114.3,63 167.5,68.3L182,68.3M-7,42.5L-5.5,42.5C45.1,45.2 32.5,22.3 83,18.2C132.8,17 119.9,15.8 169.6,16.2L182,16.2M-7,65.5L0.7,65.5C58.2,62.4 29,24.3 86.6,19.8C141.9,21.2 119.3,17.2 174.6,15.5L182,15.5M-7,59.9L1.1,59.9C48.7,58.8 40,19.9 87.7,15.8C138.6,19.1 122.9,40 173.9,39.6L182,39.6M-7,40.7L-1,40.7C56.6,42.5 31.1,20.2 88.7,16.4C133.3,23.7 129.1,20 173.7,12.7L182,12.7M-7,39.1L4,39.1C56.7,37 35.9,63.7 88.7,62.9C145.8,59.2 121.2,45.1 178.2,44.9L182,44.9M-7,17.3L0.9,17.3C50.3,18.6 38.5,17.5 87.8,16.9C142.6,21.6 121.8,36.9 176.6,36.7L182,36.7M-7,20.8L2.8,20.8C54.9,23.1 34.9,79 87,82.8C146.3,81.2 117.1,23.7 176.4,20L182,20M-7,23.3L-2.9,23.3C43.6,27.9 38.6,60.6 85.2,62.7C137.2,59.7 120.4,65 172.4,63.7L182,63.7M-7,85.4L-4,85.4C42.4,81.3 40,82.8 86.4,86.6C131.5,79.3 125.4,61.3 170.5,61.3L182,61.3M-7,87.5L1.8,87.5C60.9,84.4 29.7,48.2 88.7,45.6C145,45.6 118,19.4 174.3,15.6L182,15.6M-7,20.3L3.3,20.3C50.5,25 44.5,59.9 91.7,59.4C143.6,57.7 123.6,78.5 175.5,84.4L182,84.4M-7,16.3L-2.4,16.3C46.8,20.9 33.6,18.6 82.8,15.1C132.8,18.9 119.6,40 169.6,37.8L182,37.8M-7,18L-3,18C43.1,20 42.7,38 88.8,37.5C141.5,38.6 118.5,82.6 171.2,83.7L182,83.7M-7,18.9L4.3,18.9C57.9,22.3 36.3,43.1 89.9,40.5C140.5,40.2 126.2,62.4 176.8,62.9L182,62.9M-7,42L-1.7,42C56.2,43 25.2,43.3 83,42C130.4,40.9 125.5,40.9 172.9,40.1L182,40.1M-7,62.6L4.2,62.6C59.2,62.2 33.8,61.1 88.9,60.5C137.4,60.3 128.2,19.9 176.7,16.7L182,16.7M-7,66.5L3.2,66.5C55.3,64.5 40.5,43.5 92.6,40.9C145.2,39.6 123.1,58.4 175.7,63.6L182,63.6M-7,40.7L-1.3,40.7C52.7,43 33.5,41.1 87.5,39C136.6,39.9 126.4,17.7 175.6,16.1L182,16.1M-7,83.4L7.1,83.4C55.7,79.6 42.9,78.8 91.5,86.8C140.1,85.7 131.7,65.9 180.3,65.9L182,65.9M-7,79L2.5,79C55.5,76.3 41.3,62 94.3,64.3C150.6,63.2 123.9,82.8 180.1,84.8L182,84.8M-7,81.4L-1.8,81.4C54.7,74.6 32.2,82.9 88.8,87.6C136.6,82.2 128.1,61.4 175.9,64L182,64M-7,39.6L1.7,39.6C51.6,44.7 39.4,77 89.3,84.6C136.5,78.7 131.4,20 178.6,14.1L182,14.1M-7,40.1L-1.3,40.1C42.9,41 44.2,80.7 88.4,84.3C145.5,82.2 115.1,20.7 172.2,18.1L182,18.1M-7,15.7L-0.9,15.7C43.3,17.7 43,63.7 87.2,62.7C141.6,63.9 120.8,40 175.3,40.6L182,40.6M-7,82.5L1.2,82.5C53.3,78.7 37.3,43.4 89.4,42.2C145.8,42.8 120.5,38.4 177,38.1L182,38.1M-7,17.1L-0.4,17.1C47.7,22.8 40.6,25.7 88.7,19.9C137.9,23.8 119.9,37.3 169.2,36.6L182,36.6M-7,85.7L0.2,85.7C49.8,83 37.9,47.3 87.5,44.9C143.6,44.4 116.9,58.8 173,60.7L182,60.7M-7,40.4L-0.6,40.4C56.1,42.6 28.9,61.2 85.5,63.4C130,62 130.7,19.9 175.1,16.5L182,16.5M-7,83.4L-2,83.4C44.9,76 36.7,76.2 83.6,83.9C129.8,77.1 126.4,65.6 172.6,66.6L182,66.6M-7,19.1L-2.4,19.1C42.5,27 38.7,72.8 83.6,79.9C129.5,73.2 125.8,62.6 171.7,66.6L182,66.6M-7,39.2L-1.6,39.2C55.2,39.5 28.6,81.6 85.5,83C142.4,76.8 115.7,64.6 172.6,65.5L182,65.5M-7,63.9L4.6,63.9C54.6,62.9 40,65.3 90,65.3C136.9,61.5 130.9,24.2 177.7,18.6L182,18.6M-7,65.4L-1.6,65.4C42.6,62.6 43.3,18.2 87.4,15.7C139.6,15.7 121.3,64.2 173.5,65L182,65M-7,63.8L2.4,63.8C60,64 33.7,41.4 91.3,41.1C146.3,40.7 121,64.5 176,65.6L182,65.6M-7,41.2L-5.2,41.2C52.3,41.3 21.8,61.9 79.3,63.8C133.2,63.4 114.8,19.9 168.6,18.6L182,18.6M-7,79L-8.5,79C50,78.3 20.5,21.6 79,19C129.4,22 114.5,37.9 165,35.7L182,35.7M-7,42.5L-1.8,42.5C52.8,41.4 29.9,38 84.5,37.5C136.8,41 119.8,39.2 172.1,38L182,38M-7,37.6L0,37.6C58.8,40.8 31.4,21.7 90.2,18.8C145.5,22.1 122,80.4 177.2,82.1L182,82.1M-7,36.9L-1.5,36.9C49.2,40.6 37.7,59.2 88.4,63C133.3,62.6 133,83.5 177.9,84.5L182,84.5M-7,64L0.4,64C47.3,61.7 42.9,79.9 89.8,81.2C133.8,75.4 135.2,24.9 179.2,20.2L182,20.2M-7,20.5L4.9,20.5C52.4,23.1 42.3,18.3 89.9,15.9C143.2,21.1 124.2,23 177.5,17.6L182,17.6M-7,42L5.9,42C50.5,41.7 46.4,43 91.1,40.1C137.1,42.5 134.4,41.1 180.4,41.2L182,41.2M-7,60.8L-0.3,60.8C45.8,60.4 39,58.3 85.1,60.7C129.8,61.1 127.8,78.8 172.5,86L182,86M-7,18.6L-2.5,18.6C43.5,22.9 40.4,18.1 86.5,12.7C143.6,20.4 116.7,20.3 173.8,13.1L182,13.1M-7,22.1L5.6,22.1C51,27.7 45.8,76.7 91.2,80.7C143.3,79.4 128,69 180.1,69.8L182,69.8M-7,47.3L-1.9,47.3C47.5,46.8 35.4,26.3 84.8,24.3C132.6,27.5 124.4,25.7 172.1,20.1L182,20.1M-7,82L-2.6,82C42.1,79.2 40.2,43.4 85,43.2C142.2,42.5 112.9,22.3 170.1,18.5L182,18.5M-7,63.5L1.3,63.5C47.9,62.5 39.2,63.7 85.8,65C142.1,61.9 120.7,21.8 177,18.6L182,18.6M-7,82.2L-3.2,82.2C42.6,82.8 39.7,19.6 85.4,17.7C130.5,19.3 127.3,59.3 172.4,62.2L182,62.2M-7,19L-2.2,19C48.6,24.9 34.6,57.7 85.4,59.9C140.2,60.2 118.7,64.1 173.6,64L182,64M-7,43.5L3.4,43.5C60.2,44.5 32.5,76.6 89.3,81.5C137.7,76.5 127.3,82.7 175.6,87.9L182,87.9M-7,88.3L-2.3,88.3C52.1,87.3 31.8,63.7 86.2,65.6C142.8,66.7 118.3,19.3 174.9,18.2L182,18.2M-7,63.8L2.2,63.8C56.1,66.1 37.1,83.5 91,82.4C146.8,83.2 120.6,82.4 176.4,85.4L182,85.4M-7,79.2L-4.3,79.2C49.5,73.1 30.6,63.3 84.4,64.4C131.1,63 122.8,42.4 169.4,41.1L182,41.1M-7,84.9L-0.1,84.9C59.2,82 25.7,85.6 85,88.3C130.6,83.8 127.2,42.6 172.8,42.5L182,42.5M-7,61.6L4.8,61.6C58.3,60.7 38.7,63.2 92.2,65.3C137.1,61.8 134.4,44.4 179.3,41.4L182,41.4M-7,60.1L0.6,60.1C49.8,57.9 34.4,64.6 83.7,66.1C141,65.3 116.9,47.2 174.2,46.4L182,46.4M-7,87.6L-3.1,87.6C42.3,80.4 39.6,62 85,65.5C142.6,64.4 114.4,59.9 172.1,61.8L182,61.8M-7,40.9L-6.6,40.9C42.3,42.7 33.9,26.5 82.8,19.3C137.5,26.5 114.1,61.7 168.8,62.7L182,62.7"/>
<path d="M-7,63.8L3.6,63.8C52.8,64.1 43.5,43.3 92.8,41.8C140.7,43 129.2,25.2 177.1,18.4L182,18.4M-7,87.5L-1.9,87.5C43.7,86.3 41.9,16.1 87.5,17C133,18.6 125.5,41.5 171.1,38.9L182,38.9M-7,22.3L-0.2,22.3C59,24.2 27.5,80.1 86.7,81.2C136.2,77.3 126,22.5 175.5,19.3L182,19.3M-7,20.1L-0.2,20.1C49.2,26.4 38,22.1 87.3,15.2C135.1,19.8 127.7,17.8 175.6,17L182,17M-7,37.5L-0.6,37.5C49.8,39.1 36.3,74 86.7,82.2C138.2,83.1 122,91.4 173.5,91.1L182,91.1M-7,15.7L-3.7,15.7C55,15.8 24.3,59.1 83,61.9C141.1,61.4 109.6,60.1 167.7,62.8L182,62.8M-7,38.5L-5.7,38.5C52.4,38.8 27.1,61.3 85.2,63.9C139.6,62.7 117.4,77 171.9,83.2L182,83.2M-7,59.2L1.3,59.2C55.5,59.3 34.6,41.6 88.8,41.9C146.3,43.1 119.5,59.3 177,61.9L182,61.9M-7,85.5L0.2,85.5C53.7,82.4 34.4,44.4 87.8,41.8C137.9,40.8 124.7,83.5 174.8,85L182,85M-7,35.9L-2.1,35.9C45.4,37.4 39.7,79 87.2,83.6C131.6,74.9 129,61.5 173.3,65.2L182,65.2M-7,22.3L-9.4,22.3C49.4,23.5 19.6,36.5 78.4,36.9C131.9,38.6 109.1,20.7 162.7,16.8L182,16.8M-7,83.6L-5.2,83.6C50.1,78 29.4,42.4 84.7,42C130.9,41.2 125.1,41.5 171.3,40.4L182,40.4M-7,13.3L1,13.3C58,21.8 32.6,58.1 89.5,61C144,61.2 117.6,40.6 172.1,37.9L182,37.9M-7,85.3L1.7,85.3C61.1,82.4 29.2,64.8 88.6,67C140.9,66.1 121.8,81.3 174.1,86.2L182,86.2M-7,87L-3.4,87C51.1,81.7 29.9,44.7 84.4,43.7C129.6,43.2 126.2,40.7 171.4,40.7L182,40.7M-7,87.2L11,87.2C65.4,80.2 45.3,25.5 99.6,18.9C157.1,23.4 126.8,20.6 184.4,16.1L182,16.1M-7,16.7L1.7,16.7C56.2,19.1 35.9,61.5 90.5,61.6C143.1,60.6 126.4,23.5 179,18.1L182,18.1M-7,64.8L1.6,64.8C47.5,61.7 42.6,65.7 88.6,63.8C138.8,64.7 124.3,84 174.5,84.5L182,84.5M-7,39.4L0.7,39.4C50.2,41.2 38.8,24 88.2,20.8C138.8,26.1 125.8,36 176.4,34L182,34M-7,45L3.3,45C57.6,43.6 36.9,20 91.3,19.3C135.7,19.6 130.7,77.7 175.2,79.7L182,79.7M-7,37.1L1.8,37.1C48.3,35.5 45.4,47.7 91.9,47.6C140.6,48.9 127.1,40.9 175.8,39.1L182,39.1M-7,62.9L-2.4,62.9C55.6,61.2 26.9,62.4 84.9,64.9C136.4,62.7 121.8,62.9 173.3,65.5L182,65.5M-7,85.7L-0.8,85.7C46.2,81.3 41.6,62.3 88.6,63.4C144.3,62.8 120.2,61.5 175.9,62.3L182,62.3M-7,88.3L6.2,88.3C56.4,83.4 41.1,44.9 91.3,42C147.6,44.3 122.1,43.5 178.4,40.4L182,40.4M-7,84L0.6,84C47.1,79 41.7,43.6 88.2,43.9C144,45.8 118.5,60.2 174.3,61.1L182,61.1M-7,68.6L2.7,68.6C47.9,63.8 44.4,71.2 89.6,76.9C137.6,71.8 131.1,86.5 179.1,92L182,92M-7,61.3L-3.1,61.3C41.6,61.6 39.9,39.9 84.6,39.4C139.7,40.7 119.3,59.4 174.5,62.1L182,62.1M-7,37.5L-1.2,37.5C42.6,35.1 39.3,17.2 83.1,18C137.3,23.4 119.5,39.1 173.6,37.5L182,37.5M-7,40.6L-4.4,40.6C44.9,41.7 31.5,42.7 80.8,40.5C137.5,42.7 115,79.9 171.7,85.1L182,85.1M-7,20.6L7.5,20.6C57.8,24.6 45.4,23.2 95.7,17.7C148,22.5 128.5,20.2 180.8,15.3L182,15.3M-7,42L4.1,42C60,42 34.5,77.5 90.4,85.4C144.6,83.4 123.8,82 178,86.6L182,86.6M-7,43L-3.5,43C48.8,45.6 34.6,41.5 86.9,41.7C135.3,44.3 119.8,59.8 168.2,61.1L182,61.1M-7,65.1L2.2,65.1C54.3,59.8 41.9,62.3 94,64.1C148.4,61.3 122.9,79 177.4,85.8L182,85.8M-7,65.1L-1.8,65.1C57.6,63.6 26,82.5 85.4,85C139.1,80.5 119.5,45.3 173.2,45.5L182,45.5M-7,65.5L2.4,65.5C59.1,61.5 31.5,42.1 88.2,39.7C135,40.6 126.5,63.4 173.3,64.3L182,64.3M-7,40.1L-6.8,40.1C49.2,43.6 25.8,81.6 81.7,86C125.9,83.2 123.3,21.2 167.5,21.1L182,21.1M-7,82.2L3.8,82.2C49.9,81.3 40.8,65.6 86.9,65.4C142,63.5 119.6,63 174.7,63.7L182,63.7M-7,40.1L2.6,40.1C53.9,41 36,80.9 87.2,83.2C131.4,77.6 135.2,62.5 179.3,65.1L182,65.1M-7,61.7L1.3,61.7C58.8,61.4 31.6,47.7 89.1,46.7C148.3,46.3 116.5,44.4 175.8,42L182,42M-7,40.7L4.6,40.7C53.4,41.1 40,60.5 88.7,61.3C141.1,59.5 124.6,81.9 177,82.9L182,82.9M-7,38.5L-3,38.5C49.6,41.8 30.5,76.6 83,82.7C133.2,77.6 122.2,59.9 172.4,62L182,62M-7,21.1L-0.7,21.1C47.8,26.4 38.7,18.4 87.2,15.8C142.9,22.7 117.1,22.3 172.8,16.7L182,16.7M-7,39.8L-2.3,39.8C47.5,39.7 37,63 86.8,63.8C141.4,64 124.1,45.2 178.7,42L182,42M-7,18.3L-3.7,18.3C41.8,22.9 39.4,43.3 84.8,41.4C140.2,43.3 115,24 170.4,18.4L182,18.4M-7,61.9L-1.4,61.9C55,60.5 30.7,22.1 87.1,18.4C144.8,19.2 117.2,63.4 175,62L182,62M-7,86.9L0.3,86.9C49.7,79.6 39.6,40.2 89.1,40.2C137.2,42.1 127.4,58.4 175.5,61.5L182,61.5M-7,65.3L6.2,65.3C52.7,63.6 48.7,82.3 95.1,84.1C148.2,77.4 128.3,25.9 181.4,18.5L182,18.5M-7,67.2L3.1,67.2C61.7,65 30.4,62.7 89,65.6C148,64 118.6,82.1 177.5,83.9L182,83.9M-7,59.5L-5.3,59.5C47.8,58.9 32,43.1 85.1,42.4C131.6,43.6 124.7,75.9 171.3,82.3L182,82.3M-7,39.7L-2.3,39.7C52.5,42.1 25.4,42.1 80.2,41.8C132.5,44.2 119.1,77.4 171.4,79.6L182,79.6M-7,87.1L-4.6,87.1C51.7,82.1 27.8,44.7 84.1,43.6C131.8,42.6 124,42.2 171.7,41.7L182,41.7M-7,37.9L-3.5,37.9C50,37.8 33.3,61.1 86.9,61.5C133.1,59.5 127.8,59.2 174,62.7L182,62.7M-7,85.4L-0.2,85.4C48.8,81.1 38.9,84.2 87.9,85.9C145.4,78.5 117.7,63.2 175.2,65.3L182,65.3M-7,69.9L-3,69.9C51,69.9 29.2,47 83.2,44.3C133.2,44 119.6,49.1 169.7,48.4L182,48.4M-7,41L-1.3,41C44.8,42.4 39.3,59.5 85.4,61.2C133.6,61.9 125.6,84 173.8,88.1L182,88.1M-7,20.4L3.5,20.4C56.6,21.3 34.5,60.9 87.6,61.4C141.6,60.7 124.8,62.3 178.8,63.5L182,63.5M-7,44.5L6.7,44.5C58.7,45 40.1,64.1 92.1,65.2C149.6,64.3 123.5,76.3 180.9,77.1L182,77.1M-7,62.4L0.3,62.4C57.2,62.3 31.2,41.9 88,41.1C140.3,41.3 125.3,40.8 177.6,40.5L182,40.5M-7,40.1L0.1,40.1C59.2,40.2 26.9,39.9 86,39C131.2,41.9 130.6,41 175.8,40.3L182,40.3M-7,84.5L-5,84.5C39.7,82.6 38.7,25.8 83.3,23.7C134.6,25.6 123.7,78.7 174.9,81.1L182,81.1"/>
<path d="M-7,84.9L2.8,84.9C59.2,76.3 34.5,78.5 91,84.2C138.2,82.9 127.7,84 175,85.7L182,85.7M-7,84.5L-1.9,84.5C51,81.4 35.1,43.8 88.1,44.5C139.2,45.7 125.1,19.2 176.2,16.1L182,16.1M-7,17.6L-7.1,17.6C45.4,19.5 31.1,15.8 83.6,15C136.1,19.5 118.8,22.1 171.4,16.9L182,16.9M-7,82.8L1.9,82.8C51.3,81.5 39,42.8 88.3,41.5C142.7,41.1 120.5,45 174.9,43.5L182,43.5M-7,63.1L-1.3,63.1C53.2,63.1 30.2,44.8 84.7,43.3C136.6,45 122.7,42.1 174.6,38.9L182,38.9M-7,19.2L2.1,19.2C57.1,23.2 37.6,37.5 92.6,37.7C148,38 124.6,40.2 180,39.9L182,39.9M-7,66.2L2.3,66.2C46.3,64.7 44.3,83.1 88.3,84.2C136.2,78.1 127.2,24.9 175,19.7L182,19.7M-7,40.3L1.3,40.3C59.8,43.7 27.5,76.6 86,84.7C134.7,79.7 126.6,44.5 175.3,44L182,44M-7,21.3L-2.5,21.3C50.9,25.1 33.9,19.2 87.3,13.6C133.2,15.4 129.2,58.8 175.2,59.1L182,59.1M-7,89.3L1.6,89.3C46.1,82.6 45.3,81.2 89.8,84.9C140.8,79 126.4,25.2 177.4,18.6L182,18.6M-7,60.7L4.7,60.7C60.8,61.7 32.5,79.3 88.6,82.8C147.9,79.7 118.1,65.9 177.3,66.5L182,66.5M-7,40.4L-0.7,40.4C47.1,42.3 37.1,64.1 84.9,65.9C138.3,66.4 122.7,63 176,64.4L182,64.4M-7,63.4L-6,63.4C44.8,61.8 32,42.7 82.7,42.1C129.3,42.1 121.9,22.9 168.6,17.9L182,17.9M-7,40.9L1.3,40.9C59.9,42.6 27.1,37.6 85.6,37.3C135.7,40.3 124.4,60.6 174.4,62.1L182,62.1M-7,43.8L1.5,43.8C58.7,42.8 28.2,82 85.4,84.5C135.4,81.1 127.5,22.5 177.5,19.8L182,19.8M-7,64.7L0.6,64.7C57.5,64.6 31.6,43.2 88.6,41.2C142.8,42.3 123.2,61 177.4,62L182,62M-7,57.2L0.9,57.2C52.5,55.4 35.6,79.3 87.1,83.9C133.3,84.6 128.7,15.5 174.9,13.2L182,13.2M-7,18.5L0.9,18.5C52.6,20.1 35.7,16.6 87.4,15.8C140.8,20.5 123.4,22.5 176.7,17L182,17M-7,64.7L-1,64.7C48.3,63.2 37.3,63.3 86.6,64.6C145.6,62.7 117.3,20.2 176.2,19.2L182,19.2M-7,61.6L-0.3,61.6C54,61.6 33.9,39.5 88.1,39.9C145.1,39.1 118.7,82.7 175.7,81.9L182,81.9M-7,39.1L0.8,39.1C45.2,40.7 45.5,62.1 89.9,64.1C144.7,62.3 122.1,81.4 176.9,86L182,86M-7,40.4L6.9,40.4C61.3,40.6 35.9,81.5 90.3,83.4C138.6,81.6 133.4,42.7 181.7,42.8L182,42.8M-7,61.2L-0.2,61.2C49.7,61.5 37.1,66.7 87,64.5C140.6,63 121.9,42 175.6,40.1L182,40.1M-7,89.7L-4.3,89.7C43.8,85.6 36.8,40 84.9,40.2C138.6,40.7 118.2,18.4 171.9,16.4L182,16.4M-7,85L-0.5,85C55.6,79.8 34.1,78.1 90.2,84.2C138.3,84 127,84.8 175.1,86L182,86M-7,19.9L-0.8,19.9C44.3,19.7 40.6,42.6 85.7,40.8C143.5,40.9 117,21.1 174.8,16.6L182,16.6M-7,20.2L0.7,20.2C45.6,25.6 41.3,75.1 86.2,79.5C143.6,75 117.5,58 174.8,62.7L182,62.7M-7,38.5L1.6,38.5C59.2,40.1 30.4,60.6 87.9,61.3C146.7,63.1 116.5,19.4 175.3,18.1L182,18.1M-7,85.2L1.8,85.2C48.9,77.9 41.8,76 88.9,83.1C134.6,76.8 132.9,81.9 178.6,88.1L182,88.1M-7,61.9L0.4,61.9C57.8,62.6 32.3,65.3 89.7,64.4C134.9,65.4 133,61.2 178.2,64.5L182,64.5M-7,18.9L1.1,18.9C59.1,25.1 30.9,42.8 88.9,40.9C134.4,41.7 131,63.9 176.4,64.8L182,64.8M-7,44.7L3.3,44.7C60.4,45.2 33.4,85.8 90.6,88.7C143.1,84.6 122.8,50.8 175.3,49.7L182,49.7M-7,62.5L-0.1,62.5C44,64.1 42.7,22.9 86.9,19.4C142.6,20.7 120.1,77.1 175.9,82.4L182,82.4M-7,63L-2.2,63C46.5,63.6 36.4,64.2 85,64.3C136.3,64.8 122.2,65.9 173.4,66.6L182,66.6M-7,66.4L-3,66.4C52.8,64.3 30.4,78.7 86.2,87.8C139.2,79 118.8,28.3 171.8,22.5L182,22.5M-7,40.5L-4.5,40.5C51.5,41.3 26.3,23.1 82.3,17.8C134.6,19.2 116.4,60 168.7,59.9L182,59.9M-7,17.4L-7.3,17.4C42.8,21.4 31.4,37.9 81.6,38.6C133.4,39.1 114.7,62.8 166.6,64.3L182,64.3M-7,62.9L2.8,62.9C62,63.9 31.7,42.4 90.9,41.4C145.5,44.7 122.9,43.5 177.5,40.6L182,40.6M-7,20.2L9.6,20.2C68.7,21 36,59.6 95.1,60.8C143.6,58.6 134.5,80.9 183,85.9L182,85.9M-7,42.6L1.5,42.6C50.5,44.9 39.2,61.3 88.3,64.5C133.4,62.2 128.1,23.9 173.2,20.2L182,20.2M-7,84.9L-7.8,84.9C44,82.5 34.3,43.3 86.2,43.8C131.4,45.5 121.6,23.4 166.8,16.7L182,16.7M-7,18L1.3,18C45.7,19.2 48.4,81.2 92.8,83.9C139.5,79.8 131,19.7 177.7,11.3L182,11.3M-7,64.7L-0.7,64.7C58.5,62.9 27.9,45.3 87.2,42.4C137.5,42.4 125.9,19.5 176.2,17.7L182,17.7M-7,20.8L5.3,20.8C61.8,24.8 38.9,36.1 95.4,36.7C142,36.5 133.8,78.9 180.4,84.7L182,84.7M-7,21.3L2.3,21.3C49,23 40.4,81.7 87.1,83.3C138.8,81.1 121.6,63.4 173.4,64.3L182,64.3M-7,65L-2.3,65C56.9,62.1 26.8,77.5 85.9,83.7C144.3,77.6 116.8,44.8 175.2,43.5L182,43.5M-7,18.7L-0.2,18.7C50.5,21 38.2,63.1 88.9,64.7C143,62.1 122.4,21.9 176.5,17.7L182,17.7M-7,20.2L-6,20.2C41.6,23.7 35.4,20.2 83,17.6C131.6,21.3 121.9,79.6 170.5,80.3L182,80.3M-7,36.2L-7.7,36.2C37.9,38.9 36,76 81.5,81.9C127.4,78.8 122.1,22 168,21.1L182,21.1M-7,20.7L2.6,20.7C59.9,25.3 34.4,44.3 91.7,41.4C142.2,42.3 125.3,60 175.7,61.3L182,61.3M-7,63.9L2,63.9C50.9,61.3 39.4,78.4 88.3,86.4C142.5,85.9 125.2,66.3 179.3,66.4L182,66.4M-7,27.5L-0.1,27.5C55.1,30.5 33.1,21.5 88.3,15.4C139.9,18.8 121.1,61.7 172.8,63.4L182,63.4M-7,19L-3.3,19C43.6,18.2 36.7,82 83.6,84.3C141.3,78.3 112.3,80.3 170,85.9L182,85.9M-7,65.2L-0,65.2C50.8,64.8 34.7,83.5 85.5,86.7C139.6,78.7 120.9,26.2 175,19.8L182,19.8M-7,39.8L4.1,39.8C47.9,40 47.4,44.1 91.3,41.7C143.2,42.7 127.7,62.7 179.7,63.8L182,63.8M-7,43.9L5.2,43.9C54.6,45.6 42.1,60.7 91.6,62.4C135.9,62.4 137.3,16.6 181.7,17.4L182,17.4M-7,66.5L-1.2,66.5C52.6,64.3 34.7,19.5 88.5,16.8C145,19.2 118.8,59.3 175.2,60.2L182,60.2M-7,84.9L-1.6,84.9C54.6,77.2 27.2,24.6 83.4,18.7C132.2,23.4 124.3,76.6 173.1,84.3L182,84.3M-7,41.5L-0.7,41.5C45.2,41.1 42.9,61.4 88.7,63.6C145.3,62.2 117.3,40.9 173.9,38.6L182,38.6M-7,43.4L-1.1,43.4C52.5,45.1 34.5,64.5 88.1,65.4C139.3,66.1 121.9,24.9 173.1,23.3L182,23.3"/>
<path d="M-7,63.3L2.5,63.3C53.8,60.4 36.5,61.5 87.8,64.9C143.7,64.5 118.3,42.1 174.2,41.6L182,41.6M-7,40.5L1.3,40.5C49.4,43.6 42.7,79 90.8,83.8C141.8,77.7 124,84.7 175,87.9L182,87.9M-7,82.5L-1.4,82.5C53.6,80 35.7,66.2 90.8,66.2C145,61.5 120.5,24.4 174.7,18.2L182,18.2M-7,17.2L4.6,17.2C63.1,24.7 27.9,57.4 86.4,59.5C139.1,56.6 123.2,79.5 175.9,87.3L182,87.3M-7,22.8L2.4,22.8C55.7,25.2 40.8,30.8 94.1,28.7C141.2,32.2 132.4,27.2 179.6,23L182,23M-7,42.6L-5.9,42.6C49.7,43.3 24.6,79.2 80.1,81.3C139.2,77.7 110,79.4 169.1,84.1L182,84.1M-7,59L4.5,59C59.4,56.3 37.6,77.2 92.4,82.3C140.7,77 129.4,28.1 177.7,24.9L182,24.9M-7,61.4L-2.8,61.4C54.9,58.9 26.4,43.4 84.1,41.9C142.7,43 112.9,39.5 171.5,39.1L182,39.1M-7,39.1L7.7,39.1C56.5,40.5 43.4,42.9 92.2,42.9C138.9,44.4 134.1,42 180.7,39.5L182,39.5M-7,20.7L-4.7,20.7C49.1,20.7 26.5,35.7 80.3,38.3C129.3,37.2 118.8,36.6 167.7,36.8L182,36.8M-7,20.9L-4,20.9C53.6,22.7 26.2,76.2 83.7,78.6C135.3,73.8 119.9,79.4 171.6,87.7L182,87.7M-7,63.5L0.3,63.5C44.8,61.3 43,25.9 87.5,18.4C136,22.2 126.3,39.5 174.7,37.6L182,37.6M-7,62.6L7.5,62.6C52,59.1 49.3,78.5 93.8,85.6C140.7,83.7 135.3,64.3 182.2,65.3L182,65.3M-7,83.2L5.9,83.2C51.8,78.5 48.4,79.8 94.3,85.9C149.4,83.4 123.9,43.7 179.1,41.7L182,41.7M-7,17.6L-0.8,17.6C46.1,18.9 35.7,14.4 82.6,14.4C140.9,16 114.1,20.6 172.5,16.6L182,16.6M-7,84.2L8.9,84.2C66.6,80.6 37.3,19.8 95,16.6C149.4,23.8 129.8,64.6 184.2,66.9L182,66.9M-7,65.5L3,65.5C57.4,63.1 35.6,61.1 90,63.9C134.4,62.7 135.6,61.7 179.9,61.1L182,61.1M-7,19.3L3.1,19.3C56.1,19.3 35.2,19.3 88.2,17.4C135.5,22.6 128.5,78 175.8,81.1L182,81.1M-7,19.2L-3.4,19.2C45,22.5 39.2,56.1 87.7,57.2C142.4,57.3 118.3,59.9 173,60.3L182,60.3M-7,81L-0.8,81C56,74.1 29.6,84.2 86.4,88.3C141.5,83.9 114.3,23.6 169.4,21.7L182,21.7M-7,18.3L5.5,18.3C63.8,16.9 34.9,83.4 93.2,81.4C148.8,77.1 122.9,64.9 178.5,67.8L182,67.8M-7,39.5L-2.3,39.5C46.7,41.9 38.3,22.1 87.3,16.3C135.4,18.7 124.2,20.5 172.2,17.5L182,17.5M-7,37.3L-7.2,37.3C42.7,37.5 34.2,67.3 84.1,67.8C134.5,68.9 118,39.7 168.4,40.7L182,40.7M-7,17.1L1.8,17.1C60,20.5 29.8,19.6 88,15.4C138.7,21.7 123.6,76.9 174.3,81.9L182,81.9M-7,42.3L4.8,42.3C51.2,44.1 44.9,82.1 91.2,84.3C140.5,78.6 128,22.8 177.2,19.1L182,19.1M-7,16L0.1,16C45.6,17.8 43.8,78.1 89.2,80.9C134.2,74.8 134.9,28.4 179.9,20.3L182,20.3M-7,86.3L2.5,86.3C51.4,78.9 39.1,25.3 88,17.4C134,20.9 132.4,22.5 178.5,16.6L182,16.6M-7,63.3L4.4,63.3C59.3,59.6 34.2,63.2 89,64.8C133.9,65.4 133.6,19.6 178.5,16.3L182,16.3M-7,64.6L-2.2,64.6C52.7,64 30.6,19.8 85.5,17.1C142.6,17.9 116.1,57.6 173.2,59.4L182,59.4M-7,86.9L2.7,86.9C61.9,86.9 28.5,18.9 87.6,16.2C131.4,21.8 131.7,63.8 175.4,65.8L182,65.8M-7,42.6L-1.7,42.6C52,44.6 30.6,77.8 84.3,84.8C139.2,78.7 116.9,27.3 171.8,20.6L182,20.6M-7,42.7L-0.4,42.7C54.2,45.1 34.5,64.9 89.1,65.5C135.9,61.8 130.3,26.7 177.1,20.5L182,20.5M-7,63.6L-1,63.6C53.8,60.6 32.7,40.6 87.5,42.1C135.1,44.3 126.7,42.3 174.2,40.7L182,40.7M-7,81.6L-2.2,81.6C53,78.6 26.9,78.3 82.1,81.4C138.1,80.7 119.2,67.8 175.2,68.2L182,68.2M-7,16.7L-0.7,16.7C54.3,20 27.6,36.9 82.6,36.5C138.8,40.4 118.1,62.9 174.3,65.4L182,65.4M-7,18.4L-3.9,18.4C44.3,22 40.5,41.7 88.7,39C147.5,38.4 113,86.1 171.7,85.9L182,85.9M-7,42.4L-0.9,42.4C54.2,43.2 32.7,39.7 87.9,39.3C142.6,42.3 118.1,23.5 172.9,15.8L182,15.8M-7,82.5L-8.5,82.5C48.7,77.5 18.7,43.3 75.9,42.2C124.9,44 117.8,80.9 166.7,83.3L182,83.3M-7,18.3L2.8,18.3C56.1,25.7 38.7,56.6 92.1,58.7C149.4,58.3 119.2,83.5 176.6,88.4L182,88.4M-7,40.1L3.3,40.1C60.2,44.8 34.5,77.5 91.4,83.7C138,79.7 129.4,24.1 176,23L182,23M-7,61.5L-1.4,61.5C54.6,58 32.4,60 88.4,64.2C135.2,59.3 129.1,42.7 175.9,41.6L182,41.6M-7,18.8L0.8,18.8C56.9,22.5 31.3,59.5 87.4,61.4C137,61.7 123.5,41.2 173.1,41.7L182,41.7M-7,41L5.5,41C53.8,41.5 41.6,24.5 89.8,20.2C134.9,25.8 133.3,42.3 178.4,38.2L182,38.2M-7,83.3L-3.6,83.3C55,82.3 27.1,18.8 85.7,17.8C142,19.1 115.2,37.9 171.5,37L182,37M-7,44.2L3.1,44.2C50.8,45.5 44.1,42.5 91.8,40.9C135.6,40.7 135.8,58.9 179.5,60.3L182,60.3M-7,66.1L3.7,66.1C58,63.5 36.3,61.8 90.6,64C138.5,65.4 130.5,37.7 178.3,36.8L182,36.8M-7,20.4L6.9,20.4C58.8,21.5 39,42.2 90.8,40.3C143.3,42.9 123.2,59.3 175.8,60.5L182,60.5M-7,17L7,17C56.1,25.2 44.9,73.6 94,79.2C144.4,74.2 133.5,61.6 184,64.3L182,64.3M-7,20.6L1.8,20.6C54.6,24.4 30.8,80.2 83.6,82.1C131.9,78.5 123.9,81.9 172.3,86.5L182,86.5M-7,67.1L-2,67.1C42.4,68.5 41.9,20.9 86.3,18.5C134.2,23 125.5,64.5 173.5,66.4L182,66.4M-7,80.8L2.4,80.8C52.8,76.6 41,64.1 91.4,65.6C147.5,63.3 123.1,43.5 179.2,39.7L182,39.7M-7,18.3L-5.6,18.3C52.3,22.2 25.6,19.4 83.4,15C137.3,17.6 112.9,59.2 166.9,60.2L182,60.2M-7,79.3L-1.8,79.3C46.8,79.9 42.6,20.9 91.2,19.9C142.2,22.5 126.8,76.8 177.8,81L182,81M-7,62.2L-1.5,62.2C54.5,58.8 30,23 86,19.6C137.2,25.7 119.6,20.6 170.9,15.9L182,15.9M-7,39.7L-5.4,39.7C53.5,41 23.1,43.6 82,41.6C131.6,40.9 119.4,65.5 169.1,65.1L182,65.1M-7,17.9L-1.2,17.9C47.2,22 36.9,61.2 85.3,61.5C133.2,62 122.8,79.5 170.7,83.3L182,83.3M-7,20.3L-1.1,20.3C52.1,19.6 31.3,81.2 84.5,81.2C132.6,79.4 123,88.6 171.1,90.5L182,90.5M-7,39.5L-0.4,39.5C44.8,41 44,63.2 89.2,65.6C142.7,62.8 121.8,23.5 175.3,20.1L182,20.1M-7,83.8L4.9,83.8C59,81.6 35.7,61 89.9,63.9C144.4,63.2 125.1,44.2 179.6,41.7L182,41.7M-7,42.2L5.8,42.2C51.2,44.1 48.4,60.3 93.8,61.2C142.5,61.9 129.7,21.8 178.4,20.7L182,20.7"/>
<path d="M-7,84.4L-4,84.4C46.4,80.2 34.3,65.9 84.7,66.1C130.2,63.3 128.1,43.3 173.5,40.6L182,40.6M-7,84.1L0,84.1C52,79.7 36.4,24.2 88.3,17.6C142.4,22.9 120.3,57.5 174.3,59.1L182,59.1M-7,68.1L2.5,68.1C61.9,69.6 31.8,43.5 91.2,43.9C149.1,44.7 118.3,36.5 176.2,36.6L182,36.6M-7,38.2L-6.3,38.2C48.3,36.5 27.6,18.6 82.2,18.3C131.8,19.5 122.3,60.3 172,62.4L182,62.4M-7,19.4L-4.1,19.4C44.3,27.7 39,75.5 87.4,81.9C131.3,78.8 133.3,64.4 177.2,65.8L182,65.8M-7,65.4L-3,65.4C53.8,62.6 27.4,45.8 84.3,43.1C139.2,43.9 117.7,41.9 172.6,41.5L182,41.5M-7,21.8L1.9,21.8C52.9,27.9 39.5,44.1 90.6,40.5C140.1,41.3 126.7,41.3 176.2,40.1L182,40.1M-7,61.6L-4.5,61.6C53.5,63.5 24.9,80.4 82.9,85C142.2,83.1 110.5,87.1 169.8,86.4L182,86.4M-7,37.8L-5.1,37.8C49.8,37.7 30.2,63.8 85.1,62.8C142.6,62.3 114.9,64.7 172.4,66.7L182,66.7M-7,78.6L1.1,78.6C59.4,77.6 29.4,41.1 87.8,40.1C142.1,40.9 120.4,62.8 174.7,63.2L182,63.2M-7,17L0.1,17C46.1,21.4 39.2,39.9 85.2,38.3C135.2,38.3 122.1,24.8 172.2,16.9L182,16.9M-7,60.4L-0.4,60.4C48.2,60.2 38.1,83.2 86.7,87.5C137.1,82.4 126.5,25.3 176.9,20.3L182,20.3M-7,16.3L0.8,16.3C48.4,22.5 41.4,61.9 88.9,62.5C136.8,62.1 126,22.6 173.9,21.9L182,21.9M-7,19.6L6.6,19.6C66,20.1 34,35.3 93.4,34.1C151.2,32.9 120.2,66.3 178,68.3L182,68.3M-7,42.6L1.8,42.6C61.1,44.2 27.7,20.7 87.1,17.8C142.6,24.3 121,61.1 176.5,61.7L182,61.7M-7,60.3L4.6,60.3C60.4,58.4 35.1,59 90.9,60.7C136.5,59.6 135.3,61.8 181,60.8L182,60.8M-7,81.7L-2.1,81.7C51.8,75 32.4,63 86.3,66.1C141.9,62.6 118.1,62.9 173.7,67L182,67M-7,43.1L-0.5,43.1C47.2,45.9 38.3,24.4 85.9,20.2C142.8,25.4 117.7,65.5 174.6,71.4L182,71.4M-7,37.7L-3.4,37.7C51.8,39.8 29.4,19.3 84.6,17.2C137.3,23.1 119,23.1 171.8,15.2L182,15.2M-7,83L2.9,83C49.3,76.6 43.2,22.7 89.7,21C149,28.9 118.2,75.9 177.5,81.6L182,81.6M-7,21.2L7.5,21.2C56.9,22.7 45.8,58.8 95.2,59.8C139.7,59.3 139.3,41.9 183.9,39.5L182,39.5M-7,63.7L-1.9,63.7C44.9,63.4 33.9,66.5 80.7,66.6C138.5,65.2 113.8,23.9 171.6,21.2L182,21.2M-7,81L1.9,81C51.1,76.5 38.3,64 87.4,65.5C135.8,65.4 129.3,80.6 177.7,82.7L182,82.7M-7,42.5L0.4,42.5C51.1,42 37.4,21.4 88.2,19.2C144.6,26.1 121.3,41.7 177.8,38.9L182,38.9M-7,61.8L3.3,61.8C57.8,60 36.8,74.6 91.3,81.4C150.2,76 123.8,46.6 182.7,44.2L182,44.2M-7,19.8L-5.1,19.8C38.8,23.3 38.5,77.2 82.4,82.9C130.2,78.8 122.3,24.1 170.1,20.8L182,20.8M-7,40.8L0.5,40.8C50.9,42.2 37.3,44.5 87.7,41.2C134.9,41.5 127.5,20.7 174.7,16.8L182,16.8M-7,17.9L1.2,17.9C57.1,23.8 30.5,24.3 86.3,14.9C142,17.4 120.7,17.8 176.3,14.1L182,14.1M-7,14.2L-1.7,14.2C49.2,18.2 36,38.2 86.9,36.6C142.9,36 120.9,38.8 177,39.6L182,39.6M-7,80.3L-0.7,80.3C45.9,77.8 41.9,62 88.5,65.3C140.7,64.7 124.5,87.2 176.7,89.8L182,89.8M-7,63.9L-5.4,63.9C43.6,63 34.9,21 83.9,17.1C143,17.8 114.1,58.4 173.2,60.8L182,60.8M-7,83.3L0.6,83.3C58.2,79.7 30.3,83.2 87.9,87.3C135,85.3 129.2,43.9 176.3,44.1L182,44.1M-7,62.8L0.7,62.8C55.7,60.7 37.4,79.3 92.4,84.6C148.1,80 120.9,81.4 176.5,84.3L182,84.3M-7,80.7L-0.8,80.7C55.1,78.1 30.8,62.8 86.7,63.4C131.2,64.1 131.2,64.3 175.7,64.2L182,64.2M-7,64.6L-4.8,64.6C46.4,63.8 30.7,46.4 82,44C131.4,43.2 122.5,40.4 171.9,41L182,41M-7,63.3L5.1,63.3C49.3,62.5 47.2,21.2 91.4,19.5C150.7,27.3 118.4,40.5 177.7,40.2L182,40.2M-7,89L-0.2,89C47.8,84.5 36.5,20.6 84.5,18.3C135.2,21.9 122.3,15.8 173,12.1L182,12.1M-7,86.6L4.9,86.6C60.8,84.8 35.7,67.5 91.6,67.8C143.4,66 126.4,35.8 178.2,33.6L182,33.6M-7,43.2L0.3,43.2C53.1,47.3 37.6,78.2 90.4,84C145,78.3 120.2,82 174.8,88.8L182,88.8M-7,65.1L2,65.1C54,65.5 36,61.3 88,64.1C142.4,60.7 119.7,77.6 174.1,83.4L182,83.4M-7,17.8L-2.2,17.8C54.1,19.2 30.5,60.3 86.8,61.1C138.8,61.1 120.9,84.8 172.9,86L182,86M-7,14.8L0.2,14.8C52.4,16.3 35.3,21 87.4,18.6C144.6,22.2 119.2,20.2 176.4,16.1L182,16.1M-7,87.8L0.4,87.8C51.9,87.1 36.7,70.8 88.3,71C147.1,68.7 119,81.7 177.7,84.1L182,84.1M-7,90L-1,90C49.8,82.7 35.8,44.8 86.6,42.3C137.5,41.6 124.7,61.2 175.6,65.2L182,65.2M-7,81.2L-3.2,81.2C46.9,75.9 35.7,80.4 85.8,85C138.9,81.6 121.8,80.8 174.8,86.3L182,86.3M-7,66.7L3.8,66.7C60.5,66.6 35.8,40.3 92.5,40.2C144.7,40.3 126.6,38.7 178.8,39.7L182,39.7M-7,86L-1.1,86C50.5,79.4 32.9,65.6 84.6,65.6C140.5,65.5 117.9,43.9 173.9,40.8L182,40.8M-7,64.1L-1.7,64.1C53.8,61.6 31.2,23.7 86.7,16.4C132,18.4 128.9,21.1 174.3,17.5L182,17.5M-7,67.7L-8.9,67.7C50.4,64.3 20.8,42.8 80,40.9C135,41.3 109.7,22.1 164.7,16.5L182,16.5M-7,17.1L-1.4,17.1C54.9,24.2 32.9,40.4 89.2,39.4C141.8,42.2 124.3,24.3 177,16.6L182,16.6M-7,38.1L5,38.1C52.5,40.4 44.3,78.1 91.7,84.5C143.9,82.6 126.5,64.4 178.7,65.4L182,65.4M-7,42.1L3.4,42.1C62.1,43.6 30.4,39.3 89.1,39.8C134.8,40.9 129.7,19.4 175.4,18.2L182,18.2M-7,40.7L6.2,40.7C63.4,44 32.2,57.3 89.5,60.5C144.6,57.3 122.1,24.4 177.2,18.1L182,18.1M-7,85.6L-0.8,85.6C57.9,81.9 29.4,64.3 88,67.1C133.4,63.6 130.9,40.6 176.3,38.8L182,38.8M-7,17.2L0.6,17.2C50.3,18.4 35.8,36.3 85.5,37C133.1,37.3 125.6,61.4 173.1,63.2L182,63.2M-7,60.8L-8.7,60.8C48.2,58.8 22.3,77.2 79.1,84.7C132.3,79.7 113.7,27.2 166.9,20.2L182,20.2M-7,37.7L1,37.7C48.7,38.7 39.9,62.6 87.5,61C144,59.7 117.5,59.3 174,61.9L182,61.9M-7,19.6L1.8,19.6C58.9,24.4 30.7,39.9 87.7,40.1C144.8,43.9 118.9,60.6 176,61.6L182,61.6M-7,18.5L7.5,18.5C60.4,19.3 44.4,37.8 97.2,37.3C147.3,38.1 135.1,21.9 185.2,16.5L182,16.5M-7,83L1.2,83C58.4,82.5 31.1,20.2 88.2,17.6C147,18.8 115.9,19.2 174.7,14.1L182,14.1"/>
<path d="M-7,42.8L-5.8,42.8C41.2,44.3 34.1,78.5 81.1,83.2C126.5,82 123.4,42.8 168.8,44L182,44M-7,90.2L-2.3,90.2C41.4,81.8 39.4,67.2 83.1,69.3C127,67.8 130.6,5.4 174.5,3L182,3M-7,17.5L2.5,17.5C56.4,22 37.2,23.4 91.1,16.8C145,21.9 121.3,77.6 175.2,82.1L182,82.1M-7,84.6L4.5,84.6C56,76.5 40.7,42.7 92.2,39.7C146.8,40.2 124.2,65.2 178.8,63.8L182,63.8M-7,17.1L-3.7,17.1C43.5,22.4 35.2,24 82.4,17.9C140.3,17.8 113.9,60.7 171.9,60.6L182,60.6M-7,16L2.2,16C49.9,22 39.9,43.6 87.5,42C140.8,42.6 122.4,16.9 175.6,16L182,16M-7,31.5L3,31.5C51.4,32.7 41.9,43.4 90.3,39.3C143,38.4 126.1,82.5 178.9,83.5L182,83.5M-7,65.3L-3.3,65.3C44.1,63.7 39.9,41.9 87.3,39.2C136.3,42.3 123.4,62.8 172.4,66.4L182,66.4M-7,18.8L7.7,18.8C63,24.7 38.4,22.5 93.7,16.7C140,18.8 135.5,80 181.9,82.5L182,82.5M-7,41.7L3.2,41.7C47.8,42.7 44.2,67.4 88.8,68.1C144,66.9 119.8,42.8 175,43L182,43M-7,86.4L-2.2,86.4C43.6,84.7 38.4,61.8 84.2,63.5C140.4,61.3 119,79.9 175.2,86.1L182,86.1M-7,86.3L7.6,86.3C61.6,84.1 38.7,83.8 92.6,86.4C149.7,87.5 124.8,66.8 182,67.3L182,67.3M-7,63.1L3.8,63.1C58.5,62.4 33.3,30.7 88,27C140.5,28.6 120.9,76.8 173.4,81.3L182,81.3M-7,62.8L-7.3,62.8C46.3,62.1 30.4,21.5 83.9,17.7C134.8,14.3 118.1,61.4 169,63.5L182,63.5M-7,61.9L2.2,61.9C55,58.9 32.7,21.8 85.5,17.4C139.5,21.7 121.8,18.1 175.8,14L182,14M-7,66.6L-2.1,66.6C42.5,62.6 39.5,26.6 84.1,18.1C132.4,24.1 123.6,62.5 171.8,60.5L182,60.5M-7,81.9L-0,81.9C55,77.6 34.1,62.3 89,64.5C147.7,63.6 115.9,61.3 174.5,63L182,63M-7,63.7L-0.2,63.7C52.3,61.4 35.6,80.1 88,81.1C133.2,79.2 128.9,62.7 174,64.8L182,64.8M-7,18.8L7.5,18.8C58.6,22.3 41.3,19.1 92.4,15C147.3,20.5 122.6,77.1 177.6,81.8L182,81.8M-7,36L-0.8,36C43.7,37.1 40.1,86.7 84.6,88.4C140.1,87.5 115.3,40.8 170.7,39.6L182,39.6M-7,64.5L0.9,64.5C48.4,59.4 40.6,44.2 88.1,42.2C140.5,43.6 122,22.7 174.4,17.9L182,17.9M-7,62.9L-1,62.9C49.2,61.1 35.4,66 85.7,68.1C137.1,62.7 119.7,61.2 171.1,63.6L182,63.6M-7,38.7L1,38.7C50,38.1 37.9,82.7 86.8,84C133,78.7 131.7,82.6 177.8,87.2L182,87.2M-7,43.6L5.7,43.6C53.6,43.9 45.6,19.6 93.6,17.4C151.2,21.4 122,20.4 179.7,12.9L182,12.9M-7,62.5L-1.1,62.5C42.8,58.1 40.4,77.3 84.3,85.4C129.4,84 126.9,17.4 172,18.3L182,18.3M-7,68L-4.2,68C54.3,64.7 23.5,44.8 82,41.5C130.5,43.3 121,63.5 169.6,62.5L182,62.5M-7,62.3L1.2,62.3C47.7,57.4 40.2,80.9 86.8,88.6C134,85.1 127.6,66.8 174.9,68.3L182,68.3M-7,85.1L-2.4,85.1C42,81.2 41.1,21.7 85.4,18.6C138.3,20.8 114.1,16.6 167,15.7L182,15.7M-7,84.8L2.2,84.8C48.5,81.6 44.3,82.3 90.6,85.3C148.9,80.3 118.4,64.9 176.6,66L182,66M-7,21.3L4.7,21.3C53.3,23.7 41.5,61.1 90.1,61.8C137,61.3 128.7,77.6 175.7,83.5L182,83.5M-7,83.5L-1.9,83.5C53.4,81.5 31.2,79.7 86.5,81.9C142.2,81.8 116.9,66.8 172.6,67.3L182,67.3M-7,83.4L-0.9,83.4C56.9,78.9 27.8,79.9 85.6,85.5C143.9,80.2 114.9,63.3 173.2,66.2L182,66.2M-7,64.2L0.5,64.2C54.8,62.2 30.2,84.3 84.6,86.3C132.2,79 121.9,43.5 169.6,42.7L182,42.7M-7,78.8L-2.7,78.8C48.9,76.5 36.3,70.7 87.9,70.4C138.1,68.1 123.9,24.5 174.1,19L182,19M-7,42.6L-7.5,42.6C38.3,40.7 40.4,56.2 86.2,57.6C144.9,56.3 112.7,62.5 171.4,64.5L182,64.5M-7,84.2L-0.1,84.2C49.2,82.4 37,23 86.3,18.1C131.7,22.4 128.2,42.8 173.7,40.2L182,40.2M-7,43.4L3.1,43.4C55.4,44.1 41.7,39 94,38.9C147.8,38.5 127,40.2 180.8,40.5L182,40.5M-7,62.6L-0.6,62.6C56.1,64.5 30.5,85.5 87.3,85.4C144.5,84.2 116,43.3 173.3,42.9L182,42.9M-7,61.9L3.8,61.9C62.2,60.1 32.8,67 91.2,67.2C141.6,68.1 128.8,85.1 179.1,87.6L182,87.6M-7,41L9.4,41C65.6,39.2 40.8,64.3 97.1,63.5C143.8,62.6 138.7,19.8 185.4,16.5L182,16.5M-7,81L2.5,81C53,78.5 38.3,45.4 88.9,44.2C139.9,44.9 127.3,46.4 178.4,43L182,43M-7,20.7L4.2,20.7C51.6,26.7 38.5,58 85.9,62C140.1,60.4 125.1,84.6 179.3,89L182,89M-7,19.8L3.5,19.8C54.2,26.1 36.9,76.2 87.6,79.9C131.8,73.7 132.2,22.8 176.3,19.3L182,19.3M-7,85.2L1.8,85.2C58.5,80.5 30.7,20.6 87.3,18.8C138.8,21.1 123.6,81.1 175.1,81.7L182,81.7M-7,62.1L4.3,62.1C49.9,61.5 42.7,20.5 88.3,17.1C133.8,18.2 130.9,61.6 176.5,63.3L182,63.3M-7,33.5L0.8,33.5C45.5,34.2 42,38.8 86.7,38.1C133.7,38.9 127.3,58.9 174.3,60.9L182,60.9M-7,64.6L-3.8,64.6C50.3,63.9 32.2,60 86.2,59.3C136.9,59.4 119.2,40.9 169.8,40.7L182,40.7M-7,88.3L1.6,88.3C57.4,84.2 31.9,46.1 87.7,42.4C142.9,43.4 121,21.4 176.2,19.7L182,19.7M-7,62.3L4.5,62.3C50.3,60.3 46,61.3 91.8,64.1C149.8,61 120.6,41.6 178.6,41.1L182,41.1M-7,62.9L2.1,62.9C46.5,59.3 45.9,23.4 90.3,16.1C138.3,17.6 129.7,58.3 177.8,57L182,57M-7,20.3L2.6,20.3C46.6,26.7 43.3,77.3 87.3,83C135.6,77.2 127.2,80 175.4,86.1L182,86.1M-7,17.6L0.1,17.6C55.2,18.7 28.3,61.9 83.4,61.4C133.6,58.5 124.9,24.3 175.1,19L182,19M-7,64.3L-0.8,64.3C55.2,63.9 29.7,63.2 85.6,65.3C132.1,62.2 127.8,80.7 174.4,84.2L182,84.2M-7,17.8L-2.2,17.8C44.3,19.9 38.2,62.4 84.7,63.1C141.7,62.4 116.8,38.5 173.8,38L182,38M-7,83.5L-4.7,83.5C50.8,81.1 31.6,44.4 87.1,43C138.3,43.5 121,76.3 172.1,80.6L182,80.6M-7,62.4L2.1,62.4C47.1,60.3 45.7,62.8 90.7,62.6C146.8,61 119.7,26.1 175.8,18.6L182,18.6M-7,42L3,42C62,43.7 31.8,58.3 90.8,61.9C139.2,61.5 128.2,25.9 176.7,17L182,17M-7,20.8L-0.3,20.8C52.1,23.2 37.7,81.2 90,84.2C147.2,84.8 120.5,87.8 177.7,87.6L182,87.6M-7,60.8L1.6,60.8C50.1,60 43.2,62.2 91.7,63.8C144.3,61.8 123.6,26.4 176.2,18.8L182,18.8M-7,82.5L0.7,82.5C58.3,79 29.6,65.2 87.2,65.6C145.5,65.5 117.2,84.2 175.5,84.2L182,84.2"/>
<path d="M-7,37.6L-4.8,37.6C51.7,38.6 29.3,40 85.9,39.6C132.3,40.2 122.5,76.6 168.9,82L182,82M-7,61.9L0.7,61.9C57.8,62.3 33.6,18.6 90.7,14.8C146.2,20.3 121.2,19.3 176.6,16.2L182,16.2M-7,82.9L3.5,82.9C54.2,77.4 36.6,42.7 87.3,42.1C133,45.2 135.1,62.2 180.9,64.1L182,64.1M-7,87.5L6.9,87.5C65,84.5 35.1,41.2 93.2,41.7C151.8,41.2 121.5,19.3 180.1,17.5L182,17.5M-7,42.1L-1.5,42.1C49.6,43.9 40.4,63.6 91.5,62.9C138.4,59.1 125,44.1 171.9,42.3L182,42.3M-7,40.1L1.3,40.1C51.7,41.3 41.4,82 91.8,84.8C144.3,79.8 122,80 174.6,84.6L182,84.6M-7,84.1L-0,84.1C51.1,80.9 36.5,78.3 87.6,83.3C139.4,81.5 121.9,61 173.7,63.7L182,63.7M-7,66.1L1.6,66.1C57,65.5 36.5,44.5 91.9,43.3C143.3,44.5 125.9,61.3 177.3,63.8L182,63.8M-7,91.1L1.2,91.1C51.4,80.7 36.7,40.7 86.9,40.7C143.4,42.3 118.4,64.4 174.9,66.7L182,66.7M-7,15.1L-1,15.1C52.5,17 30.7,23.3 84.2,20.3C133.7,24.4 123.6,41.6 173.1,38.1L182,38.1M-7,18.6L-2,18.6C44.5,25.7 41.9,71.8 88.3,80.5C143.2,75.9 119,61.7 173.8,65.8L182,65.8M-7,5.3L-1.4,5.3C42.4,7 40.8,15.5 84.6,14.5C140.6,19.2 115,81.7 171,88L182,88M-7,37.4L-1,37.4C44.4,38.5 42.1,82.9 87.4,83.4C137.8,79.5 121.9,80 172.4,82.5L182,82.5M-7,38.6L-2,38.6C52.8,41.2 32.8,73.5 87.7,78.8C145.1,75.8 118.3,22.9 175.7,20L182,20M-7,68.2L8.2,68.2C58.4,67.2 42.1,60.9 92.3,61.5C144.3,59.9 130.5,63.9 182.6,64.5L182,64.5M-7,83.9L5.1,83.9C62.4,78.2 35.5,23.8 92.8,20.6C145.7,21.8 124.2,82.5 177.1,84.4L182,84.4M-7,61.5L4.8,61.5C49.8,60.5 46.7,61.5 91.8,63.9C135.9,60.1 133.9,22.2 178,19.6L182,19.6M-7,87.2L0.3,87.2C51.1,85.5 36.7,87.7 87.6,87.3C133.7,83.7 130.9,40.6 177.1,40.9L182,40.9M-7,84.1L-0.7,84.1C44,80.8 40.9,84.1 85.7,86.9C141.8,81.6 116.5,43.6 172.6,41.9L182,41.9M-7,57.9L-0.1,57.9C49.3,56.2 36.6,18.4 86,16.9C139,18.3 124.7,38.2 177.7,39.2L182,39.2M-7,40.7L-0.8,40.7C46.1,43 42,26.5 88.9,22.5C146.4,21.2 118.2,20.5 175.7,19.3L182,19.3M-7,64.9L-3.7,64.9C53.1,64.6 28,82 84.8,85C140.2,80.5 112.9,81.6 168.3,85.9L182,85.9M-7,61.9L-3.2,61.9C54.8,63.4 29,81.1 87,84.6C143.2,81.1 117.6,46.3 173.8,45.8L182,45.8M-7,40.7L-1.3,40.7C45.2,41.8 39.4,78.6 85.8,82.4C134.5,74.8 125.2,61.1 173.8,63.9L182,63.9M-7,11.3L4.8,11.3C50.7,16.9 42.4,74.2 88.3,77.8C140.6,75 126.6,28.7 179,25.9L182,25.9M-7,62.7L-5,62.7C43.4,60.7 35.7,61.9 84.1,65C131.5,64.3 125.5,62.3 172.9,64.6L182,64.6M-7,19.8L-6.1,19.8C52.2,20.9 24.2,63.4 82.5,62.1C135.6,63.3 113.6,40.5 166.8,41.5L182,41.5M-7,16.8L4.1,16.8C50.8,17.9 44.8,20.8 91.5,18.3C141.9,22.7 129.7,55.4 180.2,58.3L182,58.3M-7,16.8L-1.6,16.8C53.2,18.6 32.1,64.7 87,67.3C141.8,65 116.8,79.4 171.6,87L182,87M-7,64.1L-3.7,64.1C40.4,64.2 41.6,42.9 85.7,43.9C143.6,44.6 113.9,19.2 171.8,17L182,17M-7,81.4L3.8,81.4C58.2,76.4 39,39.7 93.5,39.1C145.1,40.7 127.4,66 179,68.5L182,68.5M-7,66.3L4.2,66.3C52.7,62.7 45,40.7 93.5,39.6C152,42.3 118.1,60.6 176.6,62.8L182,62.8M-7,67L3.8,67C51.1,63.1 42.7,46.9 89.9,43.8C148.3,44.4 120,44.6 178.4,43.8L182,43.8M-7,89L-2.5,89C44.3,87.7 31.8,18.6 78.6,19.6C129.2,21.9 122.3,22.5 172.9,15.9L182,15.9M-7,17.5L2.9,17.5C48.7,25.1 43,23.7 88.9,16.6C132.6,17.5 134,35.2 177.7,36.7L182,36.7M-7,20.6L8,20.6C64.4,22.9 39.9,60.3 96.3,60.8C141.6,57.6 137.3,63.7 182.6,64.5L182,64.5M-7,62.2L-4,62.2C42.5,60 38.3,23.3 84.8,17.8C143.2,19 113.8,63.3 172.2,63.8L182,63.8M-7,40.2L2.9,40.2C60.7,39.5 32.8,83.9 90.6,83.8C142.1,75.1 125.3,46.5 176.8,44.9L182,44.9M-7,42.2L0.8,42.2C52.4,44.5 38.7,61.1 90.4,61.3C137.9,59.6 130.5,79.9 178,84L182,84M-7,37.5L-1.7,37.5C50.6,39.3 35.9,57 88.2,59C135.7,59.2 126.5,65.4 174.1,66.6L182,66.6M-7,17.1L-1.3,17.1C57.6,16.4 26.3,64.9 85.1,63.4C141.8,61 117,63.4 173.7,66.1L182,66.1M-7,41.3L-5.2,41.3C40.8,41.6 37.9,17 83.9,14.5C135.8,21.1 118.6,75.2 170.5,84.4L182,84.4M-7,63.7L-2.1,63.7C49.4,59 32.1,21.7 83.6,17.3C134.5,19.2 119.2,40.5 170.2,39.1L182,39.1M-7,64.9L-3.9,64.9C51.2,64.1 28.6,24.4 83.8,21C141.4,27 111.3,74.4 169,81.1L182,81.1M-7,39.4L-8.8,39.4C48.3,40.4 23.5,61.9 80.6,63.8C129,61.2 119.3,61.1 167.7,62.8L182,62.8M-7,40L-2.5,40C49.6,41.3 30.2,58.7 82.3,59.3C130.2,57.7 123.4,79.1 171.3,84.3L182,84.3M-7,67.9L3.5,67.9C58.8,68.5 34,61.1 89.4,62.1C141.4,61.6 122.9,85.2 174.9,86.4L182,86.4M-7,16.2L5.6,16.2C62.9,20.3 34.4,80.2 91.7,80.7C135.9,78.6 134.8,66.4 179,67.4L182,67.4M-7,87.1L3.2,87.1C59.3,84.4 35.1,83.4 91.2,87.2C143.7,81.2 123.8,43.6 176.3,40.7L182,40.7M-7,19.7L-5.7,19.7C42.8,20.3 34.1,16.2 82.7,17C135.6,22.3 118.9,37.4 171.8,38.7L182,38.7M-7,21.9L1.1,21.9C52.5,24 35.2,76.9 86.6,81.2C139.9,80.5 120.7,87.1 174,86.9L182,86.9M-7,85.6L2.7,85.6C61.6,85.4 32.1,66.3 91,67.2C138.6,66.9 130.4,22.4 178,20.1L182,20.1M-7,38.5L-5.4,38.5C44.1,39.8 36.3,78.6 85.8,80.8C132.1,77.5 123.8,47.3 170.1,45.7L182,45.7M-7,19.3L-5.4,19.3C45.5,24.9 31.5,44.7 82.4,43.5C129.9,47.3 121,80.6 168.5,84.5L182,84.5M-7,84L-4.1,84C42.1,77.5 37.4,78.2 83.6,85.5C132.4,79.9 120.7,26 169.4,20.6L182,20.6M-7,39.8L0.8,39.8C59.9,40.9 30.4,62.7 89.5,61.9C138.3,61.5 132.6,63.5 181.5,65.5L182,65.5M-7,59.4L4.8,59.4C49.3,58.2 49.4,39.6 94,39.5C152.6,38.1 118.4,87.3 177.1,88.5L182,88.5M-7,17.1L4.3,17.1C62.6,21.5 29.5,78.5 87.7,81.9C140,80.8 121.7,87.9 173.9,87.2L182,87.2M-7,79.6L-5.7,79.6C42.1,77.1 38.9,21.2 86.7,17.8C138.6,15.8 122,38.4 173.9,38.2L182,38.2M-7,66.1L1.9,66.1C46.5,64.1 41,44.2 85.6,42C139.3,44.5 121.1,60.5 174.9,64.8L182,64.8"/>
<path d="M-7,41.5L0.9,41.5C50,43.6 34.4,75.7 83.4,81.1C127.2,75.3 131.2,23.9 175,18.8L182,18.8M-7,18.3L7,18.3C50.8,20.9 46.7,47 90.5,45.3C148.5,49.1 123.8,39.7 181.9,39L182,39M-7,59.3L1.7,59.3C55.9,61.2 33.9,86.9 88,87.7C143.3,79.5 121.7,27.8 177,21.8L182,21.8M-7,17.2L1.5,17.2C45.7,23.4 43.5,75.7 87.7,80.5C136.5,76.2 124.9,64.2 173.7,65.6L182,65.6M-7,20.4L-2.2,20.4C54.1,26.7 31.2,75.4 87.5,81.2C141.6,79.8 117.6,43.9 171.6,44.6L182,44.6M-7,91.6L-8.6,91.6C50.1,85.4 16,23.3 74.6,19C121.7,20.5 117.2,36 164.2,36.5L182,36.5M-7,17.5L0.1,17.5C44.1,20.1 45.8,61.1 89.8,60.8C146.1,59.3 120.4,17.9 176.6,17.2L182,17.2M-7,40L0.2,40C55.5,41 33.9,39.3 89.2,38.7C146,40.7 118,16.1 174.8,15.9L182,15.9M-7,20L5.6,20C54.7,21.1 41.6,81 90.7,83.1C146.3,80.6 124.1,22.8 179.7,20.4L182,20.4M-7,38.1L-0.3,38.1C49,37.9 36.7,59.8 86,60.9C144.5,60.6 114.3,21.7 172.8,19.1L182,19.1M-7,83.1L-0.9,83.1C54.4,77.4 28.2,82.2 83.5,86.7C136.3,82.5 122.3,84.7 175,88.7L182,88.7M-7,41.1L6.8,41.1C51.2,42.6 51.4,23.6 95.7,17.9C147.1,16.9 131.9,80.1 183.4,80.8L182,80.8M-7,18.5L3.3,18.5C55,18.5 38.7,66.3 90.5,63.7C142.2,60.9 126.3,25.7 178,20.2L182,20.2M-7,16.1L-5.9,16.1C46.2,22.8 28.8,39 80.9,37.2C136.1,40.5 111.7,35.9 166.9,38.3L182,38.3M-7,82.8L5.1,82.8C50.6,77.9 47.8,75.2 93.3,80.8C137.3,77.6 136.1,45.4 180.2,44.5L182,44.5M-7,65L2.1,65C46.9,63.4 42.1,31.4 86.9,27.4C137.2,30.2 124.8,29.1 175.2,26.2L182,26.2M-7,61.1L1.6,61.1C55.2,60 33.6,21.9 87.2,18.1C142.5,22.2 121.3,19.6 176.6,16.2L182,16.2M-7,83.3L-0.6,83.3C53.2,78 33.2,66.2 87,66.9C139.2,66.9 124.5,20.2 176.7,19.6L182,19.6M-7,36.8L0.8,36.8C57.3,39.4 36.6,23.1 93.1,18.2C150.5,24.2 120.5,56.9 177.9,60.9L182,60.9M-7,40.8L3.1,40.8C59.9,41.2 32.6,82.3 89.4,84C137.9,84.2 127.9,89.1 176.4,88.1L182,88.1"/>
</g></symbol>
</defs>
<g transform="translate(46.1,287.5)">
<path d="M10.5,0V100.7M36,0V100.7M61.5,0V100.7M87,0V100.7M112.5,0V100.7M138,0V100.7M163.5,0V100.7M0,11H174.8M0,33H174.8M0,55H174.8M0,77H174.8M0,99H174.8" stroke="#dedede" stroke-width="0.6" fill="none"/>
<use href="#eyeA" x="0" y="0" width="174.8" height="100.7"/>
<rect x="0" y="0" width="174.8" height="100.7" fill="none" stroke="#cfcfcf" stroke-width="0.8"/>
</g>
<text x="26.5" y="340.1" font-size="10.7" text-anchor="middle" fill="#1a1a1a" stroke="#1a1a1a" stroke-width="0.22">Ch1</text>
<text x="219.2" y="386.2" font-size="8.1" text-anchor="end" fill="#1a1a1a" stroke="#1a1a1a" stroke-width="0.12">1548.31 nm</text>
<g transform="translate(46.1,400.1)">
<path d="M10.5,0V100.7M36,0V100.7M61.5,0V100.7M87,0V100.7M112.5,0V100.7M138,0V100.7M163.5,0V100.7M0,11H174.8M0,33H174.8M0,55H174.8M0,77H174.8M0,99H174.8" stroke="#dedede" stroke-width="0.6" fill="none"/>
<use href="#eyeA" x="0" y="0" width="174.8" height="100.7" transform="translate(174.8,0) scale(-1,1)"/>
<rect x="0" y="0" width="174.8" height="100.7" fill="none" stroke="#cfcfcf" stroke-width="0.8"/>
</g>
<text x="26.5" y="452.7" font-size="10.7" text-anchor="middle" fill="#1a1a1a" stroke="#1a1a1a" stroke-width="0.22">Ch2</text>
<text x="219.2" y="498.8" font-size="8.1" text-anchor="end" fill="#1a1a1a" stroke="#1a1a1a" stroke-width="0.12">1549.77 nm</text>
<g transform="translate(46.1,512.4)">
<path d="M10.5,0V100.7M36,0V100.7M61.5,0V100.7M87,0V100.7M112.5,0V100.7M138,0V100.7M163.5,0V100.7M0,11H174.8M0,33H174.8M0,55H174.8M0,77H174.8M0,99H174.8" stroke="#dedede" stroke-width="0.6" fill="none"/>
<use href="#eyeA" x="0" y="0" width="174.8" height="100.7"/>
<rect x="0" y="0" width="174.8" height="100.7" fill="none" stroke="#cfcfcf" stroke-width="0.8"/>
</g>
<text x="26.5" y="565" font-size="10.7" text-anchor="middle" fill="#1a1a1a" stroke="#1a1a1a" stroke-width="0.22">Ch3</text>
<text x="219.2" y="611.1" font-size="8.1" text-anchor="end" fill="#1a1a1a" stroke="#1a1a1a" stroke-width="0.12">1551.23 nm</text>
<g transform="translate(46.1,624.2)">
<path d="M10.5,0V100.7M36,0V100.7M61.5,0V100.7M87,0V100.7M112.5,0V100.7M138,0V100.7M163.5,0V100.7M0,11H174.8M0,33H174.8M0,55H174.8M0,77H174.8M0,99H174.8" stroke="#dedede" stroke-width="0.6" fill="none"/>
<use href="#eyeA" x="0" y="0" width="174.8" height="100.7" transform="translate(174.8,0) scale(-1,1)"/>
<rect x="0" y="0" width="174.8" height="100.7" fill="none" stroke="#cfcfcf" stroke-width="0.8"/>
</g>
<text x="26.5" y="676.8" font-size="10.7" text-anchor="middle" fill="#1a1a1a" stroke="#1a1a1a" stroke-width="0.22">Ch4</text>
<text x="219.2" y="722.9" font-size="8.1" text-anchor="end" fill="#1a1a1a" stroke="#1a1a1a" stroke-width="0.12">1552.71 nm</text>
<text x="97.4" y="740.5" font-size="10.8" text-anchor="middle" fill="#1a1a1a" stroke="#1a1a1a" stroke-width="0.22">10 Gbaud PAM4</text>
<line x1="163" y1="736.5" x2="187" y2="736.5" stroke="#bbb" stroke-width="0.7"/>
<text x="203.5" y="740.5" font-size="10.6" text-anchor="middle" fill="#1a1a1a" stroke="#1a1a1a" stroke-width="0.22">30ps</text>
<text x="234" y="286" font-size="10.5" text-anchor="start" fill="#1a1a1a" stroke="#1a1a1a" stroke-width="0.45" font-weight="bold">f</text>
<path d="M283.4,288V389.3M319.9,288V389.3M356.3,288V389.3M392.8,288V389.3M429.3,288V389.3M269.1,380.1H444.2M269.1,359.2H444.2M269.1,338.2H444.2M269.1,317.3H444.2M269.1,296.4H444.2" stroke="#e3e3e3" stroke-width="0.7" fill="none"/>
<line x1="268.8" y1="388.5" x2="443.9" y2="288" stroke="#9fb5e3" stroke-width="0.8" stroke-dasharray="2.5,2"/>
<line x1="283.4" y1="376.3" x2="283.4" y2="378.2" stroke="#ee8aa0" stroke-width="2.4" stroke-linecap="round"/>
<line x1="298" y1="369.3" x2="298" y2="370.9" stroke="#ee8aa0" stroke-width="2.4" stroke-linecap="round"/>
<line x1="312.6" y1="360.6" x2="312.6" y2="362.8" stroke="#ee8aa0" stroke-width="2.4" stroke-linecap="round"/>
<line x1="327.2" y1="352.5" x2="327.2" y2="354.7" stroke="#ee8aa0" stroke-width="2.4" stroke-linecap="round"/>
<line x1="341.8" y1="342.3" x2="341.8" y2="344.9" stroke="#ee8aa0" stroke-width="2.4" stroke-linecap="round"/>
<line x1="356.3" y1="334.1" x2="356.3" y2="336.9" stroke="#ee8aa0" stroke-width="2.4" stroke-linecap="round"/>
<line x1="370.9" y1="325" x2="370.9" y2="327.7" stroke="#ee8aa0" stroke-width="2.4" stroke-linecap="round"/>
<line x1="385.5" y1="319.6" x2="385.5" y2="322.8" stroke="#ee8aa0" stroke-width="2.4" stroke-linecap="round"/>
<line x1="400.1" y1="314.2" x2="400.1" y2="316.3" stroke="#ee8aa0" stroke-width="2.4" stroke-linecap="round"/>
<line x1="414.7" y1="302.6" x2="414.7" y2="304.4" stroke="#ee8aa0" stroke-width="2.4" stroke-linecap="round"/>
<line x1="429.3" y1="296.4" x2="429.3" y2="296.4" stroke="#ee8aa0" stroke-width="2.4" stroke-linecap="round"/>
<circle cx="283.4" cy="380.1" r="1.5" fill="#1f4aa0"/>
<circle cx="298" cy="371.7" r="1.5" fill="#1f4aa0"/>
<circle cx="312.6" cy="363.4" r="1.5" fill="#1f4aa0"/>
<circle cx="327.2" cy="355" r="1.5" fill="#1f4aa0"/>
<circle cx="341.8" cy="346.6" r="1.5" fill="#1f4aa0"/>
<circle cx="356.3" cy="338.2" r="1.5" fill="#1f4aa0"/>
<circle cx="370.9" cy="329.9" r="1.5" fill="#1f4aa0"/>
<circle cx="385.5" cy="321.5" r="1.5" fill="#1f4aa0"/>
<circle cx="400.1" cy="313.1" r="1.5" fill="#1f4aa0"/>
<circle cx="414.7" cy="304.8" r="1.5" fill="#1f4aa0"/>
<circle cx="429.3" cy="296.4" r="1.5" fill="#1f4aa0"/>
<rect x="269.1" y="288" width="175.1" height="101.3" fill="none" stroke="#555" stroke-width="0.9"/>
<line x1="269.1" y1="380.1" x2="272.1" y2="380.1" stroke="#444" stroke-width="1.0"/>
<line x1="444.2" y1="380.1" x2="441.2" y2="380.1" stroke="#444" stroke-width="1.0"/>
<line x1="269.1" y1="359.2" x2="272.1" y2="359.2" stroke="#444" stroke-width="1.0"/>
<line x1="444.2" y1="359.2" x2="441.2" y2="359.2" stroke="#444" stroke-width="1.0"/>
<line x1="269.1" y1="338.2" x2="272.1" y2="338.2" stroke="#444" stroke-width="1.0"/>
<line x1="444.2" y1="338.2" x2="441.2" y2="338.2" stroke="#444" stroke-width="1.0"/>
<line x1="269.1" y1="317.3" x2="272.1" y2="317.3" stroke="#444" stroke-width="1.0"/>
<line x1="444.2" y1="317.3" x2="441.2" y2="317.3" stroke="#444" stroke-width="1.0"/>
<line x1="269.1" y1="296.4" x2="272.1" y2="296.4" stroke="#444" stroke-width="1.0"/>
<line x1="444.2" y1="296.4" x2="441.2" y2="296.4" stroke="#444" stroke-width="1.0"/>
<line x1="283.4" y1="288" x2="283.4" y2="291" stroke="#444" stroke-width="1.0"/>
<line x1="283.4" y1="389.3" x2="283.4" y2="386.3" stroke="#444" stroke-width="1.0"/>
<line x1="319.9" y1="288" x2="319.9" y2="291" stroke="#444" stroke-width="1.0"/>
<line x1="319.9" y1="389.3" x2="319.9" y2="386.3" stroke="#444" stroke-width="1.0"/>
<line x1="356.3" y1="288" x2="356.3" y2="291" stroke="#444" stroke-width="1.0"/>
<line x1="356.3" y1="389.3" x2="356.3" y2="386.3" stroke="#444" stroke-width="1.0"/>
<line x1="392.8" y1="288" x2="392.8" y2="291" stroke="#444" stroke-width="1.0"/>
<line x1="392.8" y1="389.3" x2="392.8" y2="386.3" stroke="#444" stroke-width="1.0"/>
<line x1="429.3" y1="288" x2="429.3" y2="291" stroke="#444" stroke-width="1.0"/>
<line x1="429.3" y1="389.3" x2="429.3" y2="386.3" stroke="#444" stroke-width="1.0"/>
<text x="266.8" y="299.3" font-size="8.3" text-anchor="end" fill="#1a1a1a" stroke="#1a1a1a" stroke-width="0.12">1</text>
<text x="266.8" y="341.1" font-size="8.3" text-anchor="end" fill="#1a1a1a" stroke="#1a1a1a" stroke-width="0.12">0.5</text>
<text x="266.8" y="383" font-size="8.3" text-anchor="end" fill="#1a1a1a" stroke="#1a1a1a" stroke-width="0.12">0</text>
<circle cx="286" cy="311.8" r="1.4" fill="#ee8aa0"/>
<text x="292.3" y="314.7" font-size="8.1" text-anchor="start" fill="#e8899d" stroke="#e8899d" stroke-width="0.12">Without GDC</text>
<circle cx="286" cy="323.4" r="1.4" fill="#1f4aa0"/>
<text x="292.3" y="326.3" font-size="8.1" text-anchor="start" fill="#2a52a3" stroke="#2a52a3" stroke-width="0.12">After GDC</text>
<rect x="389.8" y="340.9" width="46.8" height="30.9" fill="#fff" stroke="#777" stroke-width="0.6"/>
<rect x="392.1" y="343.3" width="2.5" height="28.5" fill="#b3d69c"/>
<rect x="396" y="345.2" width="2.5" height="26.6" fill="#b3d69c"/>
<rect x="399.9" y="344.6" width="2.5" height="27.2" fill="#b3d69c"/>
<rect x="403.8" y="343.9" width="2.5" height="27.9" fill="#b3d69c"/>
<rect x="407.7" y="344.6" width="2.5" height="27.2" fill="#b3d69c"/>
<rect x="411.6" y="344.5" width="2.5" height="27.3" fill="#b3d69c"/>
<rect x="415.5" y="344.2" width="2.5" height="27.6" fill="#b3d69c"/>
<rect x="419.4" y="345.9" width="2.5" height="25.9" fill="#b3d69c"/>
<rect x="423.3" y="344.2" width="2.5" height="27.6" fill="#b3d69c"/>
<rect x="427.2" y="343.8" width="2.5" height="28" fill="#b3d69c"/>
<rect x="431" y="345.4" width="2.5" height="26.4" fill="#b3d69c"/>
<text x="388.5" y="345.3" font-size="6" text-anchor="end" fill="#333" stroke="#333" stroke-width="0.12">1</text>
<text x="388.5" y="360.1" font-size="6" text-anchor="end" fill="#333" stroke="#333" stroke-width="0.12">0.5</text>
<text x="388.5" y="373.6" font-size="6" text-anchor="end" fill="#333" stroke="#333" stroke-width="0.12">0</text>
<text x="393.3" y="376.8" font-size="6" text-anchor="middle" fill="#333" stroke="#333" stroke-width="0.12">0</text>
<text x="412.5" y="376.8" font-size="6" text-anchor="middle" fill="#333" stroke="#333" stroke-width="0.12">0.5</text>
<text x="432.4" y="376.8" font-size="6" text-anchor="middle" fill="#333" stroke="#333" stroke-width="0.12">1</text>
<text x="390.5" y="339.9" font-size="5.5" text-anchor="start" fill="#333" stroke="#333" stroke-width="0.12">×10<tspan font-size="4" dy="-2">-3</tspan></text>
<text x="379.1" y="356.4" font-size="8.2" text-anchor="middle" fill="#1a1a1a" stroke="#1a1a1a" stroke-width="0.12" transform="rotate(-90 379.1 356.4)">Deviation</text>
<text x="413.1" y="384.3" font-size="8.2" text-anchor="middle" fill="#1a1a1a" stroke="#1a1a1a" stroke-width="0.12">Weight</text>
<path d="M283.4,400.8V502.1M319.9,400.8V502.1M356.3,400.8V502.1M392.8,400.8V502.1M429.3,400.8V502.1M269.1,492.9H444.2M269.1,472H444.2M269.1,451H444.2M269.1,430.1H444.2M269.1,409.2H444.2" stroke="#e3e3e3" stroke-width="0.7" fill="none"/>
<line x1="268.8" y1="501.3" x2="443.9" y2="400.8" stroke="#9fb5e3" stroke-width="0.8" stroke-dasharray="2.5,2"/>
<line x1="283.4" y1="488.7" x2="283.4" y2="491.2" stroke="#ee8aa0" stroke-width="2.4" stroke-linecap="round"/>
<line x1="298" y1="484.9" x2="298" y2="488.7" stroke="#ee8aa0" stroke-width="2.4" stroke-linecap="round"/>
<line x1="312.6" y1="476.2" x2="312.6" y2="480.3" stroke="#ee8aa0" stroke-width="2.4" stroke-linecap="round"/>
<line x1="327.2" y1="467.8" x2="327.2" y2="472" stroke="#ee8aa0" stroke-width="2.4" stroke-linecap="round"/>
<line x1="341.8" y1="458.6" x2="341.8" y2="462.5" stroke="#ee8aa0" stroke-width="2.4" stroke-linecap="round"/>
<line x1="356.3" y1="445.8" x2="356.3" y2="450.4" stroke="#ee8aa0" stroke-width="2.4" stroke-linecap="round"/>
<line x1="370.9" y1="436.3" x2="370.9" y2="441.4" stroke="#ee8aa0" stroke-width="2.4" stroke-linecap="round"/>
<line x1="385.5" y1="426.9" x2="385.5" y2="432.8" stroke="#ee8aa0" stroke-width="2.4" stroke-linecap="round"/>
<line x1="400.1" y1="416.7" x2="400.1" y2="423.4" stroke="#ee8aa0" stroke-width="2.4" stroke-linecap="round"/>
<line x1="414.7" y1="407.2" x2="414.7" y2="415.3" stroke="#ee8aa0" stroke-width="2.4" stroke-linecap="round"/>
<line x1="429.3" y1="400.8" x2="429.3" y2="403.3" stroke="#ee8aa0" stroke-width="2.4" stroke-linecap="round"/>
<circle cx="283.4" cy="492.9" r="1.5" fill="#1f4aa0"/>
<circle cx="298" cy="484.5" r="1.5" fill="#1f4aa0"/>
<circle cx="312.6" cy="476.2" r="1.5" fill="#1f4aa0"/>
<circle cx="327.2" cy="467.8" r="1.5" fill="#1f4aa0"/>
<circle cx="341.8" cy="459.4" r="1.5" fill="#1f4aa0"/>
<circle cx="356.3" cy="451" r="1.5" fill="#1f4aa0"/>
<circle cx="370.9" cy="442.7" r="1.5" fill="#1f4aa0"/>
<circle cx="385.5" cy="434.3" r="1.5" fill="#1f4aa0"/>
<circle cx="400.1" cy="425.9" r="1.5" fill="#1f4aa0"/>
<circle cx="414.7" cy="417.6" r="1.5" fill="#1f4aa0"/>
<circle cx="429.3" cy="409.2" r="1.5" fill="#1f4aa0"/>
<rect x="269.1" y="400.8" width="175.1" height="101.3" fill="none" stroke="#555" stroke-width="0.9"/>
<line x1="269.1" y1="492.9" x2="272.1" y2="492.9" stroke="#444" stroke-width="1.0"/>
<line x1="444.2" y1="492.9" x2="441.2" y2="492.9" stroke="#444" stroke-width="1.0"/>
<line x1="269.1" y1="472" x2="272.1" y2="472" stroke="#444" stroke-width="1.0"/>
<line x1="444.2" y1="472" x2="441.2" y2="472" stroke="#444" stroke-width="1.0"/>
<line x1="269.1" y1="451" x2="272.1" y2="451" stroke="#444" stroke-width="1.0"/>
<line x1="444.2" y1="451" x2="441.2" y2="451" stroke="#444" stroke-width="1.0"/>
<line x1="269.1" y1="430.1" x2="272.1" y2="430.1" stroke="#444" stroke-width="1.0"/>
<line x1="444.2" y1="430.1" x2="441.2" y2="430.1" stroke="#444" stroke-width="1.0"/>
<line x1="269.1" y1="409.2" x2="272.1" y2="409.2" stroke="#444" stroke-width="1.0"/>
<line x1="444.2" y1="409.2" x2="441.2" y2="409.2" stroke="#444" stroke-width="1.0"/>
<line x1="283.4" y1="400.8" x2="283.4" y2="403.8" stroke="#444" stroke-width="1.0"/>
<line x1="283.4" y1="502.1" x2="283.4" y2="499.1" stroke="#444" stroke-width="1.0"/>
<line x1="319.9" y1="400.8" x2="319.9" y2="403.8" stroke="#444" stroke-width="1.0"/>
<line x1="319.9" y1="502.1" x2="319.9" y2="499.1" stroke="#444" stroke-width="1.0"/>
<line x1="356.3" y1="400.8" x2="356.3" y2="403.8" stroke="#444" stroke-width="1.0"/>
<line x1="356.3" y1="502.1" x2="356.3" y2="499.1" stroke="#444" stroke-width="1.0"/>
<line x1="392.8" y1="400.8" x2="392.8" y2="403.8" stroke="#444" stroke-width="1.0"/>
<line x1="392.8" y1="502.1" x2="392.8" y2="499.1" stroke="#444" stroke-width="1.0"/>
<line x1="429.3" y1="400.8" x2="429.3" y2="403.8" stroke="#444" stroke-width="1.0"/>
<line x1="429.3" y1="502.1" x2="429.3" y2="499.1" stroke="#444" stroke-width="1.0"/>
<text x="266.8" y="412.1" font-size="8.3" text-anchor="end" fill="#1a1a1a" stroke="#1a1a1a" stroke-width="0.12">1</text>
<text x="266.8" y="453.9" font-size="8.3" text-anchor="end" fill="#1a1a1a" stroke="#1a1a1a" stroke-width="0.12">0.5</text>
<text x="266.8" y="495.8" font-size="8.3" text-anchor="end" fill="#1a1a1a" stroke="#1a1a1a" stroke-width="0.12">0</text>
<circle cx="286" cy="424.6" r="1.4" fill="#ee8aa0"/>
<text x="292.3" y="427.5" font-size="8.1" text-anchor="start" fill="#e8899d" stroke="#e8899d" stroke-width="0.12">Without GDC</text>
<circle cx="286" cy="436.2" r="1.4" fill="#1f4aa0"/>
<text x="292.3" y="439.1" font-size="8.1" text-anchor="start" fill="#2a52a3" stroke="#2a52a3" stroke-width="0.12">After GDC</text>
<rect x="389.8" y="453.7" width="46.8" height="30.9" fill="#fff" stroke="#777" stroke-width="0.6"/>
<rect x="392.1" y="457.9" width="2.5" height="26.7" fill="#b3d69c"/>
<rect x="396" y="458" width="2.5" height="26.6" fill="#b3d69c"/>
<rect x="399.9" y="456.4" width="2.5" height="28.2" fill="#b3d69c"/>
<rect x="403.8" y="457.1" width="2.5" height="27.5" fill="#b3d69c"/>
<rect x="407.7" y="456.5" width="2.5" height="28.1" fill="#b3d69c"/>
<rect x="411.6" y="457.5" width="2.5" height="27.1" fill="#b3d69c"/>
<rect x="415.5" y="456.1" width="2.5" height="28.5" fill="#b3d69c"/>
<rect x="419.4" y="456.3" width="2.5" height="28.3" fill="#b3d69c"/>
<rect x="423.3" y="457.2" width="2.5" height="27.4" fill="#b3d69c"/>
<rect x="427.2" y="456.1" width="2.5" height="28.5" fill="#b3d69c"/>
<rect x="431" y="458" width="2.5" height="26.6" fill="#b3d69c"/>
<text x="388.5" y="458.1" font-size="6" text-anchor="end" fill="#333" stroke="#333" stroke-width="0.12">1</text>
<text x="388.5" y="472.9" font-size="6" text-anchor="end" fill="#333" stroke="#333" stroke-width="0.12">0.5</text>
<text x="388.5" y="486.4" font-size="6" text-anchor="end" fill="#333" stroke="#333" stroke-width="0.12">0</text>
<text x="393.3" y="489.6" font-size="6" text-anchor="middle" fill="#333" stroke="#333" stroke-width="0.12">0</text>
<text x="412.5" y="489.6" font-size="6" text-anchor="middle" fill="#333" stroke="#333" stroke-width="0.12">0.5</text>
<text x="432.4" y="489.6" font-size="6" text-anchor="middle" fill="#333" stroke="#333" stroke-width="0.12">1</text>
<text x="390.5" y="452.7" font-size="5.5" text-anchor="start" fill="#333" stroke="#333" stroke-width="0.12">×10<tspan font-size="4" dy="-2">-3</tspan></text>
<text x="379.1" y="469.1" font-size="8.2" text-anchor="middle" fill="#1a1a1a" stroke="#1a1a1a" stroke-width="0.12" transform="rotate(-90 379.1 469.1)">Deviation</text>
<text x="413.1" y="497.1" font-size="8.2" text-anchor="middle" fill="#1a1a1a" stroke="#1a1a1a" stroke-width="0.12">Weight</text>
<path d="M283.4,512.6V613.9M312.6,512.6V613.9M341.8,512.6V613.9M370.9,512.6V613.9M400.1,512.6V613.9M429.3,512.6V613.9M269.1,604.7H444.2M269.1,583.8H444.2M269.1,562.9H444.2M269.1,541.9H444.2M269.1,521H444.2" stroke="#e3e3e3" stroke-width="0.7" fill="none"/>
<line x1="268.8" y1="613.1" x2="443.9" y2="512.6" stroke="#9fb5e3" stroke-width="0.8" stroke-dasharray="2.5,2"/>
<line x1="283.4" y1="602.2" x2="283.4" y2="604.7" stroke="#ee8aa0" stroke-width="2.4" stroke-linecap="round"/>
<line x1="298" y1="594.7" x2="298" y2="601.4" stroke="#ee8aa0" stroke-width="2.4" stroke-linecap="round"/>
<line x1="312.6" y1="585" x2="312.6" y2="593" stroke="#ee8aa0" stroke-width="2.4" stroke-linecap="round"/>
<line x1="327.2" y1="575.4" x2="327.2" y2="582.1" stroke="#ee8aa0" stroke-width="2.4" stroke-linecap="round"/>
<line x1="341.8" y1="567.5" x2="341.8" y2="574.1" stroke="#ee8aa0" stroke-width="2.4" stroke-linecap="round"/>
<line x1="356.3" y1="558.8" x2="356.3" y2="565.4" stroke="#ee8aa0" stroke-width="2.4" stroke-linecap="round"/>
<line x1="370.9" y1="549" x2="370.9" y2="555.3" stroke="#ee8aa0" stroke-width="2.4" stroke-linecap="round"/>
<line x1="385.5" y1="541.9" x2="385.5" y2="547.2" stroke="#ee8aa0" stroke-width="2.4" stroke-linecap="round"/>
<line x1="400.1" y1="533.8" x2="400.1" y2="540.4" stroke="#ee8aa0" stroke-width="2.4" stroke-linecap="round"/>
<line x1="414.7" y1="525.6" x2="414.7" y2="533.7" stroke="#ee8aa0" stroke-width="2.4" stroke-linecap="round"/>
<line x1="429.3" y1="516" x2="429.3" y2="525.6" stroke="#ee8aa0" stroke-width="2.4" stroke-linecap="round"/>
<circle cx="283.4" cy="604.7" r="1.5" fill="#1f4aa0"/>
<circle cx="298" cy="596.3" r="1.5" fill="#1f4aa0"/>
<circle cx="312.6" cy="588" r="1.5" fill="#1f4aa0"/>
<circle cx="327.2" cy="579.6" r="1.5" fill="#1f4aa0"/>
<circle cx="341.8" cy="571.2" r="1.5" fill="#1f4aa0"/>
<circle cx="356.3" cy="562.9" r="1.5" fill="#1f4aa0"/>
<circle cx="370.9" cy="554.5" r="1.5" fill="#1f4aa0"/>
<circle cx="385.5" cy="546.1" r="1.5" fill="#1f4aa0"/>
<circle cx="400.1" cy="537.7" r="1.5" fill="#1f4aa0"/>
<circle cx="414.7" cy="529.4" r="1.5" fill="#1f4aa0"/>
<circle cx="429.3" cy="521" r="1.5" fill="#1f4aa0"/>
<rect x="269.1" y="512.6" width="175.1" height="101.3" fill="none" stroke="#555" stroke-width="0.9"/>
<line x1="269.1" y1="604.7" x2="272.1" y2="604.7" stroke="#444" stroke-width="1.0"/>
<line x1="444.2" y1="604.7" x2="441.2" y2="604.7" stroke="#444" stroke-width="1.0"/>
<line x1="269.1" y1="583.8" x2="272.1" y2="583.8" stroke="#444" stroke-width="1.0"/>
<line x1="444.2" y1="583.8" x2="441.2" y2="583.8" stroke="#444" stroke-width="1.0"/>
<line x1="269.1" y1="562.9" x2="272.1" y2="562.9" stroke="#444" stroke-width="1.0"/>
<line x1="444.2" y1="562.9" x2="441.2" y2="562.9" stroke="#444" stroke-width="1.0"/>
<line x1="269.1" y1="541.9" x2="272.1" y2="541.9" stroke="#444" stroke-width="1.0"/>
<line x1="444.2" y1="541.9" x2="441.2" y2="541.9" stroke="#444" stroke-width="1.0"/>
<line x1="269.1" y1="521" x2="272.1" y2="521" stroke="#444" stroke-width="1.0"/>
<line x1="444.2" y1="521" x2="441.2" y2="521" stroke="#444" stroke-width="1.0"/>
<line x1="283.4" y1="512.6" x2="283.4" y2="515.6" stroke="#444" stroke-width="1.0"/>
<line x1="283.4" y1="613.9" x2="283.4" y2="610.9" stroke="#444" stroke-width="1.0"/>
<line x1="312.6" y1="512.6" x2="312.6" y2="515.6" stroke="#444" stroke-width="1.0"/>
<line x1="312.6" y1="613.9" x2="312.6" y2="610.9" stroke="#444" stroke-width="1.0"/>
<line x1="341.8" y1="512.6" x2="341.8" y2="515.6" stroke="#444" stroke-width="1.0"/>
<line x1="341.8" y1="613.9" x2="341.8" y2="610.9" stroke="#444" stroke-width="1.0"/>
<line x1="370.9" y1="512.6" x2="370.9" y2="515.6" stroke="#444" stroke-width="1.0"/>
<line x1="370.9" y1="613.9" x2="370.9" y2="610.9" stroke="#444" stroke-width="1.0"/>
<line x1="400.1" y1="512.6" x2="400.1" y2="515.6" stroke="#444" stroke-width="1.0"/>
<line x1="400.1" y1="613.9" x2="400.1" y2="610.9" stroke="#444" stroke-width="1.0"/>
<line x1="429.3" y1="512.6" x2="429.3" y2="515.6" stroke="#444" stroke-width="1.0"/>
<line x1="429.3" y1="613.9" x2="429.3" y2="610.9" stroke="#444" stroke-width="1.0"/>
<text x="266.8" y="523.9" font-size="8.3" text-anchor="end" fill="#1a1a1a" stroke="#1a1a1a" stroke-width="0.12">1</text>
<text x="266.8" y="565.8" font-size="8.3" text-anchor="end" fill="#1a1a1a" stroke="#1a1a1a" stroke-width="0.12">0.5</text>
<text x="266.8" y="607.6" font-size="8.3" text-anchor="end" fill="#1a1a1a" stroke="#1a1a1a" stroke-width="0.12">0</text>
<circle cx="286" cy="536.4" r="1.4" fill="#ee8aa0"/>
<text x="292.3" y="539.3" font-size="8.1" text-anchor="start" fill="#e8899d" stroke="#e8899d" stroke-width="0.12">Without GDC</text>
<circle cx="286" cy="548" r="1.4" fill="#1f4aa0"/>
<text x="292.3" y="550.9" font-size="8.1" text-anchor="start" fill="#2a52a3" stroke="#2a52a3" stroke-width="0.12">After GDC</text>
<rect x="389.8" y="565.5" width="46.8" height="30.9" fill="#fff" stroke="#777" stroke-width="0.6"/>
<rect x="392.1" y="570.5" width="2.5" height="25.9" fill="#b3d69c"/>
<rect x="396" y="569.3" width="2.5" height="27.1" fill="#b3d69c"/>
<rect x="399.9" y="569.6" width="2.5" height="26.8" fill="#b3d69c"/>
<rect x="403.8" y="569.4" width="2.5" height="27" fill="#b3d69c"/>
<rect x="407.7" y="567.9" width="2.5" height="28.5" fill="#b3d69c"/>
<rect x="411.6" y="569.4" width="2.5" height="27" fill="#b3d69c"/>
<rect x="415.5" y="570.1" width="2.5" height="26.3" fill="#b3d69c"/>
<rect x="419.4" y="569.9" width="2.5" height="26.5" fill="#b3d69c"/>
<rect x="423.3" y="570.6" width="2.5" height="25.8" fill="#b3d69c"/>
<rect x="427.2" y="568.4" width="2.5" height="28" fill="#b3d69c"/>
<rect x="431" y="569.1" width="2.5" height="27.3" fill="#b3d69c"/>
<text x="388.5" y="569.9" font-size="6" text-anchor="end" fill="#333" stroke="#333" stroke-width="0.12">1</text>
<text x="388.5" y="584.7" font-size="6" text-anchor="end" fill="#333" stroke="#333" stroke-width="0.12">0.5</text>
<text x="388.5" y="598.2" font-size="6" text-anchor="end" fill="#333" stroke="#333" stroke-width="0.12">0</text>
<text x="393.3" y="601.4" font-size="6" text-anchor="middle" fill="#333" stroke="#333" stroke-width="0.12">0</text>
<text x="412.5" y="601.4" font-size="6" text-anchor="middle" fill="#333" stroke="#333" stroke-width="0.12">0.5</text>
<text x="432.4" y="601.4" font-size="6" text-anchor="middle" fill="#333" stroke="#333" stroke-width="0.12">1</text>
<text x="390.5" y="564.5" font-size="5.5" text-anchor="start" fill="#333" stroke="#333" stroke-width="0.12">×10<tspan font-size="4" dy="-2">-3</tspan></text>
<text x="379.1" y="581" font-size="8.2" text-anchor="middle" fill="#1a1a1a" stroke="#1a1a1a" stroke-width="0.12" transform="rotate(-90 379.1 581)">Deviation</text>
<text x="413.1" y="608.9" font-size="8.2" text-anchor="middle" fill="#1a1a1a" stroke="#1a1a1a" stroke-width="0.12">Weight</text>
<path d="M283.4,624.5V725.8M319.9,624.5V725.8M356.3,624.5V725.8M392.8,624.5V725.8M429.3,624.5V725.8M269.1,716.6H444.2M269.1,695.7H444.2M269.1,674.8H444.2M269.1,653.8H444.2M269.1,632.9H444.2" stroke="#e3e3e3" stroke-width="0.7" fill="none"/>
<line x1="268.8" y1="725" x2="443.9" y2="624.5" stroke="#9fb5e3" stroke-width="0.8" stroke-dasharray="2.5,2"/>
<line x1="283.4" y1="716.6" x2="283.4" y2="716.6" stroke="#ee8aa0" stroke-width="2.4" stroke-linecap="round"/>
<line x1="298" y1="705.1" x2="298" y2="707.8" stroke="#ee8aa0" stroke-width="2.4" stroke-linecap="round"/>
<line x1="312.6" y1="695.1" x2="312.6" y2="698.9" stroke="#ee8aa0" stroke-width="2.4" stroke-linecap="round"/>
<line x1="327.2" y1="685.6" x2="327.2" y2="690.8" stroke="#ee8aa0" stroke-width="2.4" stroke-linecap="round"/>
<line x1="341.8" y1="676.7" x2="341.8" y2="681.6" stroke="#ee8aa0" stroke-width="2.4" stroke-linecap="round"/>
<line x1="356.3" y1="665.9" x2="356.3" y2="673.2" stroke="#ee8aa0" stroke-width="2.4" stroke-linecap="round"/>
<line x1="370.9" y1="656.5" x2="370.9" y2="663.7" stroke="#ee8aa0" stroke-width="2.4" stroke-linecap="round"/>
<line x1="385.5" y1="651.1" x2="385.5" y2="656.5" stroke="#ee8aa0" stroke-width="2.4" stroke-linecap="round"/>
<line x1="400.1" y1="641.1" x2="400.1" y2="647" stroke="#ee8aa0" stroke-width="2.4" stroke-linecap="round"/>
<line x1="414.7" y1="636.2" x2="414.7" y2="639.4" stroke="#ee8aa0" stroke-width="2.4" stroke-linecap="round"/>
<line x1="429.3" y1="628.7" x2="429.3" y2="631.2" stroke="#ee8aa0" stroke-width="2.4" stroke-linecap="round"/>
<circle cx="283.4" cy="716.6" r="1.5" fill="#1f4aa0"/>
<circle cx="298" cy="708.2" r="1.5" fill="#1f4aa0"/>
<circle cx="312.6" cy="699.9" r="1.5" fill="#1f4aa0"/>
<circle cx="327.2" cy="691.5" r="1.5" fill="#1f4aa0"/>
<circle cx="341.8" cy="683.1" r="1.5" fill="#1f4aa0"/>
<circle cx="356.3" cy="674.8" r="1.5" fill="#1f4aa0"/>
<circle cx="370.9" cy="666.4" r="1.5" fill="#1f4aa0"/>
<circle cx="385.5" cy="658" r="1.5" fill="#1f4aa0"/>
<circle cx="400.1" cy="649.6" r="1.5" fill="#1f4aa0"/>
<circle cx="414.7" cy="641.3" r="1.5" fill="#1f4aa0"/>
<circle cx="429.3" cy="632.9" r="1.5" fill="#1f4aa0"/>
<rect x="269.1" y="624.5" width="175.1" height="101.3" fill="none" stroke="#555" stroke-width="0.9"/>
<line x1="269.1" y1="716.6" x2="272.1" y2="716.6" stroke="#444" stroke-width="1.0"/>
<line x1="444.2" y1="716.6" x2="441.2" y2="716.6" stroke="#444" stroke-width="1.0"/>
<line x1="269.1" y1="695.7" x2="272.1" y2="695.7" stroke="#444" stroke-width="1.0"/>
<line x1="444.2" y1="695.7" x2="441.2" y2="695.7" stroke="#444" stroke-width="1.0"/>
<line x1="269.1" y1="674.8" x2="272.1" y2="674.8" stroke="#444" stroke-width="1.0"/>
<line x1="444.2" y1="674.8" x2="441.2" y2="674.8" stroke="#444" stroke-width="1.0"/>
<line x1="269.1" y1="653.8" x2="272.1" y2="653.8" stroke="#444" stroke-width="1.0"/>
<line x1="444.2" y1="653.8" x2="441.2" y2="653.8" stroke="#444" stroke-width="1.0"/>
<line x1="269.1" y1="632.9" x2="272.1" y2="632.9" stroke="#444" stroke-width="1.0"/>
<line x1="444.2" y1="632.9" x2="441.2" y2="632.9" stroke="#444" stroke-width="1.0"/>
<line x1="283.4" y1="624.5" x2="283.4" y2="627.5" stroke="#444" stroke-width="1.0"/>
<line x1="283.4" y1="725.8" x2="283.4" y2="722.8" stroke="#444" stroke-width="1.0"/>
<line x1="319.9" y1="624.5" x2="319.9" y2="627.5" stroke="#444" stroke-width="1.0"/>
<line x1="319.9" y1="725.8" x2="319.9" y2="722.8" stroke="#444" stroke-width="1.0"/>
<line x1="356.3" y1="624.5" x2="356.3" y2="627.5" stroke="#444" stroke-width="1.0"/>
<line x1="356.3" y1="725.8" x2="356.3" y2="722.8" stroke="#444" stroke-width="1.0"/>
<line x1="392.8" y1="624.5" x2="392.8" y2="627.5" stroke="#444" stroke-width="1.0"/>
<line x1="392.8" y1="725.8" x2="392.8" y2="722.8" stroke="#444" stroke-width="1.0"/>
<line x1="429.3" y1="624.5" x2="429.3" y2="627.5" stroke="#444" stroke-width="1.0"/>
<line x1="429.3" y1="725.8" x2="429.3" y2="722.8" stroke="#444" stroke-width="1.0"/>
<text x="266.8" y="635.8" font-size="8.3" text-anchor="end" fill="#1a1a1a" stroke="#1a1a1a" stroke-width="0.12">1</text>
<text x="266.8" y="677.6" font-size="8.3" text-anchor="end" fill="#1a1a1a" stroke="#1a1a1a" stroke-width="0.12">0.5</text>
<text x="266.8" y="719.5" font-size="8.3" text-anchor="end" fill="#1a1a1a" stroke="#1a1a1a" stroke-width="0.12">0</text>
<circle cx="286" cy="648.3" r="1.4" fill="#ee8aa0"/>
<text x="292.3" y="651.2" font-size="8.1" text-anchor="start" fill="#e8899d" stroke="#e8899d" stroke-width="0.12">Without GDC</text>
<circle cx="286" cy="659.9" r="1.4" fill="#1f4aa0"/>
<text x="292.3" y="662.8" font-size="8.1" text-anchor="start" fill="#2a52a3" stroke="#2a52a3" stroke-width="0.12">After GDC</text>
<rect x="389.8" y="677.4" width="46.8" height="30.9" fill="#fff" stroke="#777" stroke-width="0.6"/>
<rect x="392.1" y="681.9" width="2.5" height="26.4" fill="#b3d69c"/>
<rect x="396" y="682.4" width="2.5" height="25.9" fill="#b3d69c"/>
<rect x="399.9" y="681.9" width="2.5" height="26.4" fill="#b3d69c"/>
<rect x="403.8" y="680.8" width="2.5" height="27.5" fill="#b3d69c"/>
<rect x="407.7" y="681.7" width="2.5" height="26.6" fill="#b3d69c"/>
<rect x="411.6" y="681.6" width="2.5" height="26.7" fill="#b3d69c"/>
<rect x="415.5" y="680.8" width="2.5" height="27.5" fill="#b3d69c"/>
<rect x="419.4" y="680.6" width="2.5" height="27.7" fill="#b3d69c"/>
<rect x="423.3" y="680" width="2.5" height="28.3" fill="#b3d69c"/>
<rect x="427.2" y="681.6" width="2.5" height="26.7" fill="#b3d69c"/>
<rect x="431" y="680.7" width="2.5" height="27.6" fill="#b3d69c"/>
<text x="388.5" y="681.8" font-size="6" text-anchor="end" fill="#333" stroke="#333" stroke-width="0.12">1</text>
<text x="388.5" y="696.6" font-size="6" text-anchor="end" fill="#333" stroke="#333" stroke-width="0.12">0.5</text>
<text x="388.5" y="710.1" font-size="6" text-anchor="end" fill="#333" stroke="#333" stroke-width="0.12">0</text>
<text x="393.3" y="713.3" font-size="6" text-anchor="middle" fill="#333" stroke="#333" stroke-width="0.12">0</text>
<text x="412.5" y="713.3" font-size="6" text-anchor="middle" fill="#333" stroke="#333" stroke-width="0.12">0.5</text>
<text x="432.4" y="713.3" font-size="6" text-anchor="middle" fill="#333" stroke="#333" stroke-width="0.12">1</text>
<text x="390.5" y="676.4" font-size="5.5" text-anchor="start" fill="#333" stroke="#333" stroke-width="0.12">×10<tspan font-size="4" dy="-2">-3</tspan></text>
<text x="379.1" y="692.8" font-size="8.2" text-anchor="middle" fill="#1a1a1a" stroke="#1a1a1a" stroke-width="0.12" transform="rotate(-90 379.1 692.8)">Deviation</text>
<text x="413.1" y="720.8" font-size="8.2" text-anchor="middle" fill="#1a1a1a" stroke="#1a1a1a" stroke-width="0.12">Weight</text>
<text x="283.4" y="733.2" font-size="8.3" text-anchor="middle" fill="#1a1a1a" stroke="#1a1a1a" stroke-width="0.12">0</text>
<text x="356.3" y="733.2" font-size="8.3" text-anchor="middle" fill="#1a1a1a" stroke="#1a1a1a" stroke-width="0.12">0.5</text>
<text x="429.3" y="733.2" font-size="8.3" text-anchor="middle" fill="#1a1a1a" stroke="#1a1a1a" stroke-width="0.12">1</text>
<text x="356" y="744.2" font-size="10.8" text-anchor="middle" fill="#1a1a1a" stroke="#1a1a1a" stroke-width="0.22">Target weight</text>
<text x="247.2" y="506" font-size="11" text-anchor="middle" fill="#1a1a1a" stroke="#1a1a1a" stroke-width="0.22" transform="rotate(-90 247.2 506)">Measured weight</text>
<text x="457.2" y="282.6" font-size="10.8" text-anchor="start" fill="#1a1a1a" stroke="#1a1a1a" stroke-width="0.45" font-weight="bold">g</text>
<defs></defs>
<path d="M510.3,378.8L581.9,364.4L623.4,389.1M510.3,359.1L581.9,344.8L623.4,369.4M510.3,339.4L581.9,325.1L623.4,349.7M510.3,319.7L581.9,305.4L623.4,330M510.3,300L581.9,285.7L623.4,310.3M528.2,375.2L528.2,296.5M564,368L564,289.3M581.9,364.4L581.9,285.7M592.3,370.6L592.3,291.9M613,382.9L613,304.2M520.7,384.9L592.3,370.6M541.4,397.2L613,382.9M528.2,375.2L569.7,399.8M564,368L605.5,392.6" stroke="#e6e6e6" stroke-width="0.6" fill="none"/>
<path d="M510.3,300L510.3,378.8L551.8,403.4L623.4,389.1" stroke="#bdbdbd" stroke-width="0.8" fill="none"/>
<line x1="510.3" y1="378.8" x2="513.3" y2="378.1" stroke="#bdbdbd" stroke-width="0.6"/>
<text x="507.2" y="381.1" font-size="10.5" text-anchor="end" fill="#262626" stroke="#262626" stroke-width="0.22">-1</text>
<line x1="510.3" y1="359.1" x2="513.3" y2="358.5" stroke="#bdbdbd" stroke-width="0.6"/>
<text x="507.2" y="361.4" font-size="10.5" text-anchor="end" fill="#262626" stroke="#262626" stroke-width="0.22">-0.5</text>
<line x1="510.3" y1="339.4" x2="513.3" y2="338.8" stroke="#bdbdbd" stroke-width="0.6"/>
<text x="507.2" y="341.7" font-size="10.5" text-anchor="end" fill="#262626" stroke="#262626" stroke-width="0.22">0</text>
<line x1="510.3" y1="319.7" x2="513.3" y2="319.1" stroke="#bdbdbd" stroke-width="0.6"/>
<text x="507.2" y="322" font-size="10.5" text-anchor="end" fill="#262626" stroke="#262626" stroke-width="0.22">0.5</text>
<line x1="510.3" y1="300" x2="513.3" y2="299.4" stroke="#bdbdbd" stroke-width="0.6"/>
<text x="507.2" y="302.3" font-size="10.5" text-anchor="end" fill="#262626" stroke="#262626" stroke-width="0.22">1</text>
<linearGradient id="g0_22" gradientUnits="userSpaceOnUse" x1="0" y1="352" x2="0" y2="391.3"><stop offset="0" stop-color="#ffffff"/><stop offset="0.12" stop-color="#f3f6fa"/><stop offset="0.35" stop-color="#c6d2e1"/><stop offset="0.6" stop-color="#95aac6"/><stop offset="1" stop-color="#46699a"/></linearGradient>
<polygon points="581,345.8 598.9,342.3 609.3,348.4 609.3,387.8 591.4,391.3 581,385.2" fill="url(#g0_22)"/>
<polygon points="510.3,339.4 581.9,325.1 623.4,349.7 551.8,364" fill="#e6e9f3" fill-opacity="0.75"/>
<polygon points="560.2,333.5 578.1,330 588.5,336.1 570.6,339.7" fill="#fff"/>
<polygon points="581,345.8 598.9,342.3 609.3,348.4 591.4,352" fill="#fff"/>
<polygon points="545.2,353 563.1,349.4 573.5,355.6 555.6,359.1" fill="#fff"/>
<linearGradient id="g0_11" gradientUnits="userSpaceOnUse" x1="0" y1="297.8" x2="0" y2="346.8"><stop offset="0" stop-color="#b4454a"/><stop offset="0.22" stop-color="#b95055"/><stop offset="0.5" stop-color="#cb8385"/><stop offset="0.75" stop-color="#e2b8b9"/><stop offset="0.93" stop-color="#f8eded"/><stop offset="1" stop-color="#ffffff"/></linearGradient>
<polygon points="524.4,301.3 542.3,297.8 552.7,303.9 552.7,343.3 534.8,346.8 524.4,340.7" fill="url(#g0_11)"/>
<text x="514.7" y="394.9" font-size="10.5" text-anchor="middle" fill="#262626" stroke="#262626" stroke-width="0.22">1</text>
<text x="535.1" y="407.3" font-size="10.5" text-anchor="middle" fill="#262626" stroke="#262626" stroke-width="0.22">2</text>
<text x="575.4" y="410.9" font-size="10.5" text-anchor="middle" fill="#262626" stroke="#262626" stroke-width="0.22">1</text>
<text x="611.1" y="404.7" font-size="10.5" text-anchor="middle" fill="#262626" stroke="#262626" stroke-width="0.22">2</text>
<text x="521" y="410.6" font-size="10.8" text-anchor="middle" fill="#111" stroke="#111" stroke-width="0.22" transform="rotate(30.4 521 410.6)">Row index</text>
<text x="601.6" y="416" font-size="10.8" text-anchor="middle" fill="#111" stroke="#111" stroke-width="0.22" transform="rotate(-11.3 601.6 416)">Column index</text>
<text x="483.3" y="349.4" font-size="10.8" text-anchor="middle" fill="#111" stroke="#111" stroke-width="0.22" transform="rotate(-90 483.3 349.4)">Kernal elements</text>
<g font-size="10.5" stroke="#000" stroke-width="0.15"><text x="606.6" y="309.6">W</text><text x="620" y="309.2">=</text><path d="M632.2,291.7H630V320.6H632.2M662.8,291.7H665V320.6H662.8" fill="none" stroke="#333" stroke-width="0.8"/><text x="637.4" y="302" text-anchor="middle">1</text><text x="655.5" y="302" text-anchor="middle">0</text><text x="637.4" y="317.6" text-anchor="middle">0</text><text x="655.5" y="317.6" text-anchor="middle">−1</text></g>
<path d="M563.5,426.1V448M559.4,437.1L563.5,448.6L567.7,437.1" fill="none" stroke="#4f6a7d" stroke-width="1.2" stroke-linejoin="miter"/>
<rect x="466.8" y="451.8" width="209.8" height="293.4" rx="6.5" fill="none" stroke="#999" stroke-width="0.8" stroke-dasharray="2.6,2.8"/>
<path d="M510.3,545.5L581.9,531.2L623.4,555.9M510.3,525.9L581.9,511.6L623.4,536.2M510.3,506.2L581.9,491.9L623.4,516.5M510.3,486.5L581.9,472.2L623.4,496.8M510.3,466.8L581.9,452.5L623.4,477.1M528.2,542L528.2,463.3M564,534.8L564,456.1M581.9,531.2L581.9,452.5M592.3,537.4L592.3,458.7M613,549.7L613,471M520.7,551.7L592.3,537.4M541.4,564L613,549.7M528.2,542L569.7,566.6M564,534.8L605.5,559.4" stroke="#e6e6e6" stroke-width="0.6" fill="none"/>
<path d="M510.3,466.8L510.3,545.5L551.8,570.1L623.4,555.9" stroke="#bdbdbd" stroke-width="0.8" fill="none"/>
<line x1="510.3" y1="545.5" x2="513.3" y2="544.9" stroke="#bdbdbd" stroke-width="0.6"/>
<text x="507.2" y="547.8" font-size="10.5" text-anchor="end" fill="#262626" stroke="#262626" stroke-width="0.22">-1</text>
<line x1="510.3" y1="525.9" x2="513.3" y2="525.3" stroke="#bdbdbd" stroke-width="0.6"/>
<text x="507.2" y="528.2" font-size="10.5" text-anchor="end" fill="#262626" stroke="#262626" stroke-width="0.22">-0.5</text>
<line x1="510.3" y1="506.2" x2="513.3" y2="505.6" stroke="#bdbdbd" stroke-width="0.6"/>
<text x="507.2" y="508.5" font-size="10.5" text-anchor="end" fill="#262626" stroke="#262626" stroke-width="0.22">0</text>
<line x1="510.3" y1="486.5" x2="513.3" y2="485.9" stroke="#bdbdbd" stroke-width="0.6"/>
<text x="507.2" y="488.8" font-size="10.5" text-anchor="end" fill="#262626" stroke="#262626" stroke-width="0.22">0.5</text>
<line x1="510.3" y1="466.8" x2="513.3" y2="466.2" stroke="#bdbdbd" stroke-width="0.6"/>
<text x="507.2" y="469.1" font-size="10.5" text-anchor="end" fill="#262626" stroke="#262626" stroke-width="0.22">1</text>
<polygon points="510.3,506.2 581.9,491.9 623.4,516.5 551.8,530.8" fill="#e6e9f3" fill-opacity="0.75"/>
<polygon points="581,512.6 598.9,509.1 609.3,515.2 591.4,518.8" fill="#fff"/>
<linearGradient id="g166_12" gradientUnits="userSpaceOnUse" x1="0" y1="477.1" x2="0" y2="506.5"><stop offset="0" stop-color="#d08a8d"/><stop offset="0.3" stop-color="#d59799"/><stop offset="0.65" stop-color="#e6bfc0"/><stop offset="0.9" stop-color="#f8eeee"/><stop offset="1" stop-color="#ffffff"/></linearGradient>
<polygon points="560.2,480.7 578.1,477.1 588.5,483.2 588.5,502.9 570.6,506.5 560.2,500.3" fill="url(#g166_12)"/>
<linearGradient id="g166_11" gradientUnits="userSpaceOnUse" x1="0" y1="464.6" x2="0" y2="513.6"><stop offset="0" stop-color="#b4454a"/><stop offset="0.22" stop-color="#b95055"/><stop offset="0.5" stop-color="#cb8385"/><stop offset="0.75" stop-color="#e2b8b9"/><stop offset="0.93" stop-color="#f8eded"/><stop offset="1" stop-color="#ffffff"/></linearGradient>
<polygon points="524.4,468.1 542.3,464.6 552.7,470.7 552.7,510.1 534.8,513.6 524.4,507.5" fill="url(#g166_11)"/>
<linearGradient id="g166_21" gradientUnits="userSpaceOnUse" x1="0" y1="496.5" x2="0" y2="525.9"><stop offset="0" stop-color="#d08a8d"/><stop offset="0.3" stop-color="#d59799"/><stop offset="0.65" stop-color="#e6bfc0"/><stop offset="0.9" stop-color="#f8eeee"/><stop offset="1" stop-color="#ffffff"/></linearGradient>
<polygon points="545.2,500.1 563.1,496.5 573.5,502.7 573.5,522.4 555.6,525.9 545.2,519.8" fill="url(#g166_21)"/>
<text x="514.7" y="561.7" font-size="10.5" text-anchor="middle" fill="#262626" stroke="#262626" stroke-width="0.22">1</text>
<text x="535.1" y="574.1" font-size="10.5" text-anchor="middle" fill="#262626" stroke="#262626" stroke-width="0.22">2</text>
<text x="575.4" y="577.7" font-size="10.5" text-anchor="middle" fill="#262626" stroke="#262626" stroke-width="0.22">1</text>
<text x="611.1" y="571.5" font-size="10.5" text-anchor="middle" fill="#262626" stroke="#262626" stroke-width="0.22">2</text>
<text x="521" y="577.4" font-size="10.8" text-anchor="middle" fill="#111" stroke="#111" stroke-width="0.22" transform="rotate(30.4 521 577.4)">Row index</text>
<text x="601.6" y="582.8" font-size="10.8" text-anchor="middle" fill="#111" stroke="#111" stroke-width="0.22" transform="rotate(-11.3 601.6 582.8)">Column index</text>
<text x="483.3" y="516.2" font-size="10.8" text-anchor="middle" fill="#111" stroke="#111" stroke-width="0.22" transform="rotate(-90 483.3 516.2)">Kernal elements</text>
<g font-size="10.5" stroke="#000" stroke-width="0.15"><text x="592" y="477">W′</text><text x="606.5" y="477">=</text><path d="M619.1,461H616.9V489H619.1M662.7,461H664.9V489H662.7" fill="none" stroke="#333" stroke-width="0.8"/><text x="629" y="468.8" text-anchor="middle">1</text><text x="654" y="468.8" text-anchor="middle">0.5</text><text x="628.6" y="485.4" text-anchor="middle">0.5</text><text x="654" y="485.4" text-anchor="middle">0</text></g>
<text x="562.6" y="603" font-size="10" text-anchor="middle" fill="#1a1a1a" stroke="#1a1a1a" stroke-width="0.22">&amp;</text>
<path d="M510.3,698.2L581.9,684L623.4,708.6M510.3,678.6L581.9,664.3L623.4,688.9M510.3,658.9L581.9,644.6L623.4,669.2M510.3,639.2L581.9,624.9L623.4,649.5M510.3,619.5L581.9,605.2L623.4,629.9M528.2,694.7L528.2,616M564,687.5L564,608.8M581.9,684L581.9,605.2M592.3,690.1L592.3,611.4M613,702.4L613,623.7M520.7,704.4L592.3,690.1M541.4,716.7L613,702.4M528.2,694.7L569.7,719.3M564,687.5L605.5,712.1" stroke="#e6e6e6" stroke-width="0.6" fill="none"/>
<path d="M510.3,619.5L510.3,698.2L551.8,722.9L623.4,708.6" stroke="#bdbdbd" stroke-width="0.8" fill="none"/>
<line x1="510.3" y1="698.2" x2="513.3" y2="697.6" stroke="#bdbdbd" stroke-width="0.6"/>
<text x="507.2" y="700.5" font-size="10.5" text-anchor="end" fill="#262626" stroke="#262626" stroke-width="0.22">-1</text>
<line x1="510.3" y1="678.6" x2="513.3" y2="678" stroke="#bdbdbd" stroke-width="0.6"/>
<text x="507.2" y="680.9" font-size="10.5" text-anchor="end" fill="#262626" stroke="#262626" stroke-width="0.22">-0.5</text>
<line x1="510.3" y1="658.9" x2="513.3" y2="658.3" stroke="#bdbdbd" stroke-width="0.6"/>
<text x="507.2" y="661.2" font-size="10.5" text-anchor="end" fill="#262626" stroke="#262626" stroke-width="0.22">0</text>
<line x1="510.3" y1="639.2" x2="513.3" y2="638.6" stroke="#bdbdbd" stroke-width="0.6"/>
<text x="507.2" y="641.5" font-size="10.5" text-anchor="end" fill="#262626" stroke="#262626" stroke-width="0.22">0.5</text>
<line x1="510.3" y1="619.5" x2="513.3" y2="618.9" stroke="#bdbdbd" stroke-width="0.6"/>
<text x="507.2" y="621.8" font-size="10.5" text-anchor="end" fill="#262626" stroke="#262626" stroke-width="0.22">1</text>
<polygon points="510.3,658.9 581.9,644.6 623.4,669.2 551.8,683.5" fill="#e6e9f3" fill-opacity="0.75"/>
<linearGradient id="g319_12" gradientUnits="userSpaceOnUse" x1="0" y1="610.1" x2="0" y2="659.2"><stop offset="0" stop-color="#b4454a"/><stop offset="0.22" stop-color="#b95055"/><stop offset="0.5" stop-color="#cb8385"/><stop offset="0.75" stop-color="#e2b8b9"/><stop offset="0.93" stop-color="#f8eded"/><stop offset="1" stop-color="#ffffff"/></linearGradient>
<polygon points="560.2,613.7 578.1,610.1 588.5,616.3 588.5,655.6 570.6,659.2 560.2,653" fill="url(#g319_12)"/>
<linearGradient id="g319_11" gradientUnits="userSpaceOnUse" x1="0" y1="617.3" x2="0" y2="666.3"><stop offset="0" stop-color="#b4454a"/><stop offset="0.22" stop-color="#b95055"/><stop offset="0.5" stop-color="#cb8385"/><stop offset="0.75" stop-color="#e2b8b9"/><stop offset="0.93" stop-color="#f8eded"/><stop offset="1" stop-color="#ffffff"/></linearGradient>
<polygon points="524.4,620.8 542.3,617.3 552.7,623.4 552.7,662.8 534.8,666.3 524.4,660.2" fill="url(#g319_11)"/>
<linearGradient id="g319_22" gradientUnits="userSpaceOnUse" x1="0" y1="622.4" x2="0" y2="671.5"><stop offset="0" stop-color="#b4454a"/><stop offset="0.22" stop-color="#b95055"/><stop offset="0.5" stop-color="#cb8385"/><stop offset="0.75" stop-color="#e2b8b9"/><stop offset="0.93" stop-color="#f8eded"/><stop offset="1" stop-color="#ffffff"/></linearGradient>
<polygon points="581,626 598.9,622.4 609.3,628.6 609.3,667.9 591.4,671.5 581,665.3" fill="url(#g319_22)"/>
<linearGradient id="g319_21" gradientUnits="userSpaceOnUse" x1="0" y1="629.6" x2="0" y2="678.6"><stop offset="0" stop-color="#b4454a"/><stop offset="0.22" stop-color="#b95055"/><stop offset="0.5" stop-color="#cb8385"/><stop offset="0.75" stop-color="#e2b8b9"/><stop offset="0.93" stop-color="#f8eded"/><stop offset="1" stop-color="#ffffff"/></linearGradient>
<polygon points="545.2,633.1 563.1,629.6 573.5,635.7 573.5,675.1 555.6,678.6 545.2,672.5" fill="url(#g319_21)"/>
<text x="514.7" y="714.4" font-size="10.5" text-anchor="middle" fill="#262626" stroke="#262626" stroke-width="0.22">1</text>
<text x="535.1" y="726.8" font-size="10.5" text-anchor="middle" fill="#262626" stroke="#262626" stroke-width="0.22">2</text>
<text x="575.4" y="730.4" font-size="10.5" text-anchor="middle" fill="#262626" stroke="#262626" stroke-width="0.22">1</text>
<text x="611.1" y="724.2" font-size="10.5" text-anchor="middle" fill="#262626" stroke="#262626" stroke-width="0.22">2</text>
<text x="521" y="730.1" font-size="10.8" text-anchor="middle" fill="#111" stroke="#111" stroke-width="0.22" transform="rotate(30.4 521 730.1)">Row index</text>
<text x="601.6" y="735.5" font-size="10.8" text-anchor="middle" fill="#111" stroke="#111" stroke-width="0.22" transform="rotate(-11.3 601.6 735.5)">Column index</text>
<text x="483.3" y="668.9" font-size="10.8" text-anchor="middle" fill="#111" stroke="#111" stroke-width="0.22" transform="rotate(-90 483.3 668.9)">Kernal elements</text>
<g font-size="12.4" stroke="#000" stroke-width="0.15"><text x="608.2" y="622.1">W</text><text x="620.3" y="616.5" font-size="8">*</text><text x="627.8" y="622">=</text><path d="M641,603H638V635.2H641M663.2,603H666.2V635.2H663.2" fill="none" stroke="#333" stroke-width="0.9"/><text x="645" y="613.9" text-anchor="middle">1</text><text x="660" y="613.9" text-anchor="middle">1</text><text x="645" y="632.3" text-anchor="middle">1</text><text x="660" y="632.3" text-anchor="middle">1</text></g>
</svg></body></html>
